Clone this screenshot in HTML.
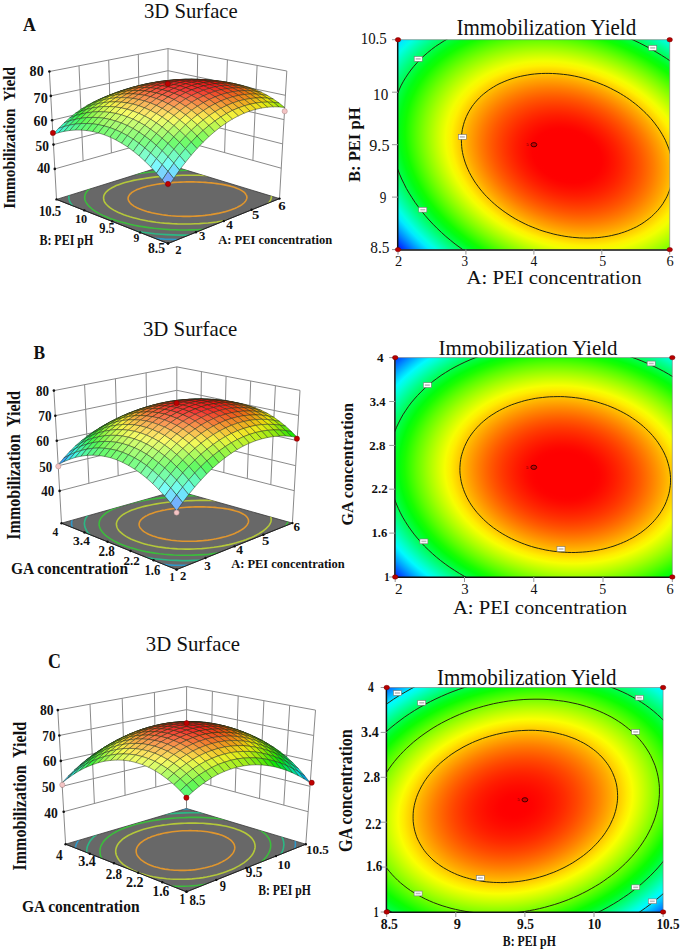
<!DOCTYPE html>
<html><head><meta charset="utf-8"><style>
html,body{margin:0;padding:0;background:#fff;}
svg{display:block;font-family:"Liberation Serif",serif;}
</style></head><body>
<svg width="685" height="952" viewBox="0 0 685 952" font-family="Liberation Serif, serif">
<rect width="685" height="952" fill="#fff"/>
<path d="M54.8,168.9L168.0,137.0L281.2,168.2M53.5,144.6L168.0,114.9L282.6,143.9M52.1,120.2L168.0,92.8L284.0,119.6M50.8,95.9L168.0,70.7L285.4,95.3M49.4,71.5L168.0,48.6L286.8,71.0M83.1,161.0L79.0,65.8M111.4,153.0L108.7,60.0M139.7,145.0L138.3,54.3M252.9,160.4L257.1,65.4M224.6,152.6L227.4,59.8M196.3,144.8L197.7,54.2M56.5,199.4L49.4,71.5M168.0,164.6L168.0,48.6M279.5,198.6L286.8,71.0" stroke="#8a8a8a" stroke-width="1" fill="none"/>
<clipPath id="flA"><polygon points="168.0,243.5 56.5,199.4 168.0,164.6 279.5,198.6"/></clipPath>
<polygon points="168.0,243.5 56.5,199.4 168.0,164.6 279.5,198.6" fill="#686868" stroke="#3a3a3a" stroke-width="0.8"/>
<g clip-path="url(#flA)" fill="none" stroke-width="1.6">
<path d="M281.0,169.9L275.9,168.8L270.5,167.9L264.9,167.0L259.1,166.2L253.2,165.5L247.0,164.9L240.6,164.3L234.1,163.8L227.5,163.4L220.8,163.1L213.9,162.8L207.0,162.6L200.1,162.5L193.1,162.5L186.1,162.6L179.1,162.7L172.1,162.9L165.2,163.1L158.3,163.5L151.5,163.9L144.8,164.4L138.2,164.9L131.8,165.6L125.5,166.3L119.4,167.0L113.5,167.9L107.8,168.8L102.3,169.8L97.0,170.9L92.0,172.1L87.3,173.3L82.8,174.6L78.7,176.0L74.8,177.4L71.3,178.9L68.0,180.5L65.1,182.1L62.6,183.8L60.4,185.6L58.5,187.4L57.1,189.3L55.9,191.2L55.2,193.1L54.8,195.1L54.8,197.2L55.1,199.2L55.8,201.3L56.9,203.4L58.4,205.5L60.2,207.6L62.4,209.7L64.9,211.8L67.7,213.9L70.9,215.9L74.4,217.9L78.3,219.9L82.4,221.8L86.8,223.7L91.5,225.4L96.5,227.1L101.8,228.8L107.2,230.3L112.9,231.8L118.8,233.1L124.9,234.3L131.2,235.4L137.6,236.4L144.2,237.3L150.8,238.0L157.6,238.6L164.5,239.1L171.4,239.4L178.4,239.6L185.4,239.7L192.4,239.6L199.4,239.4L206.4,239.0L213.3,238.5L220.1,237.8L226.9,237.1L233.5,236.2L240.0,235.1L246.4,234.0L252.6,232.7L258.6,231.3L264.4,229.9L270.0,228.3L275.4,226.6L280.5,224.9L285.4,223.0L290.0,221.1L294.3,219.2L298.3,217.2L302.0,215.1L305.4,213.0L308.4,210.9L311.2,208.8L313.5,206.7L315.6,204.5L317.2,202.4L318.5,200.2L319.5,198.1L320.1,196.0L320.3,194.0L320.1,192.0L319.5,190.0L318.6,188.1L317.4,186.2L315.7,184.4L313.8,182.6L311.4,180.9L308.7,179.3L305.7,177.7L302.3,176.2L298.7,174.8L294.7,173.4L290.4,172.2L285.8,171.0L281.0,169.9Z" stroke="#2f98c8"/>
<path d="M271.1,173.0L266.6,172.0L261.8,171.1L256.8,170.3L251.6,169.6L246.2,168.9L240.7,168.3L235.0,167.8L229.2,167.3L223.3,167.0L217.3,166.6L211.1,166.4L205.0,166.2L198.8,166.1L192.5,166.1L186.2,166.1L180.0,166.2L173.7,166.4L167.5,166.7L161.4,167.0L155.3,167.4L149.3,167.8L143.4,168.3L137.7,168.9L132.0,169.6L126.6,170.3L121.3,171.1L116.2,171.9L111.3,172.9L106.6,173.9L102.1,174.9L97.9,176.1L93.9,177.2L90.1,178.5L86.7,179.8L83.5,181.2L80.6,182.6L78.1,184.1L75.8,185.7L73.8,187.2L72.2,188.9L70.8,190.6L69.8,192.3L69.1,194.1L68.8,195.8L68.8,197.7L69.1,199.5L69.7,201.4L70.7,203.2L72.0,205.1L73.6,207.0L75.6,208.8L77.8,210.7L80.4,212.5L83.2,214.3L86.4,216.1L89.8,217.8L93.5,219.5L97.5,221.1L101.7,222.7L106.1,224.2L110.8,225.6L115.7,226.9L120.8,228.2L126.1,229.4L131.5,230.4L137.1,231.4L142.9,232.3L148.7,233.0L154.7,233.7L160.8,234.2L166.9,234.6L173.1,234.9L179.4,235.1L185.6,235.1L191.9,235.0L198.2,234.8L204.4,234.5L210.6,234.1L216.7,233.5L222.7,232.8L228.6,232.0L234.5,231.1L240.2,230.1L245.7,229.0L251.1,227.8L256.3,226.5L261.3,225.1L266.1,223.7L270.7,222.1L275.0,220.5L279.2,218.9L283.0,217.2L286.6,215.4L289.9,213.6L292.9,211.7L295.7,209.9L298.1,208.0L300.2,206.1L302.0,204.2L303.5,202.3L304.7,200.4L305.5,198.5L306.1,196.7L306.2,194.8L306.1,193.0L305.6,191.2L304.8,189.5L303.7,187.8L302.2,186.2L300.4,184.6L298.3,183.0L295.9,181.5L293.2,180.1L290.2,178.8L286.9,177.5L283.4,176.2L279.5,175.1L275.4,174.0L271.1,173.0Z" stroke="#2cb884"/>
<path d="M259.9,176.5L256.0,175.6L251.8,174.8L247.5,174.1L243.0,173.4L238.4,172.8L233.6,172.3L228.6,171.8L223.6,171.4L218.5,171.0L213.3,170.7L208.0,170.5L202.6,170.4L197.2,170.3L191.8,170.2L186.4,170.3L181.0,170.4L175.6,170.5L170.2,170.7L164.9,171.0L159.6,171.4L154.4,171.8L149.3,172.2L144.3,172.8L139.5,173.4L134.7,174.0L130.2,174.7L125.7,175.5L121.5,176.3L117.4,177.2L113.5,178.2L109.9,179.2L106.4,180.2L103.2,181.3L100.2,182.5L97.5,183.7L95.0,185.0L92.7,186.3L90.7,187.7L89.0,189.1L87.6,190.5L86.5,192.0L85.6,193.5L85.0,195.0L84.7,196.6L84.7,198.1L85.0,199.7L85.5,201.3L86.4,202.9L87.5,204.5L88.9,206.1L90.6,207.7L92.5,209.3L94.7,210.9L97.2,212.4L99.9,213.9L102.9,215.4L106.1,216.8L109.5,218.2L113.2,219.5L117.0,220.8L121.1,222.0L125.3,223.1L129.7,224.2L134.3,225.2L139.0,226.1L143.9,226.9L148.8,227.6L153.9,228.3L159.1,228.8L164.4,229.2L169.7,229.6L175.1,229.8L180.5,230.0L185.9,230.0L191.3,229.9L196.7,229.8L202.1,229.5L207.5,229.1L212.8,228.6L218.0,228.1L223.1,227.4L228.2,226.6L233.1,225.8L237.9,224.9L242.6,223.8L247.1,222.7L251.4,221.6L255.6,220.3L259.5,219.0L263.3,217.7L266.9,216.3L270.2,214.8L273.3,213.3L276.2,211.8L278.8,210.2L281.2,208.6L283.3,207.0L285.1,205.4L286.7,203.7L288.0,202.1L289.0,200.5L289.7,198.9L290.2,197.3L290.3,195.7L290.2,194.1L289.8,192.6L289.1,191.0L288.1,189.6L286.8,188.1L285.3,186.7L283.5,185.4L281.4,184.1L279.1,182.8L276.5,181.6L273.6,180.5L270.5,179.4L267.2,178.4L263.7,177.4L259.9,176.5Z" stroke="#3cbc3c"/>
<path d="M246.6,180.6L243.4,179.9L240.0,179.2L236.5,178.6L232.8,178.0L229.0,177.5L225.1,177.0L221.1,176.6L217.0,176.2L212.8,175.9L208.5,175.7L204.2,175.5L199.9,175.3L195.5,175.3L191.0,175.2L186.6,175.3L182.2,175.3L177.8,175.5L173.4,175.6L169.0,175.9L164.7,176.2L160.5,176.5L156.3,176.9L152.3,177.4L148.3,177.9L144.4,178.5L140.7,179.1L137.1,179.7L133.6,180.4L130.3,181.2L127.1,182.0L124.1,182.8L121.3,183.7L118.7,184.7L116.2,185.6L114.0,186.7L111.9,187.7L110.1,188.8L108.5,189.9L107.1,191.1L105.9,192.3L105.0,193.5L104.3,194.7L103.8,196.0L103.6,197.3L103.6,198.5L103.8,199.8L104.2,201.1L104.9,202.5L105.8,203.8L107.0,205.0L108.4,206.3L109.9,207.6L111.8,208.9L113.8,210.1L116.0,211.3L118.4,212.5L121.0,213.6L123.8,214.7L126.8,215.8L130.0,216.8L133.3,217.7L136.7,218.6L140.3,219.5L144.1,220.2L147.9,221.0L151.9,221.6L155.9,222.2L160.1,222.7L164.3,223.1L168.6,223.4L172.9,223.7L177.3,223.9L181.7,224.0L186.2,224.0L190.6,224.0L195.0,223.8L199.4,223.6L203.8,223.3L208.1,223.0L212.4,222.5L216.6,222.0L220.7,221.4L224.7,220.7L228.7,220.0L232.5,219.1L236.1,218.3L239.7,217.4L243.1,216.4L246.3,215.3L249.4,214.3L252.3,213.1L255.0,212.0L257.6,210.8L259.9,209.5L262.1,208.3L264.0,207.0L265.7,205.7L267.2,204.4L268.5,203.1L269.6,201.8L270.4,200.5L271.0,199.1L271.3,197.8L271.5,196.5L271.4,195.3L271.0,194.0L270.4,192.7L269.6,191.5L268.6,190.3L267.3,189.2L265.9,188.1L264.2,187.0L262.3,185.9L260.1,184.9L257.8,184.0L255.3,183.1L252.6,182.2L249.7,181.4L246.6,180.6Z" stroke="#b4c83a"/>
<path d="M229.3,185.9L227.0,185.4L224.6,184.9L222.1,184.4L219.5,184.0L216.9,183.6L214.1,183.2L211.3,182.9L208.4,182.7L205.4,182.4L202.4,182.2L199.3,182.1L196.2,182.0L193.1,181.9L190.0,181.9L186.9,181.9L183.7,182.0L180.6,182.1L177.5,182.2L174.4,182.4L171.4,182.6L168.4,182.9L165.5,183.2L162.6,183.5L159.8,183.9L157.0,184.3L154.4,184.7L151.8,185.2L149.4,185.8L147.0,186.3L144.8,186.9L142.7,187.5L140.7,188.2L138.8,188.9L137.1,189.6L135.5,190.4L134.1,191.1L132.8,191.9L131.6,192.7L130.7,193.6L129.8,194.4L129.2,195.3L128.7,196.2L128.3,197.1L128.1,198.0L128.1,198.9L128.3,199.8L128.6,200.7L129.1,201.6L129.8,202.5L130.6,203.4L131.5,204.3L132.7,205.2L133.9,206.1L135.4,206.9L136.9,207.8L138.7,208.6L140.5,209.3L142.5,210.1L144.6,210.8L146.8,211.5L149.2,212.1L151.6,212.8L154.1,213.3L156.8,213.8L159.5,214.3L162.3,214.8L165.2,215.1L168.1,215.5L171.1,215.8L174.1,216.0L177.2,216.2L180.3,216.3L183.4,216.4L186.6,216.4L189.7,216.4L192.8,216.3L195.9,216.1L199.0,215.9L202.1,215.7L205.1,215.4L208.1,215.0L211.0,214.6L213.8,214.1L216.6,213.6L219.3,213.1L221.9,212.5L224.4,211.9L226.8,211.2L229.1,210.5L231.3,209.8L233.3,209.0L235.3,208.2L237.1,207.4L238.7,206.5L240.2,205.7L241.6,204.8L242.8,203.9L243.9,203.0L244.8,202.1L245.5,201.1L246.1,200.2L246.5,199.3L246.8,198.4L246.9,197.4L246.8,196.5L246.6,195.6L246.1,194.8L245.6,193.9L244.9,193.0L244.0,192.2L242.9,191.4L241.7,190.6L240.4,189.9L238.9,189.1L237.2,188.4L235.4,187.7L233.5,187.1L231.5,186.5L229.3,185.9Z" stroke="#e0962e"/>
</g>
<path d="M56.5,199.4L168.0,243.5L279.5,198.6" stroke="#222" stroke-width="1" fill="none"/>
<circle cx="168.0" cy="243.5" r="1.2" fill="#111"/><circle cx="195.9" cy="232.3" r="1.2" fill="#111"/><circle cx="223.8" cy="221.1" r="1.2" fill="#111"/><circle cx="251.6" cy="209.8" r="1.2" fill="#111"/><circle cx="279.5" cy="198.6" r="1.2" fill="#111"/><circle cx="168.0" cy="243.5" r="1.2" fill="#111"/><circle cx="140.1" cy="232.5" r="1.2" fill="#111"/><circle cx="112.2" cy="221.4" r="1.2" fill="#111"/><circle cx="84.4" cy="210.4" r="1.2" fill="#111"/><circle cx="56.5" cy="199.4" r="1.2" fill="#111"/><circle cx="54.8" cy="168.9" r="1.3" fill="#111"/><circle cx="53.5" cy="144.6" r="1.3" fill="#111"/><circle cx="52.1" cy="120.2" r="1.3" fill="#111"/><circle cx="50.8" cy="95.9" r="1.3" fill="#111"/><circle cx="49.4" cy="71.5" r="1.3" fill="#111"/>
<g stroke="#1e2a18" stroke-width="0.6" stroke-opacity="0.75" stroke-linejoin="round">
<path d="M168.0,96.3L173.8,98.7L168.0,102.3L162.2,99.9Z" fill="#00d990"/>
<path d="M162.2,94.3L168.0,96.3L162.2,99.9L156.4,97.8Z" fill="#00d959"/>
<path d="M173.8,93.2L179.6,95.5L173.8,98.7L168.0,96.3Z" fill="#00d948"/>
<path d="M156.4,92.7L162.2,94.3L156.4,97.8L150.6,96.1Z" fill="#00da29"/>
<path d="M179.7,90.4L185.4,92.6L179.6,95.5L173.8,93.2Z" fill="#00d906"/>
<path d="M168.0,91.2L173.8,93.2L168.0,96.3L162.2,94.3Z" fill="#00da12"/>
<path d="M150.5,91.6L156.4,92.7L150.6,96.1L144.8,94.9Z" fill="#01dc00"/>
<path d="M162.2,89.7L168.0,91.2L162.2,94.3L156.4,92.7Z" fill="#1ddb00"/>
<path d="M173.8,88.5L179.7,90.4L173.8,93.2L168.0,91.2Z" fill="#2fda00"/>
<path d="M185.5,88.0L191.3,90.1L185.4,92.6L179.7,90.4Z" fill="#35d900"/>
<path d="M144.7,90.8L150.5,91.6L144.8,94.9L138.9,94.0Z" fill="#26de01"/>
<path d="M156.3,88.6L162.2,89.7L156.4,92.7L150.5,91.6Z" fill="#47dd00"/>
<path d="M168.0,87.1L173.8,88.5L168.0,91.2L162.2,89.7Z" fill="#5edc00"/>
<path d="M179.7,86.2L185.5,88.0L179.7,90.4L173.8,88.5Z" fill="#6adb00"/>
<path d="M191.4,85.9L197.2,88.0L191.3,90.1L185.5,88.0Z" fill="#6bda00"/>
<path d="M138.9,90.4L144.7,90.8L138.9,94.0L133.1,93.6Z" fill="#45e002"/>
<path d="M162.2,86.1L168.0,87.1L162.2,89.7L156.3,88.6Z" fill="#87de01"/>
<path d="M173.9,84.8L179.7,86.2L173.8,88.5L168.0,87.1Z" fill="#98dd00"/>
<path d="M197.3,84.3L203.1,86.3L197.2,88.0L191.4,85.9Z" fill="#9bdb00"/>
<path d="M150.5,87.9L156.3,88.6L150.5,91.6L144.7,90.8Z" fill="#6cdf01"/>
<path d="M185.6,84.3L191.4,85.9L185.5,88.0L179.7,86.2Z" fill="#9fdc00"/>
<path d="M133.0,90.5L138.9,90.4L133.1,93.6L127.3,93.6Z" fill="#5ee103"/>
<path d="M144.6,87.6L150.5,87.9L144.7,90.8L138.9,90.4Z" fill="#8ae002"/>
<path d="M156.3,85.5L162.2,86.1L156.3,88.6L150.5,87.9Z" fill="#abe002"/>
<path d="M168.0,83.9L173.9,84.8L168.0,87.1L162.2,86.1Z" fill="#c1df01"/>
<path d="M179.7,83.0L185.6,84.3L179.7,86.2L173.9,84.8Z" fill="#cdde01"/>
<path d="M191.5,82.7L197.3,84.3L191.4,85.9L185.6,84.3Z" fill="#cedd00"/>
<path d="M203.2,83.1L209.0,85.0L203.1,86.3L197.3,84.3Z" fill="#c4dc00"/>
<path d="M127.1,91.0L133.0,90.5L127.3,93.6L121.4,94.0Z" fill="#70e305"/>
<path d="M150.5,85.3L156.3,85.5L150.5,87.9L144.6,87.6Z" fill="#c8e103"/>
<path d="M185.6,81.6L191.5,82.7L185.6,84.3L179.7,83.0Z" fill="#dfc201"/>
<path d="M209.1,82.3L214.9,84.1L209.0,85.0L203.2,83.1Z" fill="#dcd100"/>
<path d="M138.8,87.8L144.6,87.6L138.9,90.4L133.0,90.5Z" fill="#a1e204"/>
<path d="M162.2,83.4L168.0,83.9L162.2,86.1L156.3,85.5Z" fill="#e0dd02"/>
<path d="M173.9,82.2L179.7,83.0L173.9,84.8L168.0,83.9Z" fill="#e0ca02"/>
<path d="M197.4,81.6L203.2,83.1L197.3,84.3L191.5,82.7Z" fill="#ddc401"/>
<path d="M121.3,91.9L127.1,91.0L121.4,94.0L115.6,94.8Z" fill="#7ce507"/>
<path d="M132.9,88.4L138.8,87.8L133.0,90.5L127.1,91.0Z" fill="#b3e406"/>
<path d="M144.6,85.5L150.5,85.3L144.6,87.6L138.8,87.8Z" fill="#dee305"/>
<path d="M156.3,83.3L162.2,83.4L156.3,85.5L150.5,85.3Z" fill="#e2c504"/>
<path d="M168.0,81.7L173.9,82.2L168.0,83.9L162.2,83.4Z" fill="#e1ad03"/>
<path d="M179.8,80.8L185.6,81.6L179.7,83.0L173.9,82.2Z" fill="#e09f02"/>
<path d="M191.5,80.5L197.4,81.6L191.5,82.7L185.6,81.6Z" fill="#df9c02"/>
<path d="M203.3,80.9L209.1,82.3L203.2,83.1L197.4,81.6Z" fill="#dea401"/>
<path d="M215.0,81.9L220.8,83.7L214.9,84.1L209.1,82.3Z" fill="#ddb601"/>
<path d="M115.5,93.3L121.3,91.9L115.6,94.8L109.7,96.1Z" fill="#82e70a"/>
<path d="M127.1,89.4L132.9,88.4L127.1,91.0L121.3,91.9Z" fill="#bde609"/>
<path d="M138.7,86.2L144.6,85.5L138.8,87.8L132.9,88.4Z" fill="#e5dc08"/>
<path d="M150.4,83.6L156.3,83.3L150.5,85.3L144.6,85.5Z" fill="#e4b406"/>
<path d="M162.2,81.7L168.0,81.7L162.2,83.4L156.3,83.3Z" fill="#e39605"/>
<path d="M173.9,80.5L179.8,80.8L173.9,82.2L168.0,81.7Z" fill="#e28304"/>
<path d="M185.7,79.9L191.5,80.5L185.6,81.6L179.8,80.8Z" fill="#e17a03"/>
<path d="M197.4,79.9L203.3,80.9L197.4,81.6L191.5,80.5Z" fill="#e07c02"/>
<path d="M209.2,80.6L215.0,81.9L209.1,82.3L203.3,80.9Z" fill="#df8901"/>
<path d="M220.9,82.0L226.7,83.6L220.8,83.7L215.0,81.9Z" fill="#dea101"/>
<path d="M109.6,95.1L115.5,93.3L109.7,96.1L103.9,97.8Z" fill="#81e90e"/>
<path d="M132.9,87.3L138.7,86.2L132.9,88.4L127.1,89.4Z" fill="#e7d70b"/>
<path d="M144.5,84.4L150.4,83.6L144.6,85.5L138.7,86.2Z" fill="#e6a90a"/>
<path d="M168.0,80.6L173.9,80.5L168.0,81.7L162.2,81.7Z" fill="#e56d07"/>
<path d="M191.6,79.4L197.4,79.9L191.5,80.5L185.7,79.9Z" fill="#e25c04"/>
<path d="M203.4,79.7L209.2,80.6L203.3,80.9L197.4,79.9Z" fill="#e16303"/>
<path d="M226.8,82.4L232.6,84.0L226.7,83.6L220.9,82.0Z" fill="#df9201"/>
<path d="M121.2,90.9L127.1,89.4L121.3,91.9L115.5,93.3Z" fill="#c2e80d"/>
<path d="M156.3,82.2L162.2,81.7L156.3,83.3L150.4,83.6Z" fill="#e58608"/>
<path d="M179.8,79.6L185.7,79.9L179.8,80.8L173.9,80.5Z" fill="#e45f05"/>
<path d="M215.1,80.8L220.9,82.0L215.0,81.9L209.2,80.6Z" fill="#e07502"/>
<path d="M103.8,97.4L109.6,95.1L103.9,97.8L98.1,100.0Z" fill="#7bea12"/>
<path d="M115.4,92.8L121.2,90.9L115.5,93.3L109.6,95.1Z" fill="#bfea11"/>
<path d="M127.0,88.9L132.9,87.3L127.1,89.4L121.2,90.9Z" fill="#e9d80f"/>
<path d="M138.7,85.6L144.5,84.4L138.7,86.2L132.9,87.3Z" fill="#e8a50e"/>
<path d="M150.4,83.0L156.3,82.2L150.4,83.6L144.5,84.4Z" fill="#e87d0c"/>
<path d="M162.2,81.1L168.0,80.6L162.2,81.7L156.3,82.2Z" fill="#e75f0a"/>
<path d="M173.9,79.8L179.8,79.6L173.9,80.5L168.0,80.6Z" fill="#e64b08"/>
<path d="M185.7,79.2L191.6,79.4L185.7,79.9L179.8,79.6Z" fill="#e54207"/>
<path d="M197.5,79.3L203.4,79.7L197.4,79.9L191.6,79.4Z" fill="#e34405"/>
<path d="M209.3,80.0L215.1,80.8L209.2,80.6L203.4,79.7Z" fill="#e25004"/>
<path d="M221.0,81.3L226.8,82.4L220.9,82.0L215.1,80.8Z" fill="#e16803"/>
<path d="M232.7,83.3L238.5,84.8L232.6,84.0L226.8,82.4Z" fill="#e08a02"/>
<path d="M156.3,82.1L162.2,81.1L156.3,82.2L150.4,83.0Z" fill="#e9580e"/>
<path d="M179.8,79.5L185.7,79.2L179.8,79.6L173.9,79.8Z" fill="#e7300a"/>
<path d="M98.0,100.1L103.8,97.4L98.1,100.0L92.4,102.6Z" fill="#6eec17"/>
<path d="M109.6,95.2L115.4,92.8L109.6,95.1L103.8,97.4Z" fill="#b7eb16"/>
<path d="M121.1,90.9L127.0,88.9L121.2,90.9L115.4,92.8Z" fill="#ebdf14"/>
<path d="M132.8,87.3L138.7,85.6L132.9,87.3L127.0,88.9Z" fill="#eaa912"/>
<path d="M144.5,84.4L150.4,83.0L144.5,84.4L138.7,85.6Z" fill="#ea7b10"/>
<path d="M168.0,80.5L173.9,79.8L168.0,80.6L162.2,81.1Z" fill="#e83f0c"/>
<path d="M191.6,79.2L197.5,79.3L191.6,79.4L185.7,79.2Z" fill="#e62c08"/>
<path d="M203.4,79.6L209.3,80.0L203.4,79.7L197.5,79.3Z" fill="#e43306"/>
<path d="M215.2,80.6L221.0,81.3L215.1,80.8L209.3,80.0Z" fill="#e34405"/>
<path d="M226.9,82.3L232.7,83.3L226.8,82.4L221.0,81.3Z" fill="#e26104"/>
<path d="M238.6,84.7L244.3,86.0L238.5,84.8L232.7,83.3Z" fill="#e18802"/>
<path d="M92.3,103.3L98.0,100.1L92.4,102.6L86.6,105.7Z" fill="#5cee1d"/>
<path d="M103.8,98.0L109.6,95.2L103.8,97.4L98.0,100.1Z" fill="#a9ed1b"/>
<path d="M115.3,93.4L121.1,90.9L115.4,92.8L109.6,95.2Z" fill="#eced1a"/>
<path d="M126.9,89.4L132.8,87.3L127.0,88.9L121.1,90.9Z" fill="#ecb218"/>
<path d="M138.6,86.1L144.5,84.4L138.7,85.6L132.8,87.3Z" fill="#ec8116"/>
<path d="M150.4,83.5L156.3,82.1L150.4,83.0L144.5,84.4Z" fill="#eb5914"/>
<path d="M162.1,81.6L168.0,80.5L162.2,81.1L156.3,82.1Z" fill="#ea3a11"/>
<path d="M173.9,80.3L179.8,79.5L173.9,79.8L168.0,80.5Z" fill="#e9260f"/>
<path d="M185.7,79.7L191.6,79.2L185.7,79.2L179.8,79.5Z" fill="#e81c0c"/>
<path d="M197.5,79.7L203.4,79.6L197.5,79.3L191.6,79.2Z" fill="#e71d0a"/>
<path d="M209.3,80.4L215.2,80.6L209.3,80.0L203.4,79.6Z" fill="#e52808"/>
<path d="M221.1,81.8L226.9,82.3L221.0,81.3L215.2,80.6Z" fill="#e43f06"/>
<path d="M232.8,83.8L238.6,84.7L232.7,83.3L226.9,82.3Z" fill="#e36004"/>
<path d="M244.4,86.5L250.2,87.7L244.3,86.0L238.6,84.7Z" fill="#e28d03"/>
<path d="M86.6,107.0L92.3,103.3L86.6,105.7L80.9,109.3Z" fill="#45ef22"/>
<path d="M98.0,101.3L103.8,98.0L98.0,100.1L92.3,103.3Z" fill="#96ef21"/>
<path d="M109.5,96.3L115.3,93.4L109.6,95.2L103.8,98.0Z" fill="#dcee20"/>
<path d="M121.1,92.0L126.9,89.4L121.1,90.9L115.3,93.4Z" fill="#eec21e"/>
<path d="M144.5,85.4L150.4,83.5L144.5,84.4L138.6,86.1Z" fill="#ed601a"/>
<path d="M156.3,83.1L162.1,81.6L156.3,82.1L150.4,83.5Z" fill="#ec3d17"/>
<path d="M168.0,81.5L173.9,80.3L168.0,80.5L162.1,81.6Z" fill="#eb2414"/>
<path d="M179.8,80.5L185.7,79.7L179.8,79.5L173.9,80.3Z" fill="#ea1411"/>
<path d="M191.7,80.2L197.5,79.7L191.6,79.2L185.7,79.7Z" fill="#e90f0f"/>
<path d="M215.2,81.6L221.1,81.8L215.2,80.6L209.3,80.4Z" fill="#e62509"/>
<path d="M227.0,83.3L232.8,83.8L226.9,82.3L221.1,81.8Z" fill="#e54007"/>
<path d="M238.7,85.7L244.4,86.5L238.6,84.7L232.8,83.8Z" fill="#e46705"/>
<path d="M250.3,88.7L256.0,89.8L250.2,87.7L244.4,86.5Z" fill="#e29804"/>
<path d="M132.8,88.4L138.6,86.1L132.8,87.3L126.9,89.4Z" fill="#ed8c1c"/>
<path d="M203.4,80.6L209.3,80.4L203.4,79.6L197.5,79.7Z" fill="#e8140c"/>
<path d="M80.9,111.2L86.6,107.0L80.9,109.3L75.2,113.4Z" fill="#2af129"/>
<path d="M103.7,99.8L109.5,96.3L103.8,98.0L98.0,101.3Z" fill="#c7f026"/>
<path d="M115.3,95.1L121.1,92.0L115.3,93.4L109.5,96.3Z" fill="#f0d725"/>
<path d="M138.6,87.8L144.5,85.4L138.6,86.1L132.8,88.4Z" fill="#ef6e20"/>
<path d="M162.1,83.1L168.0,81.5L162.1,81.6L156.3,83.1Z" fill="#ed281b"/>
<path d="M173.9,81.8L179.8,80.5L173.9,80.3L168.0,81.5Z" fill="#ec1818"/>
<path d="M197.6,81.2L203.4,80.6L197.5,79.7L191.7,80.2Z" fill="#ea1111"/>
<path d="M221.1,83.3L227.0,83.3L221.1,81.8L215.2,81.6Z" fill="#e7270b"/>
<path d="M232.8,85.3L238.7,85.7L232.8,83.8L227.0,83.3Z" fill="#e64809"/>
<path d="M256.1,91.4L261.8,92.4L256.0,89.8L250.3,88.7Z" fill="#e3aa05"/>
<path d="M92.2,105.1L98.0,101.3L92.3,103.3L86.6,107.0Z" fill="#7df028"/>
<path d="M126.9,91.1L132.8,88.4L126.9,89.4L121.1,92.0Z" fill="#ef9e23"/>
<path d="M150.4,85.1L156.3,83.1L150.4,83.5L144.5,85.4Z" fill="#ee471e"/>
<path d="M185.8,81.2L191.7,80.2L185.7,79.7L179.8,80.5Z" fill="#eb1414"/>
<path d="M209.4,81.9L215.2,81.6L209.3,80.4L203.4,80.6Z" fill="#e8120e"/>
<path d="M244.5,88.0L250.3,88.7L244.4,86.5L238.7,85.7Z" fill="#e47306"/>
<path d="M75.2,115.8L80.9,111.2L75.2,113.4L69.6,117.9Z" fill="#2ff253"/>
<path d="M86.5,109.4L92.2,105.1L86.6,107.0L80.9,111.2Z" fill="#60f22e"/>
<path d="M98.0,103.6L103.7,99.8L98.0,101.3L92.2,105.1Z" fill="#adf22d"/>
<path d="M109.5,98.6L115.3,95.1L109.5,96.3L103.7,99.8Z" fill="#f1f12c"/>
<path d="M121.1,94.2L126.9,91.1L121.1,92.0L115.3,95.1Z" fill="#f1b52a"/>
<path d="M132.8,90.6L138.6,87.8L132.8,88.4L126.9,91.1Z" fill="#f08228"/>
<path d="M144.5,87.6L150.4,85.1L144.5,85.4L138.6,87.8Z" fill="#f05725"/>
<path d="M156.3,85.2L162.1,83.1L156.3,83.1L150.4,85.1Z" fill="#ef3422"/>
<path d="M168.0,83.6L173.9,81.8L168.0,81.5L162.1,83.1Z" fill="#ee1f1f"/>
<path d="M179.9,82.6L185.8,81.2L179.8,80.5L173.9,81.8Z" fill="#ed1b1b"/>
<path d="M191.7,82.3L197.6,81.2L191.7,80.2L185.8,81.2Z" fill="#ec1717"/>
<path d="M203.5,82.7L209.4,81.9L203.4,80.6L197.6,81.2Z" fill="#eb1313"/>
<path d="M215.2,83.7L221.1,83.3L215.2,81.6L209.4,81.9Z" fill="#e91710"/>
<path d="M227.0,85.4L232.8,85.3L227.0,83.3L221.1,83.3Z" fill="#e8310d"/>
<path d="M238.7,87.8L244.5,88.0L238.7,85.7L232.8,85.3Z" fill="#e7560a"/>
<path d="M250.3,90.8L256.1,91.4L250.3,88.7L244.5,88.0Z" fill="#e58608"/>
<path d="M261.9,94.6L267.6,95.5L261.8,92.4L256.1,91.4Z" fill="#e4c206"/>
<path d="M69.6,120.9L75.2,115.8L69.6,117.9L64.0,122.9Z" fill="#35f383"/>
<path d="M80.8,114.1L86.5,109.4L80.9,111.2L75.2,115.8Z" fill="#40f335"/>
<path d="M92.2,108.0L98.0,103.6L92.2,105.1L86.5,109.4Z" fill="#8ff334"/>
<path d="M103.7,102.6L109.5,98.6L103.7,99.8L98.0,103.6Z" fill="#d6f333"/>
<path d="M115.3,97.9L121.1,94.2L115.3,95.1L109.5,98.6Z" fill="#f3d132"/>
<path d="M126.9,93.9L132.8,90.6L126.9,91.1L121.1,94.2Z" fill="#f29b30"/>
<path d="M138.6,90.5L144.5,87.6L138.6,87.8L132.8,90.6Z" fill="#f26c2d"/>
<path d="M150.4,87.8L156.3,85.2L150.4,85.1L144.5,87.6Z" fill="#f1462a"/>
<path d="M162.1,85.8L168.0,83.6L162.1,83.1L156.3,85.2Z" fill="#f02827"/>
<path d="M173.9,84.5L179.9,82.6L173.9,81.8L168.0,83.6Z" fill="#ef2323"/>
<path d="M185.8,83.8L191.7,82.3L185.8,81.2L179.9,82.6Z" fill="#ee1e1e"/>
<path d="M197.6,83.9L203.5,82.7L197.6,81.2L191.7,82.3Z" fill="#ed1a1a"/>
<path d="M209.4,84.6L215.2,83.7L209.4,81.9L203.5,82.7Z" fill="#ec1616"/>
<path d="M221.1,85.9L227.0,85.4L221.1,83.3L215.2,83.7Z" fill="#ea2112"/>
<path d="M232.8,88.0L238.7,87.8L232.8,85.3L227.0,85.4Z" fill="#e9400e"/>
<path d="M244.5,90.7L250.3,90.8L244.5,88.0L238.7,87.8Z" fill="#e76a0b"/>
<path d="M256.1,94.1L261.9,94.6L256.1,91.4L250.3,90.8Z" fill="#e6a009"/>
<path d="M267.6,98.2L273.3,99.0L267.6,95.5L261.9,94.6Z" fill="#e4e106"/>
<path d="M64.0,126.6L69.6,120.9L64.0,122.9L58.4,128.5Z" fill="#3bf4b6"/>
<path d="M75.2,119.4L80.8,114.1L75.2,115.8L69.6,120.9Z" fill="#3bf45b"/>
<path d="M86.5,112.9L92.2,108.0L86.5,109.4L80.8,114.1Z" fill="#6ef43b"/>
<path d="M98.0,107.1L103.7,102.6L98.0,103.6L92.2,108.0Z" fill="#b7f43b"/>
<path d="M109.5,102.0L115.3,97.9L109.5,98.6L103.7,102.6Z" fill="#f4f13a"/>
<path d="M121.1,97.6L126.9,93.9L121.1,94.2L115.3,97.9Z" fill="#f4b838"/>
<path d="M132.8,93.9L138.6,90.5L132.8,90.6L126.9,93.9Z" fill="#f38736"/>
<path d="M144.5,90.9L150.4,87.8L144.5,87.6L138.6,90.5Z" fill="#f35e33"/>
<path d="M156.3,88.5L162.1,85.8L156.3,85.2L150.4,87.8Z" fill="#f23c2f"/>
<path d="M168.0,86.8L173.9,84.5L168.0,83.6L162.1,85.8Z" fill="#f12b2b"/>
<path d="M179.9,85.8L185.8,83.8L179.9,82.6L173.9,84.5Z" fill="#f02626"/>
<path d="M191.7,85.5L197.6,83.9L191.7,82.3L185.8,83.8Z" fill="#ef2222"/>
<path d="M203.5,85.9L209.4,84.6L203.5,82.7L197.6,83.9Z" fill="#ee1d1d"/>
<path d="M215.2,86.9L221.1,85.9L215.2,83.7L209.4,84.6Z" fill="#ec1a18"/>
<path d="M227.0,88.6L232.8,88.0L227.0,85.4L221.1,85.9Z" fill="#eb3214"/>
<path d="M238.7,91.0L244.5,90.7L238.7,87.8L232.8,88.0Z" fill="#e95610"/>
<path d="M250.3,94.1L256.1,94.1L250.3,90.8L244.5,90.7Z" fill="#e8850d"/>
<path d="M261.9,97.9L267.6,98.2L261.9,94.6L256.1,94.1Z" fill="#e6c00a"/>
<path d="M273.3,102.3L279.1,103.0L273.3,99.0L267.6,98.2Z" fill="#c4e507"/>
<path d="M138.6,94.4L144.5,90.9L138.6,90.5L132.8,93.9Z" fill="#f47a3b"/>
<path d="M197.6,87.7L203.5,85.9L197.6,83.9L191.7,85.5Z" fill="#f02525"/>
<path d="M58.5,132.7L64.0,126.6L58.4,128.5L52.9,134.5Z" fill="#41f5ec"/>
<path d="M69.6,125.1L75.2,119.4L69.6,120.9L64.0,126.6Z" fill="#42f58f"/>
<path d="M80.9,118.3L86.5,112.9L80.8,114.1L75.2,119.4Z" fill="#49f542"/>
<path d="M92.3,112.1L98.0,107.1L92.2,108.0L86.5,112.9Z" fill="#95f542"/>
<path d="M115.3,101.9L121.1,97.6L115.3,97.9L109.5,102.0Z" fill="#f5d940"/>
<path d="M126.9,97.8L132.8,93.9L126.9,93.9L121.1,97.6Z" fill="#f5a53e"/>
<path d="M150.4,91.7L156.3,88.5L150.4,87.8L144.5,90.9Z" fill="#f45538"/>
<path d="M185.8,87.7L191.7,85.5L185.8,83.8L179.9,85.8Z" fill="#f12a2a"/>
<path d="M209.3,88.4L215.2,86.9L209.4,84.6L203.5,85.9Z" fill="#ee2020"/>
<path d="M221.1,89.7L227.0,88.6L221.1,85.9L215.2,86.9Z" fill="#ed2c1b"/>
<path d="M244.5,94.5L250.3,94.1L244.5,90.7L238.7,91.0Z" fill="#ea7112"/>
<path d="M256.1,98.0L261.9,97.9L256.1,94.1L250.3,94.1Z" fill="#e9a60e"/>
<path d="M267.6,102.1L273.3,102.3L267.6,98.2L261.9,97.9Z" fill="#e7e60b"/>
<path d="M279.0,106.9L284.7,107.5L279.1,103.0L273.3,102.3Z" fill="#9ae608"/>
<path d="M103.7,106.6L109.5,102.0L103.7,102.6L98.0,107.1Z" fill="#d7f541"/>
<path d="M162.1,89.7L168.0,86.8L162.1,85.8L156.3,88.5Z" fill="#f33934"/>
<path d="M173.9,88.3L179.9,85.8L173.9,84.5L168.0,86.8Z" fill="#f22f2f"/>
<path d="M232.8,91.8L238.7,91.0L232.8,88.0L227.0,88.6Z" fill="#ec4916"/>
<path d="M75.3,124.1L80.9,118.3L75.2,119.4L69.6,125.1Z" fill="#49f770"/>
<path d="M109.5,106.6L115.3,101.9L109.5,102.0L103.7,106.6Z" fill="#f1f648"/>
<path d="M132.8,98.4L138.6,94.4L132.8,93.9L126.9,97.8Z" fill="#f69944"/>
<path d="M144.5,95.3L150.4,91.7L144.5,90.9L138.6,94.4Z" fill="#f57341"/>
<path d="M191.6,89.9L197.6,87.7L191.7,85.5L185.8,87.7Z" fill="#f22e2e"/>
<path d="M203.4,90.3L209.3,88.4L203.5,85.9L197.6,87.7Z" fill="#f02828"/>
<path d="M226.9,93.0L232.8,91.8L227.0,88.6L221.1,89.7Z" fill="#ee441d"/>
<path d="M261.8,102.3L267.6,102.1L261.9,97.9L256.1,98.0Z" fill="#e9cd0f"/>
<path d="M64.1,131.4L69.6,125.1L64.0,126.6L58.5,132.7Z" fill="#48f6c5"/>
<path d="M86.6,117.6L92.3,112.1L86.5,112.9L80.9,118.3Z" fill="#6ff749"/>
<path d="M98.0,111.7L103.7,106.6L98.0,107.1L92.3,112.1Z" fill="#b4f749"/>
<path d="M121.1,102.2L126.9,97.8L121.1,97.6L115.3,101.9Z" fill="#f6c746"/>
<path d="M156.3,93.0L162.1,89.7L156.3,88.5L150.4,91.7Z" fill="#f5533d"/>
<path d="M168.0,91.3L173.9,88.3L168.0,86.8L162.1,89.7Z" fill="#f43a38"/>
<path d="M179.8,90.3L185.8,87.7L179.9,85.8L173.9,88.3Z" fill="#f33333"/>
<path d="M215.2,91.3L221.1,89.7L215.2,86.9L209.3,88.4Z" fill="#ef2e22"/>
<path d="M238.6,95.4L244.5,94.5L238.7,91.0L232.8,91.8Z" fill="#ec6618"/>
<path d="M250.3,98.5L256.1,98.0L250.3,94.1L244.5,94.5Z" fill="#eb9313"/>
<path d="M273.3,106.8L279.0,106.9L273.3,102.3L267.6,102.1Z" fill="#bde80c"/>
<path d="M69.7,130.5L75.3,124.1L69.6,125.1L64.1,131.4Z" fill="#4ff7a6"/>
<path d="M81.0,123.6L86.6,117.6L80.9,118.3L75.3,124.1Z" fill="#4ff858"/>
<path d="M103.8,111.8L109.5,106.6L103.7,106.6L98.0,111.7Z" fill="#cdf84f"/>
<path d="M115.3,107.0L121.1,102.2L115.3,101.9L109.5,106.6Z" fill="#f7eb4e"/>
<path d="M127.0,102.9L132.8,98.4L126.9,97.8L121.1,102.2Z" fill="#f7bc4d"/>
<path d="M138.7,99.5L144.5,95.3L138.6,94.4L132.8,98.4Z" fill="#f7934a"/>
<path d="M150.4,96.7L156.3,93.0L150.4,91.7L144.5,95.3Z" fill="#f67146"/>
<path d="M162.2,94.7L168.0,91.3L162.1,89.7L156.3,93.0Z" fill="#f55542"/>
<path d="M173.9,93.3L179.8,90.3L173.9,88.3L168.0,91.3Z" fill="#f5413d"/>
<path d="M185.7,92.6L191.6,89.9L185.8,87.7L179.8,90.3Z" fill="#f43737"/>
<path d="M197.5,92.7L203.4,90.3L197.6,87.7L191.6,89.9Z" fill="#f23131"/>
<path d="M209.3,93.3L215.2,91.3L209.3,88.4L203.4,90.3Z" fill="#f1362a"/>
<path d="M221.1,94.7L226.9,93.0L221.1,89.7L215.2,91.3Z" fill="#f04624"/>
<path d="M232.8,96.8L238.6,95.4L232.8,91.8L226.9,93.0Z" fill="#ee611f"/>
<path d="M256.0,103.0L261.8,102.3L256.1,98.0L250.3,98.5Z" fill="#ebbb14"/>
<path d="M267.5,107.2L273.3,106.8L267.6,102.1L261.8,102.3Z" fill="#d9e910"/>
<path d="M92.3,117.4L98.0,111.7L92.3,112.1L86.6,117.6Z" fill="#8ef850"/>
<path d="M244.4,99.6L250.3,98.5L244.5,94.5L238.6,95.4Z" fill="#ed8819"/>
<path d="M75.4,130.1L81.0,123.6L75.3,124.1L69.7,130.5Z" fill="#56f88e"/>
<path d="M86.7,123.5L92.3,117.4L86.6,117.6L81.0,123.6Z" fill="#66f956"/>
<path d="M98.1,117.6L103.8,111.8L98.0,111.7L92.3,117.4Z" fill="#a7f956"/>
<path d="M109.6,112.4L115.3,107.0L109.5,106.6L103.8,111.8Z" fill="#dff956"/>
<path d="M121.2,107.9L127.0,102.9L121.1,102.2L115.3,107.0Z" fill="#f8e055"/>
<path d="M132.8,104.1L138.7,99.5L132.8,98.4L127.0,102.9Z" fill="#f8b652"/>
<path d="M144.5,101.0L150.4,96.7L144.5,95.3L138.7,99.5Z" fill="#f8924f"/>
<path d="M156.3,98.6L162.2,94.7L156.3,93.0L150.4,96.7Z" fill="#f7744b"/>
<path d="M168.0,96.9L173.9,93.3L168.0,91.3L162.2,94.7Z" fill="#f65d46"/>
<path d="M179.8,95.8L185.7,92.6L179.8,90.3L173.9,93.3Z" fill="#f54d40"/>
<path d="M191.6,95.5L197.5,92.7L191.6,89.9L185.7,92.6Z" fill="#f4443a"/>
<path d="M203.4,95.9L209.3,93.3L203.4,90.3L197.5,92.7Z" fill="#f34533"/>
<path d="M215.2,96.9L221.1,94.7L215.2,91.3L209.3,93.3Z" fill="#f14f2d"/>
<path d="M226.9,98.6L232.8,96.8L226.9,93.0L221.1,94.7Z" fill="#f06426"/>
<path d="M238.6,101.0L244.4,99.6L238.6,95.4L232.8,96.8Z" fill="#ef8420"/>
<path d="M250.2,104.2L256.0,103.0L250.3,98.5L244.4,99.6Z" fill="#edb01a"/>
<path d="M261.7,108.0L267.5,107.2L261.8,102.3L256.0,103.0Z" fill="#ebe816"/>
<path d="M92.4,123.8L98.1,117.6L92.3,117.4L86.7,123.5Z" fill="#7ff95d"/>
<path d="M115.4,113.4L121.2,107.9L115.3,107.0L109.6,112.4Z" fill="#ecf95c"/>
<path d="M221.0,100.9L226.9,98.6L221.1,94.7L215.2,96.9Z" fill="#f26c2e"/>
<path d="M244.3,105.8L250.2,104.2L244.4,99.6L238.6,101.0Z" fill="#efac21"/>
<path d="M81.1,130.1L86.7,123.5L81.0,123.6L75.4,130.1Z" fill="#5cf97d"/>
<path d="M103.9,118.2L109.6,112.4L103.8,111.8L98.1,117.6Z" fill="#b9f95d"/>
<path d="M127.0,109.2L132.8,104.1L127.0,102.9L121.2,107.9Z" fill="#f9db5a"/>
<path d="M138.7,105.7L144.5,101.0L138.7,99.5L132.8,104.1Z" fill="#f9b558"/>
<path d="M150.4,103.0L156.3,98.6L150.4,96.7L144.5,101.0Z" fill="#f89554"/>
<path d="M162.2,100.9L168.0,96.9L162.2,94.7L156.3,98.6Z" fill="#f87c4f"/>
<path d="M173.9,99.5L179.8,95.8L173.9,93.3L168.0,96.9Z" fill="#f7694a"/>
<path d="M185.7,98.8L191.6,95.5L185.7,92.6L179.8,95.8Z" fill="#f65d43"/>
<path d="M197.5,98.8L203.4,95.9L197.5,92.7L191.6,95.5Z" fill="#f5583c"/>
<path d="M209.2,99.5L215.2,96.9L209.3,93.3L203.4,95.9Z" fill="#f35d35"/>
<path d="M232.7,103.0L238.6,101.0L232.8,96.8L226.9,98.6Z" fill="#f08628"/>
<path d="M255.9,109.3L261.7,108.0L256.0,103.0L250.2,104.2Z" fill="#edde1c"/>
<path d="M86.8,130.6L92.4,123.8L86.7,123.5L81.1,130.1Z" fill="#63fa71"/>
<path d="M98.2,124.6L103.9,118.2L98.1,117.6L92.4,123.8Z" fill="#91fa63"/>
<path d="M109.7,119.4L115.4,113.4L109.6,112.4L103.9,118.2Z" fill="#c6fa63"/>
<path d="M121.3,114.8L127.0,109.2L121.2,107.9L115.4,113.4Z" fill="#f3fa62"/>
<path d="M156.3,105.4L162.2,100.9L156.3,98.6L150.4,103.0Z" fill="#f99d58"/>
<path d="M168.0,103.7L173.9,99.5L168.0,96.9L162.2,100.9Z" fill="#f88753"/>
<path d="M179.8,102.7L185.7,98.8L179.8,95.8L173.9,99.5Z" fill="#f7784d"/>
<path d="M215.1,103.7L221.0,100.9L215.2,96.9L209.2,99.5Z" fill="#f47b37"/>
<path d="M226.8,105.4L232.7,103.0L226.9,98.6L221.0,100.9Z" fill="#f28f30"/>
<path d="M238.4,107.9L244.3,105.8L238.6,101.0L232.7,103.0Z" fill="#f1af29"/>
<path d="M250.0,111.0L255.9,109.3L250.2,104.2L244.3,105.8Z" fill="#efda22"/>
<path d="M132.9,111.0L138.7,105.7L132.8,104.1L127.0,109.2Z" fill="#fada60"/>
<path d="M144.6,107.9L150.4,103.0L144.5,101.0L138.7,105.7Z" fill="#f9b85c"/>
<path d="M191.6,102.3L197.5,98.8L191.6,95.5L185.7,98.8Z" fill="#f67146"/>
<path d="M203.3,102.7L209.2,99.5L203.4,95.9L197.5,98.8Z" fill="#f5713e"/>
<path d="M104.0,125.9L109.7,119.4L103.9,118.2L98.2,124.6Z" fill="#9efb69"/>
<path d="M162.2,108.4L168.0,103.7L162.2,100.9L156.3,105.4Z" fill="#f9a95b"/>
<path d="M173.9,107.0L179.8,102.7L173.9,99.5L168.0,103.7Z" fill="#f89755"/>
<path d="M232.5,110.4L238.4,107.9L232.7,103.0L226.8,105.4Z" fill="#f2b731"/>
<path d="M92.6,131.5L98.2,124.6L92.4,123.8L86.8,130.6Z" fill="#69fb6b"/>
<path d="M115.5,121.0L121.3,114.8L115.4,113.4L109.7,119.4Z" fill="#cdfb68"/>
<path d="M127.1,116.8L132.9,111.0L127.0,109.2L121.3,114.8Z" fill="#f6fb67"/>
<path d="M138.7,113.3L144.6,107.9L138.7,105.7L132.9,111.0Z" fill="#fadd64"/>
<path d="M150.4,110.5L156.3,105.4L150.4,103.0L144.6,107.9Z" fill="#fac060"/>
<path d="M185.7,106.3L191.6,102.3L185.7,98.8L179.8,102.7Z" fill="#f78c4f"/>
<path d="M197.4,106.3L203.3,102.7L197.5,98.8L191.6,102.3Z" fill="#f68947"/>
<path d="M209.2,106.9L215.1,103.7L209.2,99.5L203.3,102.7Z" fill="#f58e40"/>
<path d="M220.9,108.3L226.8,105.4L221.0,100.9L215.1,103.7Z" fill="#f49d38"/>
<path d="M244.2,113.2L250.0,111.0L244.3,105.8L238.4,107.9Z" fill="#f1dc2a"/>
<path d="M98.4,132.9L104.0,125.9L98.2,124.6L92.6,131.5Z" fill="#74fc6f"/>
<path d="M109.8,127.6L115.5,121.0L109.7,119.4L104.0,125.9Z" fill="#a5fc6e"/>
<path d="M133.0,119.1L138.7,113.3L132.9,111.0L127.1,116.8Z" fill="#f4fb6b"/>
<path d="M144.6,116.0L150.4,110.5L144.6,107.9L138.7,113.3Z" fill="#fbe468"/>
<path d="M156.3,113.5L162.2,108.4L156.3,105.4L150.4,110.5Z" fill="#facb63"/>
<path d="M168.0,111.8L173.9,107.0L168.0,103.7L162.2,108.4Z" fill="#fab85e"/>
<path d="M179.8,110.7L185.7,106.3L179.8,102.7L173.9,107.0Z" fill="#f9ab57"/>
<path d="M191.5,110.3L197.4,106.3L191.6,102.3L185.7,106.3Z" fill="#f8a450"/>
<path d="M203.3,110.7L209.2,106.9L203.3,102.7L197.4,106.3Z" fill="#f7a649"/>
<path d="M226.6,113.5L232.5,110.4L226.8,105.4L220.9,108.3Z" fill="#f4c539"/>
<path d="M238.3,115.9L244.2,113.2L238.4,107.9L232.5,110.4Z" fill="#f2e431"/>
<path d="M121.4,123.0L127.1,116.8L121.3,114.8L115.5,121.0Z" fill="#d0fc6d"/>
<path d="M215.0,111.7L220.9,108.3L215.1,103.7L209.2,106.9Z" fill="#f5b041"/>
<path d="M104.2,134.8L109.8,127.6L104.0,125.9L98.4,132.9Z" fill="#7cfc73"/>
<path d="M115.6,129.8L121.4,123.0L115.5,121.0L109.8,127.6Z" fill="#a8fc73"/>
<path d="M127.2,125.5L133.0,119.1L127.1,116.8L121.4,123.0Z" fill="#cefc71"/>
<path d="M138.8,122.0L144.6,116.0L138.7,113.3L133.0,119.1Z" fill="#edfc6e"/>
<path d="M150.5,119.2L156.3,113.5L150.4,110.5L144.6,116.0Z" fill="#fbef6a"/>
<path d="M162.2,117.1L168.0,111.8L162.2,108.4L156.3,113.5Z" fill="#fbda65"/>
<path d="M173.9,115.6L179.8,110.7L173.9,107.0L168.0,111.8Z" fill="#facb5f"/>
<path d="M185.6,114.9L191.5,110.3L185.7,106.3L179.8,110.7Z" fill="#f9c259"/>
<path d="M197.3,114.9L203.3,110.7L197.4,106.3L191.5,110.3Z" fill="#f8c151"/>
<path d="M209.1,115.6L215.0,111.7L209.2,106.9L203.3,110.7Z" fill="#f7c749"/>
<path d="M220.7,117.0L226.6,113.5L220.9,108.3L215.0,111.7Z" fill="#f5d741"/>
<path d="M232.4,119.1L238.3,115.9L232.5,110.4L226.6,113.5Z" fill="#f4f139"/>
<path d="M110.0,137.1L115.6,129.8L109.8,127.6L104.2,134.8Z" fill="#7ffd78"/>
<path d="M121.5,132.5L127.2,125.5L121.4,123.0L115.6,129.8Z" fill="#a7fd76"/>
<path d="M133.0,128.5L138.8,122.0L133.0,119.1L127.2,125.5Z" fill="#c8fc74"/>
<path d="M144.7,125.3L150.5,119.2L144.6,116.0L138.8,122.0Z" fill="#e3fc71"/>
<path d="M156.3,122.9L162.2,117.1L156.3,113.5L150.5,119.2Z" fill="#f9fb6c"/>
<path d="M168.0,121.1L173.9,115.6L168.0,111.8L162.2,117.1Z" fill="#fbed67"/>
<path d="M179.7,120.0L185.6,114.9L179.8,110.7L173.9,115.6Z" fill="#fae260"/>
<path d="M191.4,119.6L197.3,114.9L191.5,110.3L185.6,114.9Z" fill="#f9de59"/>
<path d="M203.2,120.0L209.1,115.6L203.3,110.7L197.3,114.9Z" fill="#f8e151"/>
<path d="M214.8,121.0L220.7,117.0L215.0,111.7L209.1,115.6Z" fill="#f7ed49"/>
<path d="M226.5,122.8L232.4,119.1L226.6,113.5L220.7,117.0Z" fill="#e8f541"/>
<path d="M138.9,132.0L144.7,125.3L138.8,122.0L133.0,128.5Z" fill="#befd76"/>
<path d="M150.5,129.2L156.3,122.9L150.5,119.2L144.7,125.3Z" fill="#d5fc72"/>
<path d="M185.6,124.8L191.4,119.6L185.6,114.9L179.7,120.0Z" fill="#f6fa60"/>
<path d="M197.3,124.8L203.2,120.0L197.3,114.9L191.4,119.6Z" fill="#f4f959"/>
<path d="M115.8,139.9L121.5,132.5L115.6,129.8L110.0,137.1Z" fill="#7efd7b"/>
<path d="M127.3,135.6L133.0,128.5L127.2,125.5L121.5,132.5Z" fill="#a1fd79"/>
<path d="M162.2,127.0L168.0,121.1L162.2,117.1L156.3,122.9Z" fill="#e6fc6d"/>
<path d="M173.9,125.6L179.7,120.0L173.9,115.6L168.0,121.1Z" fill="#f2fb67"/>
<path d="M208.9,125.5L214.8,121.0L209.1,115.6L203.2,120.0Z" fill="#e9f851"/>
<path d="M220.6,126.9L226.5,122.8L220.7,117.0L214.8,121.0Z" fill="#d5f749"/>
<path d="M121.6,143.2L127.3,135.6L121.5,132.5L115.8,139.9Z" fill="#7dfd83"/>
<path d="M133.2,139.2L138.9,132.0L133.0,128.5L127.3,135.6Z" fill="#97fd7b"/>
<path d="M144.7,136.0L150.5,129.2L144.7,125.3L138.9,132.0Z" fill="#b0fd78"/>
<path d="M156.4,133.5L162.2,127.0L156.3,122.9L150.5,129.2Z" fill="#c3fc73"/>
<path d="M168.0,131.7L173.9,125.6L168.0,121.1L162.2,127.0Z" fill="#d0fc6e"/>
<path d="M179.7,130.6L185.6,124.8L179.7,120.0L173.9,125.6Z" fill="#d7fb67"/>
<path d="M191.4,130.2L197.3,124.8L191.4,119.6L185.6,124.8Z" fill="#d7fa60"/>
<path d="M203.0,130.5L208.9,125.5L203.2,120.0L197.3,124.8Z" fill="#cff958"/>
<path d="M214.7,131.6L220.6,126.9L214.8,121.0L208.9,125.5Z" fill="#bef850"/>
<path d="M127.5,146.9L133.2,139.2L127.3,135.6L121.6,143.2Z" fill="#7ffe90"/>
<path d="M139.0,143.3L144.7,136.0L138.9,132.0L133.2,139.2Z" fill="#89fd7c"/>
<path d="M162.2,138.3L168.0,131.7L162.2,127.0L156.4,133.5Z" fill="#acfc73"/>
<path d="M173.8,136.8L179.7,130.6L173.9,125.6L168.0,131.7Z" fill="#b5fc6d"/>
<path d="M197.1,136.0L203.0,130.5L197.3,124.8L191.4,130.2Z" fill="#b2fa5f"/>
<path d="M208.8,136.7L214.7,131.6L208.9,125.5L203.0,130.5Z" fill="#a4f957"/>
<path d="M150.6,140.4L156.4,133.5L150.5,129.2L144.7,136.0Z" fill="#9efd78"/>
<path d="M185.5,136.1L191.4,130.2L185.6,124.8L179.7,130.6Z" fill="#b7fb66"/>
<path d="M133.3,151.2L139.0,143.3L133.2,139.2L127.5,146.9Z" fill="#80fea0"/>
<path d="M156.4,145.4L162.2,138.3L156.4,133.5L150.6,140.4Z" fill="#87fd78"/>
<path d="M168.0,143.5L173.8,136.8L168.0,131.7L162.2,138.3Z" fill="#91fc73"/>
<path d="M179.6,142.4L185.5,136.1L179.7,130.6L173.8,136.8Z" fill="#95fb6c"/>
<path d="M202.9,142.4L208.8,136.7L203.0,130.5L197.1,136.0Z" fill="#88fa5e"/>
<path d="M144.8,147.9L150.6,140.4L144.7,136.0L139.0,143.3Z" fill="#7dfd83"/>
<path d="M191.3,142.1L197.1,136.0L191.4,130.2L185.5,136.1Z" fill="#92fb65"/>
<path d="M139.1,155.9L144.8,147.9L139.0,143.3L133.3,151.2Z" fill="#80feb3"/>
<path d="M150.6,153.0L156.4,145.4L150.6,140.4L144.8,147.9Z" fill="#7cfd99"/>
<path d="M162.2,150.8L168.0,143.5L162.2,138.3L156.4,145.4Z" fill="#77fd83"/>
<path d="M173.8,149.3L179.6,142.4L173.8,136.8L168.0,143.5Z" fill="#71fc71"/>
<path d="M185.4,148.6L191.3,142.1L185.5,136.1L179.6,142.4Z" fill="#71fb6b"/>
<path d="M197.0,148.6L202.9,142.4L197.1,136.0L191.3,142.1Z" fill="#68fa63"/>
<path d="M144.9,161.2L150.6,153.0L144.8,147.9L139.1,155.9Z" fill="#80feca"/>
<path d="M156.5,158.6L162.2,150.8L156.4,145.4L150.6,153.0Z" fill="#7bfdb3"/>
<path d="M168.0,156.8L173.8,149.3L168.0,143.5L162.2,150.8Z" fill="#76fda1"/>
<path d="M179.6,155.6L185.4,148.6L179.6,142.4L173.8,149.3Z" fill="#70fc93"/>
<path d="M191.2,155.2L197.0,148.6L191.3,142.1L185.4,148.6Z" fill="#69fb8b"/>
<path d="M150.7,166.9L156.5,158.6L150.6,153.0L144.9,161.2Z" fill="#7ffee4"/>
<path d="M162.2,164.7L168.0,156.8L162.2,150.8L156.5,158.6Z" fill="#7afdd1"/>
<path d="M173.8,163.2L179.6,155.6L173.8,149.3L168.0,156.8Z" fill="#74fcc2"/>
<path d="M185.3,162.4L191.2,155.2L185.4,148.6L179.6,155.6Z" fill="#6efcb9"/>
<path d="M156.5,173.2L162.2,164.7L156.5,158.6L150.7,166.9Z" fill="#7df8fd"/>
<path d="M168.0,171.3L173.8,163.2L168.0,156.8L162.2,164.7Z" fill="#78fdf3"/>
<path d="M179.5,170.1L185.3,162.4L179.6,155.6L173.8,163.2Z" fill="#72fce9"/>
<path d="M162.3,179.9L168.0,171.3L162.2,164.7L156.5,173.2Z" fill="#7bd5fd"/>
<path d="M173.7,178.4L179.5,170.1L173.8,163.2L168.0,171.3Z" fill="#75dffd"/>
<path d="M168.0,187.2L173.7,178.4L168.0,171.3L162.3,179.9Z" fill="#79adfd"/>
</g>
<circle cx="52.9" cy="132.9" r="2.6" fill="#c00000" stroke="#700" stroke-width="0.5"/>
<circle cx="284.7" cy="111.2" r="2.6" fill="#f4c4c4" stroke="#a88" stroke-width="0.5"/>
<circle cx="168" cy="183.9" r="2.6" fill="#c00000" stroke="#700" stroke-width="0.5"/>
<circle cx="167.8" cy="83.8" r="2.6" fill="#c00000" stroke="#700" stroke-width="0.5"/>
<path d="M59.6,490.9L176.8,460.5L294.3,490.7M58.2,465.8L176.8,437.1L295.7,465.7M56.8,440.7L176.8,413.7L297.1,440.6M55.3,415.7L176.8,390.3L298.6,415.5M53.9,390.6L176.8,366.9L300.0,390.4M88.9,483.3L84.6,384.7M118.2,475.7L115.4,378.8M147.5,468.1L146.1,372.8M270.8,484.7L275.4,385.7M247.3,478.6L250.7,381.0M223.8,472.6L226.1,376.3M200.3,466.6L201.4,371.6M61.5,523.2L53.9,390.6M176.8,490.7L176.8,366.9M292.4,523.1L300.0,390.4" stroke="#8a8a8a" stroke-width="1" fill="none"/>
<clipPath id="flB"><polygon points="176.6,569.6 61.5,523.2 176.8,490.7 292.4,523.1"/></clipPath>
<polygon points="176.6,569.6 61.5,523.2 176.8,490.7 292.4,523.1" fill="#686868" stroke="#3a3a3a" stroke-width="0.8"/>
<g clip-path="url(#flB)" fill="none" stroke-width="1.6">
<path d="M283.1,494.2L278.6,493.3L273.8,492.5L268.8,491.7L263.6,491.0L258.1,490.4L252.6,489.9L246.8,489.5L240.9,489.1L234.9,488.8L228.7,488.5L222.5,488.4L216.2,488.3L209.8,488.3L203.4,488.3L196.9,488.4L190.4,488.6L184.0,488.8L177.6,489.1L171.2,489.5L164.9,489.9L158.7,490.4L152.5,491.0L146.5,491.6L140.6,492.3L134.9,493.1L129.3,494.0L123.9,494.9L118.7,495.9L113.8,496.9L109.0,498.0L104.5,499.2L100.2,500.5L96.2,501.8L92.4,503.2L89.0,504.7L85.8,506.2L82.9,507.8L80.4,509.5L78.1,511.2L76.2,513.0L74.6,514.9L73.3,516.8L72.4,518.7L71.8,520.7L71.6,522.7L71.6,524.8L72.1,526.9L72.8,529.0L73.9,531.1L75.3,533.2L77.1,535.3L79.2,537.4L81.6,539.5L84.3,541.6L87.3,543.6L90.6,545.6L94.2,547.5L98.1,549.4L102.2,551.2L106.6,552.9L111.3,554.6L116.2,556.1L121.3,557.6L126.5,558.9L132.0,560.2L137.7,561.3L143.5,562.3L149.4,563.1L155.5,563.8L161.7,564.4L168.0,564.9L174.3,565.2L180.7,565.3L187.1,565.3L193.6,565.1L200.1,564.9L206.5,564.4L212.9,563.8L219.3,563.1L225.6,562.2L231.8,561.2L237.8,560.1L243.8,558.8L249.7,557.5L255.3,556.0L260.8,554.4L266.2,552.7L271.3,550.9L276.2,549.1L280.8,547.1L285.3,545.1L289.4,543.1L293.4,541.0L297.0,538.8L300.3,536.7L303.4,534.5L306.1,532.3L308.5,530.1L310.6,527.9L312.4,525.7L313.9,523.6L315.0,521.4L315.7,519.3L316.2,517.3L316.2,515.3L316.0,513.3L315.4,511.4L314.5,509.5L313.2,507.8L311.6,506.1L309.6,504.4L307.4,502.9L304.8,501.4L301.9,500.0L298.7,498.7L295.2,497.4L291.5,496.3L287.4,495.2L283.1,494.2Z" stroke="#2f98c8"/>
<path d="M273.7,497.3L269.6,496.5L265.3,495.7L260.9,495.0L256.2,494.3L251.4,493.8L246.4,493.3L241.2,492.8L235.9,492.5L230.5,492.2L225.0,491.9L219.5,491.8L213.8,491.7L208.1,491.6L202.3,491.7L196.6,491.8L190.8,491.9L185.0,492.2L179.3,492.4L173.6,492.8L167.9,493.2L162.4,493.7L156.9,494.2L151.5,494.8L146.2,495.4L141.1,496.2L136.1,497.0L131.3,497.8L126.7,498.7L122.2,499.7L118.0,500.7L113.9,501.8L110.1,503.0L106.5,504.2L103.1,505.5L100.0,506.9L97.2,508.3L94.6,509.8L92.3,511.3L90.3,512.8L88.6,514.5L87.2,516.1L86.0,517.8L85.2,519.6L84.7,521.4L84.4,523.2L84.5,525.0L84.9,526.9L85.6,528.7L86.6,530.6L87.8,532.5L89.4,534.4L91.3,536.2L93.4,538.1L95.8,539.9L98.5,541.7L101.5,543.4L104.7,545.1L108.2,546.7L111.9,548.3L115.8,549.8L120.0,551.3L124.4,552.6L128.9,553.9L133.6,555.0L138.5,556.1L143.6,557.1L148.8,557.9L154.1,558.7L159.6,559.3L165.1,559.8L170.7,560.2L176.4,560.4L182.1,560.6L187.9,560.6L193.6,560.4L199.4,560.2L205.2,559.8L210.9,559.3L216.6,558.6L222.2,557.9L227.8,557.0L233.2,556.0L238.5,554.9L243.8,553.7L248.8,552.4L253.8,551.0L258.5,549.6L263.1,548.0L267.5,546.4L271.6,544.7L275.6,542.9L279.3,541.1L282.8,539.3L286.1,537.4L289.1,535.5L291.8,533.6L294.2,531.6L296.4,529.7L298.3,527.7L299.9,525.8L301.2,523.9L302.2,522.0L302.8,520.1L303.2,518.3L303.3,516.5L303.1,514.7L302.5,513.0L301.7,511.4L300.6,509.8L299.1,508.2L297.4,506.7L295.4,505.3L293.1,504.0L290.5,502.7L287.6,501.5L284.5,500.3L281.1,499.2L277.5,498.2L273.7,497.3Z" stroke="#2cb884"/>
<path d="M263.0,500.8L259.5,500.1L255.7,499.3L251.9,498.7L247.8,498.1L243.6,497.6L239.3,497.1L234.9,496.7L230.3,496.4L225.6,496.1L220.9,495.9L216.0,495.7L211.1,495.6L206.2,495.6L201.2,495.6L196.2,495.7L191.2,495.8L186.2,496.0L181.2,496.3L176.3,496.6L171.4,497.0L166.6,497.4L161.8,497.9L157.2,498.4L152.6,499.0L148.2,499.7L143.9,500.4L139.7,501.2L135.7,502.0L131.8,502.9L128.1,503.8L124.6,504.8L121.3,505.8L118.2,506.9L115.3,508.1L112.6,509.3L110.1,510.5L107.9,511.8L105.9,513.2L104.2,514.6L102.7,516.0L101.4,517.4L100.5,518.9L99.7,520.5L99.3,522.0L99.1,523.6L99.1,525.2L99.5,526.8L100.1,528.4L100.9,530.0L102.0,531.6L103.4,533.2L105.0,534.8L106.8,536.3L109.0,537.9L111.3,539.4L113.9,540.9L116.7,542.3L119.7,543.7L122.9,545.0L126.3,546.3L129.9,547.5L133.7,548.6L137.6,549.7L141.7,550.7L145.9,551.6L150.3,552.4L154.8,553.1L159.4,553.7L164.1,554.2L168.9,554.6L173.8,555.0L178.7,555.2L183.7,555.3L188.7,555.3L193.7,555.1L198.7,554.9L203.7,554.6L208.6,554.2L213.5,553.6L218.4,553.0L223.2,552.3L227.9,551.4L232.5,550.5L237.1,549.5L241.5,548.4L245.7,547.2L249.8,546.0L253.8,544.7L257.6,543.3L261.2,541.9L264.6,540.4L267.9,538.9L270.9,537.3L273.7,535.7L276.3,534.1L278.6,532.5L280.8,530.8L282.6,529.1L284.3,527.5L285.6,525.8L286.8,524.2L287.6,522.5L288.2,520.9L288.5,519.3L288.6,517.8L288.4,516.2L288.0,514.8L287.2,513.3L286.2,511.9L285.0,510.5L283.5,509.2L281.7,508.0L279.8,506.8L277.5,505.6L275.0,504.6L272.3,503.5L269.4,502.6L266.3,501.7L263.0,500.8Z" stroke="#3cbc3c"/>
<path d="M250.3,505.0L247.4,504.3L244.4,503.7L241.2,503.2L237.9,502.6L234.5,502.2L231.0,501.8L227.3,501.4L223.6,501.1L219.8,500.9L215.9,500.7L211.9,500.5L208.0,500.4L203.9,500.4L199.9,500.4L195.8,500.5L191.7,500.6L187.6,500.8L183.5,501.0L179.5,501.2L175.5,501.6L171.6,501.9L167.7,502.3L163.9,502.8L160.2,503.3L156.5,503.9L153.0,504.5L149.6,505.2L146.3,505.9L143.2,506.6L140.2,507.4L137.3,508.3L134.6,509.2L132.0,510.1L129.7,511.1L127.5,512.1L125.5,513.1L123.6,514.2L122.0,515.3L120.6,516.5L119.4,517.7L118.4,518.9L117.6,520.1L117.0,521.3L116.6,522.6L116.4,523.9L116.5,525.2L116.8,526.5L117.2,527.8L117.9,529.1L118.8,530.4L119.9,531.7L121.3,532.9L122.8,534.2L124.5,535.4L126.4,536.6L128.5,537.8L130.8,538.9L133.3,540.0L135.9,541.1L138.7,542.1L141.6,543.1L144.7,543.9L147.9,544.8L151.3,545.5L154.7,546.2L158.3,546.9L162.0,547.4L165.7,547.9L169.6,548.3L173.5,548.6L177.5,548.9L181.5,549.0L185.5,549.1L189.6,549.1L193.7,549.0L197.8,548.8L201.8,548.6L205.9,548.2L209.9,547.8L213.9,547.3L217.8,546.7L221.7,546.1L225.4,545.4L229.1,544.6L232.7,543.7L236.2,542.8L239.6,541.8L242.8,540.8L245.9,539.7L248.8,538.5L251.6,537.4L254.3,536.2L256.7,534.9L259.0,533.6L261.1,532.3L263.1,531.0L264.8,529.7L266.3,528.4L267.6,527.0L268.8,525.7L269.7,524.4L270.4,523.0L270.9,521.7L271.1,520.4L271.2,519.2L271.0,517.9L270.7,516.7L270.1,515.5L269.3,514.3L268.2,513.2L267.0,512.1L265.6,511.1L264.0,510.1L262.1,509.1L260.1,508.2L257.9,507.3L255.5,506.5L253.0,505.7L250.3,505.0Z" stroke="#b4c83a"/>
<path d="M233.7,510.4L231.7,509.9L229.6,509.4L227.3,509.0L225.0,508.6L222.6,508.3L220.1,508.0L217.5,507.7L214.9,507.4L212.2,507.2L209.4,507.1L206.6,507.0L203.8,506.9L201.0,506.9L198.1,506.9L195.2,506.9L192.3,507.0L189.4,507.1L186.5,507.3L183.7,507.5L180.9,507.7L178.1,508.0L175.3,508.3L172.6,508.7L170.0,509.1L167.4,509.5L165.0,510.0L162.5,510.4L160.2,511.0L158.0,511.5L155.9,512.1L153.8,512.8L151.9,513.4L150.1,514.1L148.4,514.8L146.9,515.6L145.5,516.3L144.2,517.1L143.0,518.0L142.0,518.8L141.2,519.6L140.4,520.5L139.9,521.4L139.5,522.3L139.2,523.2L139.1,524.1L139.1,525.0L139.3,525.9L139.6,526.8L140.1,527.7L140.8,528.6L141.6,529.5L142.5,530.4L143.6,531.3L144.8,532.1L146.1,532.9L147.6,533.7L149.2,534.5L151.0,535.2L152.8,536.0L154.8,536.6L156.9,537.3L159.1,537.9L161.3,538.4L163.7,538.9L166.2,539.4L168.7,539.8L171.3,540.2L174.0,540.5L176.7,540.8L179.4,541.0L182.3,541.2L185.1,541.3L188.0,541.3L190.8,541.3L193.7,541.2L196.6,541.1L199.5,540.9L202.4,540.7L205.2,540.4L208.0,540.1L210.8,539.7L213.5,539.3L216.2,538.8L218.8,538.2L221.3,537.6L223.8,537.0L226.1,536.4L228.4,535.7L230.6,534.9L232.7,534.2L234.7,533.4L236.5,532.5L238.3,531.7L239.9,530.8L241.4,529.9L242.8,529.0L244.0,528.1L245.1,527.2L246.0,526.3L246.8,525.3L247.4,524.4L247.9,523.5L248.3,522.5L248.5,521.6L248.5,520.7L248.4,519.8L248.1,519.0L247.7,518.1L247.1,517.3L246.4,516.5L245.6,515.7L244.5,514.9L243.4,514.2L242.1,513.5L240.7,512.8L239.1,512.1L237.4,511.5L235.6,511.0L233.7,510.4Z" stroke="#e0962e"/>
</g>
<path d="M61.5,523.2L176.6,569.6L292.4,523.1" stroke="#222" stroke-width="1" fill="none"/>
<circle cx="176.6" cy="569.6" r="1.2" fill="#111"/><circle cx="205.5" cy="558.0" r="1.2" fill="#111"/><circle cx="234.5" cy="546.4" r="1.2" fill="#111"/><circle cx="263.4" cy="534.7" r="1.2" fill="#111"/><circle cx="292.4" cy="523.1" r="1.2" fill="#111"/><circle cx="176.6" cy="569.6" r="1.2" fill="#111"/><circle cx="153.6" cy="560.3" r="1.2" fill="#111"/><circle cx="130.6" cy="551.0" r="1.2" fill="#111"/><circle cx="107.5" cy="541.8" r="1.2" fill="#111"/><circle cx="84.5" cy="532.5" r="1.2" fill="#111"/><circle cx="61.5" cy="523.2" r="1.2" fill="#111"/><circle cx="59.6" cy="490.9" r="1.3" fill="#111"/><circle cx="58.2" cy="465.8" r="1.3" fill="#111"/><circle cx="56.8" cy="440.7" r="1.3" fill="#111"/><circle cx="55.3" cy="415.7" r="1.3" fill="#111"/><circle cx="53.9" cy="390.6" r="1.3" fill="#111"/>
<g stroke="#1e2a18" stroke-width="0.6" stroke-opacity="0.75" stroke-linejoin="round">
<path d="M176.8,416.5L182.8,418.7L176.8,422.8L170.8,420.6Z" fill="#00d983"/>
<path d="M170.8,414.7L176.8,416.5L170.8,420.6L164.8,418.8Z" fill="#00da53"/>
<path d="M182.8,412.9L188.8,415.0L182.8,418.7L176.8,416.5Z" fill="#00d938"/>
<path d="M164.8,413.4L170.8,414.7L164.8,418.8L158.8,417.4Z" fill="#00dc2a"/>
<path d="M188.9,409.8L194.9,411.8L188.8,415.0L182.8,412.9Z" fill="#0cda00"/>
<path d="M176.8,411.2L182.8,412.9L176.8,416.5L170.8,414.7Z" fill="#00db08"/>
<path d="M158.7,412.5L164.8,413.4L158.8,417.4L152.8,416.4Z" fill="#01dd06"/>
<path d="M170.8,409.9L176.8,411.2L170.8,414.7L164.8,413.4Z" fill="#22dc00"/>
<path d="M182.9,408.1L188.9,409.8L182.8,412.9L176.8,411.2Z" fill="#3cdb00"/>
<path d="M195.0,407.1L201.0,409.2L194.9,411.8L188.9,409.8Z" fill="#48da00"/>
<path d="M152.7,412.0L158.7,412.5L152.8,416.4L146.7,415.9Z" fill="#1adf01"/>
<path d="M164.7,409.0L170.8,409.9L164.8,413.4L158.7,412.5Z" fill="#47de01"/>
<path d="M176.8,406.9L182.9,408.1L176.8,411.2L170.8,409.9Z" fill="#66dd01"/>
<path d="M189.0,405.5L195.0,407.1L188.9,409.8L182.9,408.1Z" fill="#79dc00"/>
<path d="M201.1,405.0L207.1,407.0L201.0,409.2L195.0,407.1Z" fill="#7edb00"/>
<path d="M146.6,412.1L152.7,412.0L146.7,415.9L140.7,415.9Z" fill="#32e102"/>
<path d="M170.8,406.1L176.8,406.9L170.8,409.9L164.7,409.0Z" fill="#8bdf01"/>
<path d="M182.9,404.4L189.0,405.5L182.9,408.1L176.8,406.9Z" fill="#a3de01"/>
<path d="M207.2,403.4L213.2,405.3L207.1,407.0L201.1,405.0Z" fill="#addc00"/>
<path d="M158.7,408.7L164.7,409.0L158.7,412.5L152.7,412.0Z" fill="#65e002"/>
<path d="M195.0,403.5L201.1,405.0L195.0,407.1L189.0,405.5Z" fill="#afdd00"/>
<path d="M140.6,412.5L146.6,412.1L140.7,415.9L134.6,416.3Z" fill="#44e204"/>
<path d="M152.6,408.7L158.7,408.7L152.7,412.0L146.6,412.1Z" fill="#7de103"/>
<path d="M164.7,405.8L170.8,406.1L164.7,409.0L158.7,408.7Z" fill="#a9e102"/>
<path d="M176.8,403.6L182.9,404.4L176.8,406.9L170.8,406.1Z" fill="#c8e002"/>
<path d="M189.0,402.4L195.0,403.5L189.0,405.5L182.9,404.4Z" fill="#d9df01"/>
<path d="M201.2,401.9L207.2,403.4L201.1,405.0L195.0,403.5Z" fill="#ddde01"/>
<path d="M213.3,402.3L219.3,404.1L213.2,405.3L207.2,403.4Z" fill="#d4dd00"/>
<path d="M134.5,413.4L140.6,412.5L134.6,416.3L128.6,417.1Z" fill="#50e406"/>
<path d="M158.6,405.9L164.7,405.8L158.7,408.7L152.6,408.7Z" fill="#c1e204"/>
<path d="M195.1,400.8L201.2,401.9L195.0,403.5L189.0,402.4Z" fill="#dfb802"/>
<path d="M219.4,401.7L225.4,403.5L219.3,404.1L213.3,402.3Z" fill="#ddc701"/>
<path d="M146.5,409.2L152.6,408.7L146.6,412.1L140.6,412.5Z" fill="#8fe305"/>
<path d="M170.8,403.4L176.8,403.6L170.8,406.1L164.7,405.8Z" fill="#e1dd03"/>
<path d="M182.9,401.7L189.0,402.4L182.9,404.4L176.8,403.6Z" fill="#e1c402"/>
<path d="M207.3,400.8L213.3,402.3L207.2,403.4L201.2,401.9Z" fill="#deb901"/>
<path d="M128.5,414.8L134.5,413.4L128.6,417.1L122.6,418.5Z" fill="#55e508"/>
<path d="M140.5,410.2L146.5,409.2L140.6,412.5L134.5,413.4Z" fill="#9ae507"/>
<path d="M152.6,406.5L158.6,405.9L152.6,408.7L146.5,409.2Z" fill="#d2e406"/>
<path d="M164.7,403.6L170.8,403.4L164.7,405.8L158.6,405.9Z" fill="#e3c905"/>
<path d="M176.8,401.5L182.9,401.7L176.8,403.6L170.8,403.4Z" fill="#e2aa04"/>
<path d="M189.0,400.3L195.1,400.8L189.0,402.4L182.9,401.7Z" fill="#e19703"/>
<path d="M201.2,399.9L207.3,400.8L201.2,401.9L195.1,400.8Z" fill="#e09202"/>
<path d="M213.4,400.3L219.4,401.7L213.3,402.3L207.3,400.8Z" fill="#df9a01"/>
<path d="M225.5,401.6L231.5,403.3L225.4,403.5L219.4,401.7Z" fill="#deb001"/>
<path d="M122.5,416.6L128.5,414.8L122.6,418.5L116.6,420.2Z" fill="#54e70b"/>
<path d="M134.4,411.6L140.5,410.2L134.5,413.4L128.5,414.8Z" fill="#9fe70a"/>
<path d="M146.5,407.5L152.6,406.5L146.5,409.2L140.5,410.2Z" fill="#dde609"/>
<path d="M158.6,404.2L164.7,403.6L158.6,405.9L152.6,406.5Z" fill="#e5bc08"/>
<path d="M170.8,401.7L176.8,401.5L170.8,403.4L164.7,403.6Z" fill="#e49706"/>
<path d="M182.9,400.1L189.0,400.3L182.9,401.7L176.8,401.5Z" fill="#e37e05"/>
<path d="M195.1,399.3L201.2,399.9L195.1,400.8L189.0,400.3Z" fill="#e27304"/>
<path d="M207.3,399.4L213.4,400.3L207.3,400.8L201.2,399.9Z" fill="#e17503"/>
<path d="M219.5,400.3L225.5,401.6L219.4,401.7L213.4,400.3Z" fill="#e08402"/>
<path d="M231.7,402.0L237.7,403.7L231.5,403.3L225.5,401.6Z" fill="#dfa001"/>
<path d="M116.5,418.9L122.5,416.6L116.6,420.2L110.6,422.5Z" fill="#4de90e"/>
<path d="M140.4,409.0L146.5,407.5L140.5,410.2L134.4,411.6Z" fill="#e1e80c"/>
<path d="M152.5,405.3L158.6,404.2L152.6,406.5L146.5,407.5Z" fill="#e7b60b"/>
<path d="M176.8,400.4L182.9,400.1L176.8,401.5L170.8,401.7Z" fill="#e56c08"/>
<path d="M201.3,398.9L207.3,399.4L201.2,399.9L195.1,399.3Z" fill="#e35605"/>
<path d="M213.5,399.4L219.5,400.3L213.4,400.3L207.3,399.4Z" fill="#e25f04"/>
<path d="M237.8,403.0L243.8,404.6L237.7,403.7L231.7,402.0Z" fill="#df9802"/>
<path d="M128.4,413.5L134.4,411.6L128.5,414.8L122.5,416.6Z" fill="#9de80d"/>
<path d="M164.7,402.4L170.8,401.7L164.7,403.6L158.6,404.2Z" fill="#e68a09"/>
<path d="M189.1,399.3L195.1,399.3L189.0,400.3L182.9,400.1Z" fill="#e45a06"/>
<path d="M225.6,400.8L231.7,402.0L225.5,401.6L219.5,400.3Z" fill="#e17502"/>
<path d="M110.5,421.7L116.5,418.9L110.6,422.5L104.6,425.2Z" fill="#40ea12"/>
<path d="M122.4,415.9L128.4,413.5L122.5,416.6L116.5,418.9Z" fill="#95ea11"/>
<path d="M134.4,411.0L140.4,409.0L134.4,411.6L128.4,413.5Z" fill="#dfe910"/>
<path d="M146.4,406.9L152.5,405.3L146.5,407.5L140.4,409.0Z" fill="#e9b60f"/>
<path d="M158.6,403.6L164.7,402.4L158.6,404.2L152.5,405.3Z" fill="#e8850d"/>
<path d="M170.7,401.2L176.8,400.4L170.8,401.7L164.7,402.4Z" fill="#e7610b"/>
<path d="M183.0,399.7L189.1,399.3L182.9,400.1L176.8,400.4Z" fill="#e64909"/>
<path d="M195.2,398.9L201.3,398.9L195.1,399.3L189.1,399.3Z" fill="#e53e08"/>
<path d="M207.4,399.1L213.5,399.4L207.3,399.4L201.3,398.9Z" fill="#e44006"/>
<path d="M219.6,400.0L225.6,400.8L219.5,400.3L213.5,399.4Z" fill="#e35004"/>
<path d="M231.8,401.8L237.8,403.0L231.7,402.0L225.6,400.8Z" fill="#e16d03"/>
<path d="M243.9,404.5L249.8,406.1L243.8,404.6L237.8,403.0Z" fill="#e09802"/>
<path d="M164.6,402.5L170.7,401.2L164.7,402.4L158.6,403.6Z" fill="#e95d10"/>
<path d="M189.1,399.4L195.2,398.9L189.1,399.3L183.0,399.7Z" fill="#e72e0b"/>
<path d="M104.5,425.0L110.5,421.7L104.6,425.2L98.7,428.4Z" fill="#2dec16"/>
<path d="M116.4,418.8L122.4,415.9L116.5,418.9L110.5,421.7Z" fill="#88eb15"/>
<path d="M128.3,413.4L134.4,411.0L128.4,413.5L122.4,415.9Z" fill="#d6eb14"/>
<path d="M140.4,408.9L146.4,406.9L140.4,409.0L134.4,411.0Z" fill="#ebbe13"/>
<path d="M152.5,405.3L158.6,403.6L152.5,405.3L146.4,406.9Z" fill="#ea8711"/>
<path d="M176.8,400.5L183.0,399.7L176.8,400.4L170.7,401.2Z" fill="#e83f0d"/>
<path d="M201.3,399.1L207.4,399.1L201.3,398.9L195.2,398.9Z" fill="#e62a09"/>
<path d="M213.5,399.7L219.6,400.0L213.5,399.4L207.4,399.1Z" fill="#e53307"/>
<path d="M225.7,401.1L231.8,401.8L225.6,400.8L219.6,400.0Z" fill="#e44905"/>
<path d="M237.8,403.4L243.9,404.5L237.8,403.0L231.8,401.8Z" fill="#e26e04"/>
<path d="M249.9,406.6L255.9,408.0L249.8,406.1L243.9,404.5Z" fill="#e19f03"/>
<path d="M98.6,428.8L104.5,425.0L98.7,428.4L92.8,432.1Z" fill="#1bed21"/>
<path d="M110.4,422.1L116.4,418.8L110.5,421.7L104.5,425.0Z" fill="#74ed1a"/>
<path d="M122.3,416.3L128.3,413.4L122.4,415.9L116.4,418.8Z" fill="#c7ed19"/>
<path d="M134.3,411.4L140.4,408.9L134.4,411.0L128.3,413.4Z" fill="#eccb18"/>
<path d="M146.4,407.4L152.5,405.3L146.4,406.9L140.4,408.9Z" fill="#ec9017"/>
<path d="M158.5,404.2L164.6,402.5L158.6,403.6L152.5,405.3Z" fill="#eb6015"/>
<path d="M170.7,401.8L176.8,400.5L170.7,401.2L164.6,402.5Z" fill="#ea3c12"/>
<path d="M183.0,400.3L189.1,399.4L183.0,399.7L176.8,400.5Z" fill="#e92510"/>
<path d="M195.2,399.7L201.3,399.1L195.2,398.9L189.1,399.4Z" fill="#e81b0d"/>
<path d="M207.4,399.9L213.5,399.7L207.4,399.1L201.3,399.1Z" fill="#e71d0b"/>
<path d="M219.6,400.9L225.7,401.1L219.6,400.0L213.5,399.7Z" fill="#e62d08"/>
<path d="M231.8,402.8L237.8,403.4L231.8,401.8L225.7,401.1Z" fill="#e44a06"/>
<path d="M243.9,405.6L249.9,406.6L243.9,404.5L237.8,403.4Z" fill="#e37504"/>
<path d="M256.0,409.2L261.9,410.6L255.9,408.0L249.9,406.6Z" fill="#e1ae03"/>
<path d="M92.7,433.0L98.6,428.8L92.8,432.1L86.9,436.3Z" fill="#1fee47"/>
<path d="M104.4,425.9L110.4,422.1L104.5,425.0L98.6,428.8Z" fill="#5bee1f"/>
<path d="M116.3,419.8L122.3,416.3L116.4,418.8L110.4,422.1Z" fill="#b2ee1f"/>
<path d="M128.3,414.4L134.3,411.4L128.3,413.4L122.3,416.3Z" fill="#eede1e"/>
<path d="M152.4,406.4L158.5,404.2L152.5,405.3L146.4,407.4Z" fill="#ed6a1a"/>
<path d="M164.6,403.6L170.7,401.8L164.6,402.5L158.5,404.2Z" fill="#ec4118"/>
<path d="M176.8,401.7L183.0,400.3L176.8,400.5L170.7,401.8Z" fill="#eb2415"/>
<path d="M189.1,400.7L195.2,399.7L189.1,399.4L183.0,400.3Z" fill="#ea1312"/>
<path d="M201.3,400.5L207.4,399.9L201.3,399.1L195.2,399.7Z" fill="#e90f0f"/>
<path d="M225.7,402.6L231.8,402.8L225.7,401.1L219.6,400.9Z" fill="#e62e0a"/>
<path d="M237.9,405.0L243.9,405.6L237.8,403.4L231.8,402.8Z" fill="#e55307"/>
<path d="M250.0,408.2L256.0,409.2L249.9,406.6L243.9,405.6Z" fill="#e38505"/>
<path d="M262.0,412.3L267.9,413.6L261.9,410.6L256.0,409.2Z" fill="#e2c404"/>
<path d="M140.3,410.0L146.4,407.4L140.4,408.9L134.3,411.4Z" fill="#ed9e1c"/>
<path d="M213.5,401.1L219.6,400.9L213.5,399.7L207.4,399.9Z" fill="#e8180c"/>
<path d="M86.8,437.7L92.7,433.0L86.9,436.3L81.0,441.0Z" fill="#24f073"/>
<path d="M110.3,423.7L116.3,419.8L110.4,422.1L104.4,425.9Z" fill="#99f024"/>
<path d="M122.2,417.9L128.3,414.4L122.3,416.3L116.3,419.8Z" fill="#e8ef23"/>
<path d="M146.4,409.0L152.4,406.4L146.4,407.4L140.3,410.0Z" fill="#ef7a21"/>
<path d="M170.7,403.6L176.8,401.7L170.7,401.8L164.6,403.6Z" fill="#ed2a1c"/>
<path d="M183.0,402.1L189.1,400.7L183.0,400.3L176.8,401.7Z" fill="#ec1818"/>
<path d="M207.4,401.8L213.5,401.1L207.4,399.9L201.3,400.5Z" fill="#ea1111"/>
<path d="M231.8,404.9L237.9,405.0L231.8,402.8L225.7,402.6Z" fill="#e7380b"/>
<path d="M244.0,407.7L250.0,408.2L243.9,405.6L237.9,405.0Z" fill="#e66308"/>
<path d="M268.0,416.0L273.9,417.3L267.9,413.6L262.0,412.3Z" fill="#e3e204"/>
<path d="M98.5,430.3L104.4,425.9L98.6,428.8L92.7,433.0Z" fill="#3df024"/>
<path d="M134.3,413.0L140.3,410.0L134.3,411.4L128.3,414.4Z" fill="#efb322"/>
<path d="M158.5,405.9L164.6,403.6L158.5,404.2L152.4,406.4Z" fill="#ee4d1e"/>
<path d="M195.2,401.6L201.3,400.5L195.2,399.7L189.1,400.7Z" fill="#eb1515"/>
<path d="M219.7,402.9L225.7,402.6L219.6,400.9L213.5,401.1Z" fill="#e91b0e"/>
<path d="M256.0,411.4L262.0,412.3L256.0,409.2L250.0,408.2Z" fill="#e49c06"/>
<path d="M81.0,443.0L86.8,437.7L81.0,441.0L75.2,446.1Z" fill="#29f1a3"/>
<path d="M92.6,435.1L98.5,430.3L92.7,433.0L86.8,437.7Z" fill="#2af138"/>
<path d="M104.4,428.0L110.3,423.7L104.4,425.9L98.5,430.3Z" fill="#7af12a"/>
<path d="M116.2,421.9L122.2,417.9L116.3,419.8L110.3,423.7Z" fill="#cdf12a"/>
<path d="M128.2,416.6L134.3,413.0L128.3,414.4L122.2,417.9Z" fill="#f1cd29"/>
<path d="M140.3,412.2L146.4,409.0L140.3,410.0L134.3,413.0Z" fill="#f09027"/>
<path d="M152.4,408.6L158.5,405.9L152.4,406.4L146.4,409.0Z" fill="#f05e25"/>
<path d="M164.6,405.9L170.7,403.6L164.6,403.6L158.5,405.9Z" fill="#ef3723"/>
<path d="M176.8,404.1L183.0,402.1L176.8,401.7L170.7,403.6Z" fill="#ee1f1f"/>
<path d="M189.1,403.1L195.2,401.6L189.1,400.7L183.0,402.1Z" fill="#ed1c1c"/>
<path d="M201.3,403.0L207.4,401.8L201.3,400.5L195.2,401.6Z" fill="#ec1717"/>
<path d="M213.5,403.7L219.7,402.9L213.5,401.1L207.4,401.8Z" fill="#eb1313"/>
<path d="M225.7,405.3L231.8,404.9L225.7,402.6L219.7,402.9Z" fill="#e92410"/>
<path d="M237.9,407.7L244.0,407.7L237.9,405.0L231.8,404.9Z" fill="#e8480c"/>
<path d="M250.0,411.0L256.0,411.4L250.0,408.2L244.0,407.7Z" fill="#e67a09"/>
<path d="M262.0,415.2L268.0,416.0L262.0,412.3L256.0,411.4Z" fill="#e4ba07"/>
<path d="M273.9,420.3L279.8,421.5L273.9,417.3L268.0,416.0Z" fill="#bee305"/>
<path d="M75.2,448.7L81.0,443.0L75.2,446.1L69.5,451.8Z" fill="#2ef2d8"/>
<path d="M86.7,440.4L92.6,435.1L86.8,437.7L81.0,443.0Z" fill="#2ff26a"/>
<path d="M98.4,432.9L104.4,428.0L98.5,430.3L92.6,435.1Z" fill="#57f22f"/>
<path d="M110.3,426.3L116.2,421.9L110.3,423.7L104.4,428.0Z" fill="#aef230"/>
<path d="M122.2,420.6L128.2,416.6L122.2,417.9L116.2,421.9Z" fill="#f2eb2f"/>
<path d="M134.2,415.8L140.3,412.2L134.3,413.0L128.2,416.6Z" fill="#f2ab2e"/>
<path d="M146.3,411.9L152.4,408.6L146.4,409.0L140.3,412.2Z" fill="#f2752d"/>
<path d="M158.5,408.8L164.6,405.9L158.5,405.9L152.4,408.6Z" fill="#f14a2a"/>
<path d="M170.7,406.5L176.8,404.1L170.7,403.6L164.6,405.9Z" fill="#f02a27"/>
<path d="M182.9,405.1L189.1,403.1L183.0,402.1L176.8,404.1Z" fill="#ef2323"/>
<path d="M195.2,404.6L201.3,403.0L195.2,401.6L189.1,403.1Z" fill="#ee1f1f"/>
<path d="M207.4,405.0L213.5,403.7L207.4,401.8L201.3,403.0Z" fill="#ed1a1a"/>
<path d="M219.6,406.1L225.7,405.3L219.7,402.9L213.5,403.7Z" fill="#eb1915"/>
<path d="M231.8,408.2L237.9,407.7L231.8,404.9L225.7,405.3Z" fill="#ea3611"/>
<path d="M243.9,411.1L250.0,411.0L244.0,407.7L237.9,407.7Z" fill="#e8600d"/>
<path d="M256.0,414.9L262.0,415.2L256.0,411.4L250.0,411.0Z" fill="#e6990a"/>
<path d="M267.9,419.6L273.9,420.3L268.0,416.0L262.0,415.2Z" fill="#e5e007"/>
<path d="M279.8,425.1L285.7,426.2L279.8,421.5L273.9,420.3Z" fill="#92e305"/>
<path d="M69.5,455.0L75.2,448.7L69.5,451.8L63.8,458.0Z" fill="#33d6f3"/>
<path d="M80.9,446.2L86.7,440.4L81.0,443.0L75.2,448.7Z" fill="#34f39f"/>
<path d="M92.6,438.3L98.4,432.9L92.6,435.1L86.7,440.4Z" fill="#35f33a"/>
<path d="M104.3,431.3L110.3,426.3L104.4,428.0L98.4,432.9Z" fill="#8bf336"/>
<path d="M116.2,425.2L122.2,420.6L116.2,421.9L110.3,426.3Z" fill="#d9f336"/>
<path d="M128.2,419.9L134.2,415.8L128.2,416.6L122.2,420.6Z" fill="#f3ca36"/>
<path d="M140.3,415.6L146.3,411.9L140.3,412.2L134.2,415.8Z" fill="#f39134"/>
<path d="M152.4,412.1L158.5,408.8L152.4,408.6L146.3,411.9Z" fill="#f36332"/>
<path d="M164.6,409.4L170.7,406.5L164.6,405.9L158.5,408.8Z" fill="#f23e2f"/>
<path d="M176.8,407.6L182.9,405.1L176.8,404.1L170.7,406.5Z" fill="#f12b2b"/>
<path d="M189.1,406.7L195.2,404.6L189.1,403.1L182.9,405.1Z" fill="#f02626"/>
<path d="M201.3,406.7L207.4,405.0L201.3,403.0L195.2,404.6Z" fill="#ef2121"/>
<path d="M213.5,407.5L219.6,406.1L213.5,403.7L207.4,405.0Z" fill="#ed1c1c"/>
<path d="M225.7,409.1L231.8,408.2L225.7,405.3L219.6,406.1Z" fill="#ec2b17"/>
<path d="M237.9,411.7L243.9,411.1L237.9,407.7L231.8,408.2Z" fill="#ea4e12"/>
<path d="M250.0,415.1L256.0,414.9L250.0,411.0L243.9,411.1Z" fill="#e97f0e"/>
<path d="M262.0,419.3L267.9,419.6L262.0,415.2L256.0,414.9Z" fill="#e7bf0b"/>
<path d="M273.9,424.5L279.8,425.1L273.9,420.3L267.9,419.6Z" fill="#bde508"/>
<path d="M285.6,430.5L291.5,431.6L285.7,426.2L279.8,425.1Z" fill="#5ee406"/>
<path d="M146.3,415.9L152.4,412.1L146.3,411.9L140.3,415.6Z" fill="#f4803a"/>
<path d="M207.4,409.3L213.5,407.5L207.4,405.0L201.3,406.7Z" fill="#ef2424"/>
<path d="M63.8,461.7L69.5,455.0L63.8,458.0L58.1,464.7Z" fill="#379cf4"/>
<path d="M75.2,452.5L80.9,446.2L75.2,448.7L69.5,455.0Z" fill="#39f4d7"/>
<path d="M86.8,444.2L92.6,438.3L86.7,440.4L80.9,446.2Z" fill="#3bf46f"/>
<path d="M98.5,436.8L104.3,431.3L98.4,432.9L92.6,438.3Z" fill="#64f43c"/>
<path d="M122.2,424.6L128.2,419.9L122.2,420.6L116.2,425.2Z" fill="#f5ed3d"/>
<path d="M134.2,419.8L140.3,415.6L134.2,415.8L128.2,419.9Z" fill="#f4b13c"/>
<path d="M158.5,412.8L164.6,409.4L158.5,408.8L152.4,412.1Z" fill="#f45737"/>
<path d="M195.2,408.9L201.3,406.7L195.2,404.6L189.1,406.7Z" fill="#f12929"/>
<path d="M219.6,410.5L225.7,409.1L219.6,406.1L213.5,407.5Z" fill="#ee281e"/>
<path d="M231.8,412.7L237.9,411.7L231.8,408.2L225.7,409.1Z" fill="#ec4318"/>
<path d="M255.9,419.6L262.0,419.3L256.0,414.9L250.0,415.1Z" fill="#e9a50f"/>
<path d="M267.9,424.3L273.9,424.5L267.9,419.6L262.0,419.3Z" fill="#e2e70b"/>
<path d="M279.7,430.0L285.6,430.5L279.8,425.1L273.9,424.5Z" fill="#89e608"/>
<path d="M291.4,436.5L297.3,437.5L291.5,431.6L285.6,430.5Z" fill="#23e406"/>
<path d="M110.3,430.2L116.2,425.2L110.3,426.3L104.3,431.3Z" fill="#b6f53c"/>
<path d="M170.7,410.6L176.8,407.6L170.7,406.5L164.6,409.4Z" fill="#f33934"/>
<path d="M182.9,409.3L189.1,406.7L182.9,405.1L176.8,407.6Z" fill="#f22f2f"/>
<path d="M243.9,415.7L250.0,415.1L243.9,411.1L237.9,411.7Z" fill="#eb6d13"/>
<path d="M81.0,450.6L86.8,444.2L80.9,446.2L75.2,452.5Z" fill="#40f5a8"/>
<path d="M116.2,429.7L122.2,424.6L116.2,425.2L110.3,430.2Z" fill="#d8f643"/>
<path d="M140.3,420.1L146.3,415.9L140.3,415.6L134.2,419.8Z" fill="#f5a042"/>
<path d="M152.4,416.7L158.5,412.8L152.4,412.1L146.3,415.9Z" fill="#f57540"/>
<path d="M201.3,411.5L207.4,409.3L201.3,406.7L195.2,408.9Z" fill="#f12c2c"/>
<path d="M213.5,412.4L219.6,410.5L213.5,407.5L207.4,409.3Z" fill="#f02c25"/>
<path d="M237.8,416.8L243.9,415.7L237.9,411.7L231.8,412.7Z" fill="#ed6219"/>
<path d="M273.8,429.9L279.7,430.0L273.9,424.5L267.9,424.3Z" fill="#ade70c"/>
<path d="M69.5,459.4L75.2,452.5L69.5,455.0L63.8,461.7Z" fill="#3ed7f5"/>
<path d="M92.6,442.7L98.5,436.8L92.6,438.3L86.8,444.2Z" fill="#41f549"/>
<path d="M104.4,435.8L110.3,430.2L104.3,431.3L98.5,436.8Z" fill="#8ff643"/>
<path d="M128.2,424.5L134.2,419.8L128.2,419.9L122.2,424.6Z" fill="#f6d543"/>
<path d="M164.6,414.1L170.7,410.6L164.6,409.4L158.5,412.8Z" fill="#f5533c"/>
<path d="M176.8,412.4L182.9,409.3L176.8,407.6L170.7,410.6Z" fill="#f43a38"/>
<path d="M189.0,411.5L195.2,408.9L189.1,406.7L182.9,409.3Z" fill="#f33232"/>
<path d="M225.7,414.2L231.8,412.7L225.7,409.1L219.6,410.5Z" fill="#ee401f"/>
<path d="M249.9,420.3L255.9,419.6L250.0,415.1L243.9,415.7Z" fill="#eb9314"/>
<path d="M261.9,424.6L267.9,424.3L262.0,419.3L255.9,419.6Z" fill="#e9d30f"/>
<path d="M285.5,436.0L291.4,436.5L285.6,430.5L279.7,430.0Z" fill="#4de609"/>
<path d="M75.2,457.5L81.0,450.6L75.2,452.5L69.5,459.4Z" fill="#45f6e3"/>
<path d="M86.8,449.2L92.6,442.7L86.8,444.2L81.0,450.6Z" fill="#47f682"/>
<path d="M110.3,435.3L116.2,429.7L110.3,430.2L104.4,435.8Z" fill="#b2f74a"/>
<path d="M122.2,429.7L128.2,424.5L122.2,424.6L116.2,429.7Z" fill="#f3f74a"/>
<path d="M134.3,424.9L140.3,420.1L134.2,419.8L128.2,424.5Z" fill="#f7c44a"/>
<path d="M146.4,421.1L152.4,416.7L146.3,415.9L140.3,420.1Z" fill="#f69648"/>
<path d="M158.5,418.1L164.6,414.1L158.5,412.8L152.4,416.7Z" fill="#f67145"/>
<path d="M170.7,416.0L176.8,412.4L170.7,410.6L164.6,414.1Z" fill="#f55441"/>
<path d="M182.9,414.7L189.0,411.5L182.9,409.3L176.8,412.4Z" fill="#f4403b"/>
<path d="M195.1,414.3L201.3,411.5L195.2,408.9L189.0,411.5Z" fill="#f33635"/>
<path d="M207.4,414.8L213.5,412.4L207.4,409.3L201.3,411.5Z" fill="#f2372e"/>
<path d="M219.6,416.1L225.7,414.2L219.6,410.5L213.5,412.4Z" fill="#f04427"/>
<path d="M231.7,418.4L237.8,416.8L231.8,412.7L225.7,414.2Z" fill="#ef5f20"/>
<path d="M243.8,421.5L249.9,420.3L243.9,415.7L237.8,416.8Z" fill="#ed881a"/>
<path d="M267.8,430.3L273.8,429.9L267.9,424.3L261.9,424.6Z" fill="#cbe910"/>
<path d="M279.6,436.0L285.5,436.0L279.7,430.0L273.8,429.9Z" fill="#71e80c"/>
<path d="M98.5,441.8L104.4,435.8L98.5,436.8L92.6,442.7Z" fill="#65f749"/>
<path d="M255.8,425.4L261.9,424.6L255.9,419.6L249.9,420.3Z" fill="#ebc114"/>
<path d="M81.0,456.2L86.8,449.2L81.0,450.6L75.2,457.5Z" fill="#4cf7bc"/>
<path d="M92.7,448.3L98.5,441.8L92.6,442.7L86.8,449.2Z" fill="#4ef764"/>
<path d="M104.4,441.4L110.3,435.3L104.4,435.8L98.5,441.8Z" fill="#88f850"/>
<path d="M116.3,435.4L122.2,429.7L116.2,429.7L110.3,435.3Z" fill="#ccf851"/>
<path d="M128.3,430.2L134.3,424.9L128.2,424.5L122.2,429.7Z" fill="#f8ea51"/>
<path d="M140.3,425.9L146.4,421.1L140.3,420.1L134.3,424.9Z" fill="#f8b950"/>
<path d="M152.4,422.5L158.5,418.1L152.4,416.7L146.4,421.1Z" fill="#f7924e"/>
<path d="M164.6,420.0L170.7,416.0L164.6,414.1L158.5,418.1Z" fill="#f7724a"/>
<path d="M176.8,418.3L182.9,414.7L176.8,412.4L170.7,416.0Z" fill="#f65b44"/>
<path d="M189.0,417.6L195.1,414.3L189.0,411.5L182.9,414.7Z" fill="#f54d3e"/>
<path d="M201.2,417.6L207.4,414.8L201.3,411.5L195.1,414.3Z" fill="#f34837"/>
<path d="M213.4,418.6L219.6,416.1L213.5,412.4L207.4,414.8Z" fill="#f24f2f"/>
<path d="M225.6,420.4L231.7,418.4L225.7,414.2L219.6,416.1Z" fill="#f06328"/>
<path d="M237.7,423.1L243.8,421.5L237.8,416.8L231.7,418.4Z" fill="#ef8521"/>
<path d="M249.8,426.7L255.8,425.4L249.9,420.3L243.8,421.5Z" fill="#edb51a"/>
<path d="M261.7,431.2L267.8,430.3L261.9,424.6L255.8,425.4Z" fill="#e1eb15"/>
<path d="M273.6,436.5L279.6,436.0L273.8,429.9L267.8,430.3Z" fill="#8fe910"/>
<path d="M98.6,448.0L104.4,441.4L98.5,441.8L92.7,448.3Z" fill="#5cf855"/>
<path d="M122.3,436.0L128.3,430.2L122.2,429.7L116.3,435.4Z" fill="#e0f958"/>
<path d="M231.6,425.3L237.7,423.1L231.7,418.4L225.6,420.4Z" fill="#f08828"/>
<path d="M255.7,432.5L261.7,431.2L255.8,425.4L249.8,426.7Z" fill="#ede91a"/>
<path d="M86.9,455.4L92.7,448.3L86.8,449.2L81.0,456.2Z" fill="#53f89e"/>
<path d="M110.4,441.6L116.3,435.4L110.3,435.3L104.4,441.4Z" fill="#a3f957"/>
<path d="M134.3,431.3L140.3,425.9L134.3,424.9L128.3,430.2Z" fill="#f9df57"/>
<path d="M146.4,427.5L152.4,422.5L146.4,421.1L140.3,425.9Z" fill="#f8b556"/>
<path d="M158.5,424.6L164.6,420.0L158.5,418.1L152.4,422.5Z" fill="#f89352"/>
<path d="M170.7,422.5L176.8,418.3L170.7,416.0L164.6,420.0Z" fill="#f7794d"/>
<path d="M182.9,421.3L189.0,417.6L182.9,414.7L176.8,418.3Z" fill="#f66747"/>
<path d="M195.1,421.0L201.2,417.6L195.1,414.3L189.0,417.6Z" fill="#f55e40"/>
<path d="M207.3,421.5L213.4,418.6L207.4,414.8L201.2,417.6Z" fill="#f45f38"/>
<path d="M219.5,423.0L225.6,420.4L219.6,416.1L213.4,418.6Z" fill="#f26d30"/>
<path d="M243.7,428.4L249.8,426.7L243.8,421.5L237.7,423.1Z" fill="#efb121"/>
<path d="M267.6,437.5L273.6,436.5L267.8,430.3L261.7,431.2Z" fill="#a6eb15"/>
<path d="M92.8,455.2L98.6,448.0L92.7,448.3L86.9,455.4Z" fill="#5af988"/>
<path d="M104.5,448.3L110.4,441.6L104.4,441.4L98.6,448.0Z" fill="#78f95d"/>
<path d="M116.4,442.3L122.3,436.0L116.3,435.4L110.4,441.6Z" fill="#b7fa5e"/>
<path d="M128.3,437.2L134.3,431.3L128.3,430.2L122.3,436.0Z" fill="#edfa5e"/>
<path d="M164.6,427.1L170.7,422.5L164.6,420.0L158.5,424.6Z" fill="#f99a56"/>
<path d="M176.8,425.5L182.9,421.3L176.8,418.3L170.7,422.5Z" fill="#f88550"/>
<path d="M189.0,424.8L195.1,421.0L189.0,417.6L182.9,421.3Z" fill="#f77849"/>
<path d="M225.5,427.9L231.6,425.3L225.6,420.4L219.5,423.0Z" fill="#f29130"/>
<path d="M237.6,430.7L243.7,428.4L237.7,423.1L231.6,425.3Z" fill="#f0b328"/>
<path d="M249.6,434.4L255.7,432.5L249.8,426.7L243.7,428.4Z" fill="#efe421"/>
<path d="M261.6,438.9L267.6,437.5L261.7,431.2L255.7,432.5Z" fill="#b6ed1a"/>
<path d="M140.4,432.9L146.4,427.5L140.3,425.9L134.3,431.3Z" fill="#f9da5d"/>
<path d="M152.5,429.6L158.5,424.6L152.4,422.5L146.4,427.5Z" fill="#f9b65a"/>
<path d="M201.2,425.0L207.3,421.5L201.2,417.6L195.1,421.0Z" fill="#f57541"/>
<path d="M213.4,426.0L219.5,423.0L213.4,418.6L207.3,421.5Z" fill="#f47c39"/>
<path d="M110.5,449.1L116.4,442.3L110.4,441.6L104.5,448.3Z" fill="#8dfa63"/>
<path d="M170.7,430.2L176.8,425.5L170.7,422.5L164.6,427.1Z" fill="#f9a559"/>
<path d="M182.9,429.1L189.0,424.8L182.9,421.3L176.8,425.5Z" fill="#f89552"/>
<path d="M243.5,436.7L249.6,434.4L243.7,428.4L237.6,430.7Z" fill="#f0e528"/>
<path d="M98.7,455.5L104.5,448.3L98.6,448.0L92.8,455.2Z" fill="#62fa79"/>
<path d="M122.4,443.5L128.3,437.2L122.3,436.0L116.4,442.3Z" fill="#c5fa64"/>
<path d="M134.4,438.9L140.4,432.9L134.3,431.3L128.3,437.2Z" fill="#f3fa64"/>
<path d="M146.4,435.1L152.5,429.6L146.4,427.5L140.4,432.9Z" fill="#fadb62"/>
<path d="M158.5,432.3L164.6,427.1L158.5,424.6L152.5,429.6Z" fill="#fabc5e"/>
<path d="M195.1,428.9L201.2,425.0L195.1,421.0L189.0,424.8Z" fill="#f78e4a"/>
<path d="M207.2,429.5L213.4,426.0L207.3,421.5L201.2,425.0Z" fill="#f59141"/>
<path d="M219.4,431.0L225.5,427.9L219.5,423.0L213.4,426.0Z" fill="#f49f38"/>
<path d="M231.5,433.4L237.6,430.7L231.6,425.3L225.5,427.9Z" fill="#f2bb30"/>
<path d="M255.5,440.8L261.6,438.9L255.7,432.5L249.6,434.4Z" fill="#bfef20"/>
<path d="M104.6,456.4L110.5,449.1L104.5,448.3L98.7,455.5Z" fill="#68fb70"/>
<path d="M116.5,450.4L122.4,443.5L116.4,442.3L110.5,449.1Z" fill="#9bfb6a"/>
<path d="M140.4,441.2L146.4,435.1L140.4,432.9L134.4,438.9Z" fill="#f5fb68"/>
<path d="M152.5,437.9L158.5,432.3L152.5,429.6L146.4,435.1Z" fill="#fbe065"/>
<path d="M164.6,435.5L170.7,430.2L164.6,427.1L158.5,432.3Z" fill="#fac761"/>
<path d="M176.8,433.9L182.9,429.1L176.8,425.5L170.7,430.2Z" fill="#f9b55a"/>
<path d="M188.9,433.3L195.1,428.9L189.0,424.8L182.9,429.1Z" fill="#f8aa53"/>
<path d="M201.1,433.5L207.2,429.5L201.2,425.0L195.1,428.9Z" fill="#f7a94a"/>
<path d="M213.3,434.6L219.4,431.0L213.4,426.0L207.2,429.5Z" fill="#f5b341"/>
<path d="M237.4,439.5L243.5,436.7L237.6,430.7L231.5,433.4Z" fill="#f2ec2f"/>
<path d="M249.4,443.2L255.5,440.8L249.6,434.4L243.5,436.7Z" fill="#c2f027"/>
<path d="M128.4,445.4L134.4,438.9L128.3,437.2L122.4,443.5Z" fill="#cdfb6a"/>
<path d="M225.4,436.6L231.5,433.4L225.5,427.9L219.4,431.0Z" fill="#f4c838"/>
<path d="M110.6,457.8L116.5,450.4L110.5,449.1L104.6,456.4Z" fill="#70fc6e"/>
<path d="M122.5,452.3L128.4,445.4L122.4,443.5L116.5,450.4Z" fill="#a4fc6f"/>
<path d="M134.4,447.7L140.4,441.2L134.4,438.9L128.4,445.4Z" fill="#cefc6e"/>
<path d="M146.5,444.0L152.5,437.9L146.4,435.1L140.4,441.2Z" fill="#f1fb6c"/>
<path d="M158.6,441.2L164.6,435.5L158.5,432.3L152.5,437.9Z" fill="#fbea68"/>
<path d="M170.7,439.3L176.8,433.9L170.7,430.2L164.6,435.5Z" fill="#fad662"/>
<path d="M182.8,438.2L188.9,433.3L182.9,429.1L176.8,433.9Z" fill="#f9c95b"/>
<path d="M195.0,438.0L201.1,433.5L195.1,428.9L188.9,433.3Z" fill="#f8c453"/>
<path d="M207.1,438.7L213.3,434.6L207.2,429.5L201.1,433.5Z" fill="#f7ca49"/>
<path d="M219.2,440.3L225.4,436.6L219.4,431.0L213.3,434.6Z" fill="#f5db40"/>
<path d="M231.3,442.8L237.4,439.5L231.5,433.4L225.4,436.6Z" fill="#eff437"/>
<path d="M243.3,446.1L249.4,443.2L243.5,436.7L237.4,439.5Z" fill="#c0f22e"/>
<path d="M116.6,459.8L122.5,452.3L116.5,450.4L110.6,457.8Z" fill="#79fc74"/>
<path d="M128.5,454.8L134.4,447.7L128.4,445.4L122.5,452.3Z" fill="#a7fc73"/>
<path d="M140.5,450.7L146.5,444.0L140.4,441.2L134.4,447.7Z" fill="#cbfc72"/>
<path d="M152.5,447.4L158.6,441.2L152.5,437.9L146.5,444.0Z" fill="#e8fc6f"/>
<path d="M164.6,445.1L170.7,439.3L164.6,435.5L158.6,441.2Z" fill="#fbf969"/>
<path d="M176.7,443.6L182.8,438.2L176.8,433.9L170.7,439.3Z" fill="#faea63"/>
<path d="M188.9,443.0L195.0,438.0L188.9,433.3L182.8,438.2Z" fill="#f9e25b"/>
<path d="M201.0,443.3L207.1,438.7L201.1,433.5L195.0,438.0Z" fill="#f8e452"/>
<path d="M213.1,444.5L219.2,440.3L213.3,434.6L207.1,438.7Z" fill="#f6f148"/>
<path d="M225.2,446.6L231.3,442.8L225.4,436.6L219.2,440.3Z" fill="#e1f53f"/>
<path d="M237.2,449.5L243.3,446.1L237.4,439.5L231.3,442.8Z" fill="#b8f335"/>
<path d="M146.5,454.2L152.5,447.4L146.5,444.0L140.5,450.7Z" fill="#c3fc74"/>
<path d="M158.6,451.4L164.6,445.1L158.6,441.2L152.5,447.4Z" fill="#dafc70"/>
<path d="M194.9,448.4L201.0,443.3L195.0,438.0L188.9,443.0Z" fill="#f1f95a"/>
<path d="M207.0,449.2L213.1,444.5L207.1,438.7L201.0,443.3Z" fill="#e5f850"/>
<path d="M122.6,462.4L128.5,454.8L122.5,452.3L116.6,459.8Z" fill="#7dfd78"/>
<path d="M134.5,457.8L140.5,450.7L134.4,447.7L128.5,454.8Z" fill="#a4fd77"/>
<path d="M170.7,449.5L176.7,443.6L170.7,439.3L164.6,445.1Z" fill="#eafb6a"/>
<path d="M182.8,448.5L188.9,443.0L182.8,438.2L176.7,443.6Z" fill="#f2fa62"/>
<path d="M219.1,450.9L225.2,446.6L219.2,440.3L213.1,444.5Z" fill="#cff646"/>
<path d="M231.1,453.4L237.2,449.5L231.3,442.8L225.2,446.6Z" fill="#abf53d"/>
<path d="M128.6,465.5L134.5,457.8L128.5,454.8L122.6,462.4Z" fill="#7bfd7b"/>
<path d="M140.6,461.4L146.5,454.2L140.5,450.7L134.5,457.8Z" fill="#9cfd79"/>
<path d="M152.6,458.2L158.6,451.4L152.5,447.4L146.5,454.2Z" fill="#b6fd75"/>
<path d="M164.6,455.9L170.7,449.5L164.6,445.1L158.6,451.4Z" fill="#c8fc70"/>
<path d="M176.7,454.5L182.8,448.5L176.7,443.6L170.7,449.5Z" fill="#d2fb69"/>
<path d="M188.8,454.0L194.9,448.4L188.9,443.0L182.8,448.5Z" fill="#d3fa61"/>
<path d="M200.9,454.4L207.0,449.2L201.0,443.3L194.9,448.4Z" fill="#cbf958"/>
<path d="M213.0,455.6L219.1,450.9L213.1,444.5L207.0,449.2Z" fill="#b9f74e"/>
<path d="M225.0,457.8L231.1,453.4L225.2,446.6L219.1,450.9Z" fill="#9af644"/>
<path d="M134.7,469.2L140.6,461.4L134.5,457.8L128.6,465.5Z" fill="#7dfd87"/>
<path d="M146.6,465.5L152.6,458.2L146.5,454.2L140.6,461.4Z" fill="#90fd7a"/>
<path d="M170.7,461.0L176.7,454.5L170.7,449.5L164.6,455.9Z" fill="#b0fc6f"/>
<path d="M182.7,460.1L188.8,454.0L182.8,448.5L176.7,454.5Z" fill="#b4fb68"/>
<path d="M206.9,460.9L213.0,455.6L207.0,449.2L200.9,454.4Z" fill="#9ff855"/>
<path d="M218.9,462.7L225.0,457.8L219.1,450.9L213.0,455.6Z" fill="#85f74c"/>
<path d="M158.6,462.8L164.6,455.9L158.6,451.4L152.6,458.2Z" fill="#a4fd76"/>
<path d="M194.8,460.1L200.9,454.4L194.9,448.4L188.8,454.0Z" fill="#affa5f"/>
<path d="M140.7,473.4L146.6,465.5L140.6,461.4L134.7,469.2Z" fill="#7efe95"/>
<path d="M164.7,468.0L170.7,461.0L164.6,455.9L158.6,462.8Z" fill="#8cfc75"/>
<path d="M176.7,466.7L182.7,460.1L176.7,454.5L170.7,461.0Z" fill="#92fc6e"/>
<path d="M188.7,466.3L194.8,460.1L188.8,454.0L182.7,460.1Z" fill="#90fb65"/>
<path d="M212.8,468.0L218.9,462.7L213.0,455.6L206.9,460.9Z" fill="#6cf853"/>
<path d="M152.6,470.3L158.6,462.8L152.6,458.2L146.6,465.5Z" fill="#7efd7a"/>
<path d="M200.8,466.7L206.9,460.9L200.9,454.4L194.8,460.1Z" fill="#83f95c"/>
<path d="M146.7,478.2L152.6,470.3L146.6,465.5L140.7,473.4Z" fill="#7efea7"/>
<path d="M158.7,475.6L164.7,468.0L158.6,462.8L152.6,470.3Z" fill="#79fd8d"/>
<path d="M170.7,473.8L176.7,466.7L170.7,461.0L164.7,468.0Z" fill="#73fc78"/>
<path d="M182.7,472.9L188.7,466.3L182.7,460.1L176.7,466.7Z" fill="#6efb6b"/>
<path d="M194.7,473.0L200.8,466.7L194.8,460.1L188.7,466.3Z" fill="#65fa63"/>
<path d="M206.7,473.9L212.8,468.0L206.9,460.9L200.8,466.7Z" fill="#59f961"/>
<path d="M152.7,483.6L158.7,475.6L152.6,470.3L146.7,478.2Z" fill="#7efdbd"/>
<path d="M164.7,481.4L170.7,473.8L164.7,468.0L158.7,475.6Z" fill="#78fda7"/>
<path d="M176.7,480.2L182.7,472.9L176.7,466.7L170.7,473.8Z" fill="#71fc97"/>
<path d="M188.7,479.8L194.7,473.0L188.7,466.3L182.7,472.9Z" fill="#68fb8d"/>
<path d="M200.7,480.3L206.7,473.9L200.8,466.7L194.7,473.0Z" fill="#5ffa8c"/>
<path d="M158.7,489.6L164.7,481.4L158.7,475.6L152.7,483.6Z" fill="#7cfdd7"/>
<path d="M170.7,487.9L176.7,480.2L170.7,473.8L164.7,481.4Z" fill="#75fcc6"/>
<path d="M182.6,487.1L188.7,479.8L182.7,472.9L176.7,480.2Z" fill="#6efcbb"/>
<path d="M194.6,487.2L200.7,480.3L194.7,473.0L188.7,479.8Z" fill="#65fbb8"/>
<path d="M164.7,496.1L170.7,487.9L164.7,481.4L158.7,489.6Z" fill="#79fdf6"/>
<path d="M176.6,494.9L182.6,487.1L176.7,480.2L170.7,487.9Z" fill="#72fcea"/>
<path d="M188.6,494.6L194.6,487.2L188.7,479.8L182.6,487.1Z" fill="#6afbe6"/>
<path d="M170.7,503.2L176.6,494.9L170.7,487.9L164.7,496.1Z" fill="#76dffd"/>
<path d="M182.6,502.5L188.6,494.6L182.6,487.1L176.6,494.9Z" fill="#6fe3fc"/>
<path d="M176.6,510.9L182.6,502.5L176.6,494.9L170.7,503.2Z" fill="#73b3fc"/>
</g>
<circle cx="58.3" cy="466.3" r="2.6" fill="#f4c4c4" stroke="#a88" stroke-width="0.5"/>
<circle cx="296.9" cy="438.7" r="2.6" fill="#c00000" stroke="#700" stroke-width="0.5"/>
<circle cx="176.6" cy="512.6" r="2.6" fill="#f4c4c4" stroke="#a88" stroke-width="0.5"/>
<circle cx="176.6" cy="403.1" r="2.6" fill="#c00000" stroke="#700" stroke-width="0.5"/>
<path d="M63.7,811.7L186.5,778.9L308.2,811.7M62.2,786.3L186.5,755.8L310.0,786.3M60.8,760.9L186.6,732.7L311.8,760.9M59.3,735.5L186.6,709.6L313.7,735.5M57.8,710.1L186.6,686.5L315.5,710.1M94.4,803.5L90.0,704.2M125.1,795.3L122.2,698.3M155.8,787.1L154.4,692.4M283.8,805.1L289.7,705.4M259.5,798.6L263.9,700.7M235.2,792.0L238.2,695.9M210.8,785.5L212.4,691.2M65.6,844.2L57.8,710.1M186.5,808.5L186.6,686.5M305.8,844.2L315.5,710.1" stroke="#8a8a8a" stroke-width="1" fill="none"/>
<clipPath id="flC"><polygon points="186.5,891.8 65.6,844.2 186.5,808.5 305.8,844.2"/></clipPath>
<polygon points="186.5,891.8 65.6,844.2 186.5,808.5 305.8,844.2" fill="#686868" stroke="#3a3a3a" stroke-width="0.8"/>
<g clip-path="url(#flC)" fill="none" stroke-width="1.6">
<path d="M267.1,817.6L263.1,816.4L258.9,815.2L254.5,814.2L249.9,813.2L245.1,812.3L240.1,811.5L235.0,810.9L229.8,810.3L224.4,809.8L218.9,809.4L213.3,809.1L207.7,808.8L202.0,808.7L196.2,808.7L190.4,808.7L184.6,808.9L178.7,809.1L172.9,809.5L167.1,809.9L161.4,810.4L155.8,811.0L150.2,811.7L144.7,812.5L139.3,813.4L134.1,814.3L129.0,815.4L124.0,816.5L119.2,817.7L114.7,819.0L110.3,820.4L106.1,821.9L102.1,823.5L98.4,825.1L94.9,826.9L91.7,828.7L88.7,830.5L86.0,832.5L83.6,834.5L81.5,836.6L79.6,838.7L78.1,840.9L76.8,843.1L75.9,845.4L75.3,847.7L75.0,850.0L75.0,852.4L75.3,854.8L75.9,857.2L76.9,859.6L78.1,862.0L79.6,864.4L81.5,866.8L83.6,869.1L86.0,871.4L88.7,873.7L91.7,875.9L94.9,878.0L98.4,880.1L102.1,882.0L106.1,883.9L110.3,885.8L114.7,887.5L119.3,889.0L124.0,890.5L129.0,891.9L134.1,893.1L139.3,894.2L144.7,895.1L150.2,895.9L155.7,896.6L161.4,897.1L167.1,897.4L172.9,897.6L178.7,897.7L184.5,897.6L190.3,897.3L196.1,896.9L201.9,896.3L207.6,895.6L213.2,894.7L218.8,893.7L224.3,892.5L229.7,891.2L234.9,889.8L240.0,888.2L245.0,886.6L249.7,884.8L254.3,882.9L258.8,881.0L263.0,878.9L267.0,876.8L270.7,874.6L274.3,872.3L277.5,870.0L280.6,867.6L283.3,865.2L285.8,862.8L288.1,860.4L290.0,857.9L291.6,855.5L293.0,853.1L294.1,850.6L294.8,848.2L295.3,845.9L295.4,843.6L295.3,841.3L294.8,839.0L294.1,836.8L293.0,834.7L291.7,832.7L290.1,830.7L288.1,828.7L285.9,826.9L283.4,825.1L280.7,823.5L277.7,821.9L274.4,820.4L270.8,818.9L267.1,817.6Z" stroke="#2f98c8"/>
<path d="M258.5,821.0L254.9,819.8L251.1,818.8L247.2,817.8L243.1,816.9L238.8,816.1L234.3,815.4L229.8,814.8L225.1,814.2L220.3,813.7L215.4,813.4L210.4,813.1L205.3,812.9L200.2,812.8L195.0,812.7L189.8,812.8L184.6,812.9L179.4,813.1L174.2,813.4L169.0,813.8L163.9,814.3L158.9,814.8L153.9,815.5L149.0,816.2L144.2,817.0L139.5,817.9L134.9,818.9L130.5,819.9L126.2,821.0L122.1,822.2L118.2,823.5L114.5,824.9L110.9,826.3L107.6,827.8L104.5,829.4L101.6,831.0L98.9,832.7L96.5,834.5L94.4,836.3L92.5,838.2L90.8,840.1L89.5,842.0L88.4,844.0L87.5,846.1L87.0,848.2L86.7,850.3L86.7,852.4L87.0,854.5L87.5,856.6L88.4,858.8L89.5,860.9L90.8,863.0L92.5,865.1L94.4,867.2L96.6,869.2L99.0,871.2L101.6,873.2L104.5,875.1L107.6,876.9L110.9,878.6L114.5,880.3L118.2,881.9L122.1,883.4L126.2,884.8L130.5,886.1L134.9,887.2L139.5,888.3L144.2,889.3L149.0,890.1L153.9,890.8L158.8,891.4L163.9,891.8L169.0,892.1L174.2,892.3L179.4,892.3L184.6,892.2L189.8,892.0L194.9,891.6L200.1,891.1L205.2,890.5L210.3,889.7L215.3,888.8L220.2,887.8L225.0,886.6L229.7,885.4L234.2,884.0L238.7,882.6L242.9,881.0L247.1,879.4L251.0,877.6L254.8,875.8L258.4,873.9L261.7,872.0L264.9,870.0L267.8,868.0L270.6,865.9L273.0,863.8L275.3,861.6L277.3,859.5L279.0,857.3L280.5,855.1L281.7,853.0L282.6,850.8L283.3,848.7L283.7,846.5L283.9,844.5L283.7,842.4L283.3,840.4L282.7,838.4L281.7,836.5L280.5,834.7L279.0,832.9L277.3,831.1L275.3,829.4L273.1,827.8L270.6,826.3L267.9,824.9L265.0,823.5L261.8,822.2L258.5,821.0Z" stroke="#2cb884"/>
<path d="M248.7,824.8L245.6,823.8L242.3,822.8L238.9,822.0L235.3,821.2L231.6,820.5L227.8,819.8L223.8,819.2L219.7,818.7L215.6,818.3L211.3,818.0L207.0,817.7L202.6,817.5L198.2,817.4L193.7,817.4L189.2,817.4L184.7,817.6L180.2,817.7L175.7,818.0L171.2,818.4L166.8,818.8L162.4,819.3L158.1,819.9L153.8,820.5L149.7,821.2L145.6,822.0L141.7,822.9L137.9,823.8L134.2,824.8L130.6,825.9L127.2,827.0L124.0,828.2L120.9,829.5L118.0,830.8L115.3,832.2L112.8,833.6L110.6,835.1L108.5,836.7L106.6,838.3L105.0,839.9L103.5,841.6L102.4,843.3L101.4,845.0L100.7,846.8L100.2,848.6L100.0,850.4L100.0,852.3L100.2,854.1L100.7,856.0L101.4,857.8L102.4,859.6L103.6,861.4L105.0,863.2L106.6,865.0L108.5,866.7L110.6,868.4L112.9,870.1L115.4,871.7L118.1,873.3L120.9,874.7L124.0,876.2L127.2,877.5L130.6,878.8L134.2,880.0L137.9,881.1L141.7,882.1L145.6,883.0L149.7,883.8L153.8,884.5L158.1,885.0L162.4,885.5L166.8,885.9L171.2,886.2L175.7,886.3L180.1,886.3L184.6,886.2L189.2,886.0L193.6,885.7L198.1,885.3L202.5,884.7L206.9,884.1L211.2,883.3L215.5,882.5L219.7,881.5L223.7,880.4L227.7,879.3L231.5,878.1L235.2,876.7L238.8,875.3L242.2,873.9L245.5,872.3L248.6,870.7L251.5,869.1L254.3,867.4L256.8,865.6L259.2,863.8L261.3,862.0L263.3,860.2L265.0,858.4L266.5,856.5L267.8,854.6L268.8,852.8L269.7,850.9L270.2,849.0L270.6,847.2L270.7,845.4L270.6,843.6L270.3,841.9L269.7,840.2L268.9,838.5L267.8,836.9L266.5,835.3L265.0,833.8L263.3,832.3L261.4,830.9L259.2,829.5L256.9,828.3L254.4,827.0L251.6,825.9L248.7,824.8Z" stroke="#3cbc3c"/>
<path d="M237.1,829.4L234.6,828.5L231.9,827.7L229.1,827.0L226.2,826.3L223.1,825.7L220.0,825.1L216.8,824.6L213.4,824.2L210.0,823.9L206.6,823.6L203.0,823.3L199.4,823.2L195.8,823.1L192.2,823.1L188.5,823.1L184.8,823.2L181.1,823.4L177.5,823.6L173.8,823.9L170.2,824.2L166.6,824.7L163.1,825.1L159.6,825.7L156.2,826.3L152.9,827.0L149.7,827.7L146.6,828.5L143.6,829.3L140.7,830.2L137.9,831.2L135.3,832.2L132.8,833.3L130.4,834.4L128.2,835.5L126.2,836.7L124.3,838.0L122.6,839.2L121.1,840.6L119.8,841.9L118.6,843.3L117.6,844.7L116.9,846.1L116.3,847.6L115.9,849.1L115.7,850.6L115.7,852.1L115.9,853.5L116.3,855.0L116.9,856.5L117.7,858.0L118.6,859.5L119.8,860.9L121.1,862.4L122.6,863.8L124.3,865.1L126.2,866.4L128.2,867.7L130.4,869.0L132.8,870.2L135.3,871.3L137.9,872.4L140.7,873.4L143.6,874.3L146.6,875.2L149.7,876.0L152.9,876.7L156.2,877.3L159.6,877.9L163.1,878.3L166.6,878.7L170.2,879.0L173.8,879.2L177.4,879.3L181.1,879.3L184.8,879.3L188.4,879.1L192.1,878.9L195.8,878.5L199.4,878.1L203.0,877.6L206.5,877.0L210.0,876.3L213.4,875.5L216.7,874.7L219.9,873.7L223.1,872.8L226.1,871.7L229.0,870.6L231.8,869.4L234.5,868.2L237.0,866.9L239.4,865.6L241.7,864.2L243.8,862.8L245.7,861.4L247.4,859.9L249.0,858.5L250.4,857.0L251.7,855.5L252.7,854.0L253.6,852.4L254.2,850.9L254.7,849.4L255.0,847.9L255.1,846.5L255.0,845.0L254.7,843.6L254.3,842.2L253.6,840.8L252.7,839.4L251.7,838.1L250.5,836.9L249.1,835.6L247.5,834.5L245.7,833.3L243.8,832.3L241.7,831.2L239.5,830.3L237.1,829.4Z" stroke="#b4c83a"/>
<path d="M222.0,835.3L220.2,834.7L218.3,834.1L216.3,833.6L214.2,833.1L212.1,832.6L209.9,832.2L207.6,831.8L205.2,831.5L202.8,831.2L200.4,831.0L197.9,830.9L195.3,830.7L192.8,830.7L190.2,830.6L187.6,830.7L185.0,830.7L182.4,830.8L179.8,831.0L177.2,831.2L174.7,831.5L172.1,831.8L169.6,832.2L167.2,832.6L164.8,833.0L162.5,833.5L160.2,834.1L158.0,834.6L155.9,835.3L153.8,835.9L151.9,836.6L150.0,837.4L148.2,838.1L146.6,839.0L145.0,839.8L143.6,840.7L142.3,841.6L141.1,842.5L140.0,843.4L139.1,844.4L138.2,845.4L137.6,846.4L137.0,847.4L136.6,848.5L136.3,849.5L136.2,850.6L136.2,851.6L136.3,852.7L136.6,853.7L137.0,854.8L137.6,855.8L138.2,856.8L139.1,857.8L140.0,858.8L141.1,859.8L142.3,860.7L143.6,861.6L145.0,862.5L146.6,863.4L148.2,864.2L150.0,865.0L151.9,865.7L153.8,866.4L155.8,867.0L158.0,867.6L160.2,868.2L162.4,868.6L164.8,869.1L167.2,869.4L169.6,869.8L172.1,870.0L174.6,870.2L177.2,870.3L179.8,870.4L182.4,870.4L185.0,870.4L187.6,870.3L190.2,870.1L192.7,869.9L195.3,869.6L197.8,869.2L200.3,868.8L202.8,868.3L205.2,867.8L207.5,867.2L209.8,866.6L212.1,865.9L214.2,865.2L216.3,864.5L218.3,863.7L220.2,862.8L222.0,861.9L223.6,861.0L225.2,860.1L226.7,859.1L228.1,858.1L229.3,857.1L230.4,856.1L231.4,855.0L232.3,854.0L233.1,852.9L233.7,851.9L234.1,850.8L234.5,849.8L234.7,848.7L234.8,847.7L234.7,846.6L234.5,845.6L234.2,844.6L233.7,843.6L233.1,842.7L232.3,841.7L231.5,840.8L230.5,839.9L229.3,839.1L228.1,838.2L226.7,837.5L225.3,836.7L223.7,836.0L222.0,835.3Z" stroke="#e0962e"/>
</g>
<path d="M65.6,844.2L186.5,891.8L305.8,844.2" stroke="#222" stroke-width="1" fill="none"/>
<circle cx="186.5" cy="891.8" r="1.2" fill="#111"/><circle cx="216.3" cy="879.9" r="1.2" fill="#111"/><circle cx="246.2" cy="868.0" r="1.2" fill="#111"/><circle cx="276.0" cy="856.1" r="1.2" fill="#111"/><circle cx="305.8" cy="844.2" r="1.2" fill="#111"/><circle cx="186.5" cy="891.8" r="1.2" fill="#111"/><circle cx="162.3" cy="882.3" r="1.2" fill="#111"/><circle cx="138.1" cy="872.8" r="1.2" fill="#111"/><circle cx="114.0" cy="863.2" r="1.2" fill="#111"/><circle cx="89.8" cy="853.7" r="1.2" fill="#111"/><circle cx="65.6" cy="844.2" r="1.2" fill="#111"/><circle cx="63.7" cy="811.7" r="1.3" fill="#111"/><circle cx="62.2" cy="786.3" r="1.3" fill="#111"/><circle cx="60.8" cy="760.9" r="1.3" fill="#111"/><circle cx="59.3" cy="735.5" r="1.3" fill="#111"/><circle cx="57.8" cy="710.1" r="1.3" fill="#111"/>
<g stroke="#1e2a18" stroke-width="0.6" stroke-opacity="0.75" stroke-linejoin="round">
<path d="M186.5,738.9L192.8,741.3L186.6,744.4L180.3,742.1Z" fill="#00d9af"/>
<path d="M180.2,736.9L186.5,738.9L180.3,742.1L174.0,740.2Z" fill="#00da7c"/>
<path d="M192.8,736.2L199.1,738.7L192.8,741.3L186.5,738.9Z" fill="#00d971"/>
<path d="M173.9,735.4L180.2,736.9L174.0,740.2L167.7,738.7Z" fill="#00dc4f"/>
<path d="M199.1,734.0L205.4,736.6L199.1,738.7L192.8,736.2Z" fill="#00d93a"/>
<path d="M186.5,734.2L192.8,736.2L186.5,738.9L180.2,736.9Z" fill="#00da3c"/>
<path d="M167.6,734.2L173.9,735.4L167.7,738.7L161.4,737.7Z" fill="#01dd28"/>
<path d="M180.2,732.5L186.5,734.2L180.2,736.9L173.9,735.4Z" fill="#00dc0e"/>
<path d="M192.8,731.9L199.1,734.0L192.8,736.2L186.5,734.2Z" fill="#00db04"/>
<path d="M205.4,732.3L211.7,735.0L205.4,736.6L199.1,734.0Z" fill="#00d90a"/>
<path d="M161.3,733.5L167.6,734.2L161.4,737.7L155.1,737.0Z" fill="#01df08"/>
<path d="M173.9,731.3L180.2,732.5L173.9,735.4L167.6,734.2Z" fill="#1cdd01"/>
<path d="M186.5,730.1L192.8,731.9L186.5,734.2L180.2,732.5Z" fill="#2ddc00"/>
<path d="M199.2,730.1L205.4,732.3L199.1,734.0L192.8,731.9Z" fill="#2ddb00"/>
<path d="M211.8,731.1L218.0,733.8L211.7,735.0L205.4,732.3Z" fill="#1eda00"/>
<path d="M155.0,733.2L161.3,733.5L155.1,737.0L148.7,736.8Z" fill="#16e002"/>
<path d="M180.2,728.8L186.5,730.1L180.2,732.5L173.9,731.3Z" fill="#57de01"/>
<path d="M192.8,728.2L199.2,730.1L192.8,731.9L186.5,730.1Z" fill="#5fdd00"/>
<path d="M218.1,730.4L224.3,733.2L218.0,733.8L211.8,731.1Z" fill="#3fda00"/>
<path d="M167.6,730.5L173.9,731.3L167.6,734.2L161.3,733.5Z" fill="#3fdf01"/>
<path d="M205.5,728.8L211.8,731.1L205.4,732.3L199.2,730.1Z" fill="#57db00"/>
<path d="M148.6,733.4L155.0,733.2L148.7,736.8L142.4,737.1Z" fill="#2ce203"/>
<path d="M161.2,730.1L167.6,730.5L161.3,733.5L155.0,733.2Z" fill="#5ce102"/>
<path d="M173.9,727.9L180.2,728.8L173.9,731.3L167.6,730.5Z" fill="#7cdf02"/>
<path d="M186.5,726.8L192.8,728.2L186.5,730.1L180.2,728.8Z" fill="#8bde01"/>
<path d="M199.2,726.9L205.5,728.8L199.2,730.1L192.8,728.2Z" fill="#8add00"/>
<path d="M211.8,728.0L218.1,730.4L211.8,731.1L205.5,728.8Z" fill="#79dc00"/>
<path d="M224.5,730.3L230.7,733.2L224.3,733.2L218.1,730.4Z" fill="#58da00"/>
<path d="M142.3,734.0L148.6,733.4L142.4,737.1L136.1,737.8Z" fill="#3ce305"/>
<path d="M167.5,727.4L173.9,727.9L167.6,730.5L161.2,730.1Z" fill="#9ae103"/>
<path d="M205.6,726.0L211.8,728.0L205.5,728.8L199.2,726.9Z" fill="#addd01"/>
<path d="M230.8,730.6L237.0,733.6L230.7,733.2L224.5,730.3Z" fill="#69db00"/>
<path d="M154.9,730.2L161.2,730.1L155.0,733.2L148.6,733.4Z" fill="#73e204"/>
<path d="M180.2,725.8L186.5,726.8L180.2,728.8L173.9,727.9Z" fill="#b1e002"/>
<path d="M192.9,725.4L199.2,726.9L192.8,728.2L186.5,726.8Z" fill="#b7df01"/>
<path d="M218.2,727.8L224.5,730.3L218.1,730.4L211.8,728.0Z" fill="#93dc00"/>
<path d="M135.9,735.0L142.3,734.0L136.1,737.8L129.8,738.9Z" fill="#45e507"/>
<path d="M148.5,730.7L154.9,730.2L148.6,733.4L142.3,734.0Z" fill="#84e405"/>
<path d="M161.1,727.4L167.5,727.4L161.2,730.1L154.9,730.2Z" fill="#b2e304"/>
<path d="M173.8,725.3L180.2,725.8L173.9,727.9L167.5,727.4Z" fill="#d1e203"/>
<path d="M186.5,724.3L192.9,725.4L186.5,726.8L180.2,725.8Z" fill="#dfe002"/>
<path d="M199.2,724.4L205.6,726.0L199.2,726.9L192.9,725.4Z" fill="#dcdf01"/>
<path d="M211.9,725.7L218.2,727.8L211.8,728.0L205.6,726.0Z" fill="#c9de01"/>
<path d="M224.6,728.0L230.8,730.6L224.5,730.3L218.2,727.8Z" fill="#a6dc00"/>
<path d="M237.1,731.5L243.3,734.6L237.0,733.6L230.8,730.6Z" fill="#73db00"/>
<path d="M129.6,736.5L135.9,735.0L129.8,738.9L123.5,740.5Z" fill="#48e609"/>
<path d="M142.2,731.6L148.5,730.7L142.3,734.0L135.9,735.0Z" fill="#8ee508"/>
<path d="M154.8,727.9L161.1,727.4L154.9,730.2L148.5,730.7Z" fill="#c4e406"/>
<path d="M167.5,725.2L173.8,725.3L167.5,727.4L161.1,727.4Z" fill="#e3dd05"/>
<path d="M180.2,723.7L186.5,724.3L180.2,725.8L173.8,725.3Z" fill="#e2c504"/>
<path d="M192.9,723.3L199.2,724.4L192.9,725.4L186.5,724.3Z" fill="#e1bd02"/>
<path d="M205.6,724.0L211.9,725.7L205.6,726.0L199.2,724.4Z" fill="#dfc602"/>
<path d="M218.3,725.9L224.6,728.0L218.2,727.8L211.9,725.7Z" fill="#ddde01"/>
<path d="M230.9,728.9L237.1,731.5L230.8,730.6L224.6,728.0Z" fill="#b1dc00"/>
<path d="M243.4,733.0L249.6,736.1L243.3,734.6L237.1,731.5Z" fill="#75db00"/>
<path d="M123.3,738.5L129.6,736.5L123.5,740.5L117.2,742.5Z" fill="#44e70b"/>
<path d="M148.4,728.7L154.8,727.9L148.5,730.7L142.2,731.6Z" fill="#cfe609"/>
<path d="M161.1,725.5L167.5,725.2L161.1,727.4L154.8,727.9Z" fill="#e5cd07"/>
<path d="M186.5,722.6L192.9,723.3L186.5,724.3L180.2,723.7Z" fill="#e39f04"/>
<path d="M212.0,724.1L218.3,725.9L211.9,725.7L205.6,724.0Z" fill="#e0b202"/>
<path d="M224.7,726.6L230.9,728.9L224.6,728.0L218.3,725.9Z" fill="#ded401"/>
<path d="M249.7,735.0L255.9,738.2L249.6,736.1L243.4,733.0Z" fill="#70db00"/>
<path d="M135.8,733.1L142.2,731.6L135.9,735.0L129.6,736.5Z" fill="#92e70a"/>
<path d="M173.8,723.5L180.2,723.7L173.8,725.3L167.5,725.2Z" fill="#e4ae06"/>
<path d="M199.3,722.8L205.6,724.0L199.2,724.4L192.9,723.3Z" fill="#e1a003"/>
<path d="M237.2,730.2L243.4,733.0L237.1,731.5L230.9,728.9Z" fill="#b4dd00"/>
<path d="M117.0,740.9L123.3,738.5L117.2,742.5L110.9,745.0Z" fill="#3ae90e"/>
<path d="M129.5,734.9L135.8,733.1L129.6,736.5L123.3,738.5Z" fill="#8fe80d"/>
<path d="M142.1,730.1L148.4,728.7L142.2,731.6L135.8,733.1Z" fill="#d4e70c"/>
<path d="M154.7,726.3L161.1,725.5L154.8,727.9L148.4,728.7Z" fill="#e7c50a"/>
<path d="M167.4,723.7L173.8,723.5L167.5,725.2L161.1,725.5Z" fill="#e69e08"/>
<path d="M180.2,722.3L186.5,722.6L180.2,723.7L173.8,723.5Z" fill="#e48706"/>
<path d="M192.9,722.0L199.3,722.8L192.9,723.3L186.5,722.6Z" fill="#e38105"/>
<path d="M205.7,722.8L212.0,724.1L205.6,724.0L199.3,722.8Z" fill="#e28b03"/>
<path d="M218.4,724.8L224.7,726.6L218.3,725.9L212.0,724.1Z" fill="#e0a502"/>
<path d="M231.0,727.9L237.2,730.2L230.9,728.9L224.7,726.6Z" fill="#ded001"/>
<path d="M243.6,732.1L249.7,735.0L243.4,733.0L237.2,730.2Z" fill="#b0dd00"/>
<path d="M256.0,737.5L262.1,740.8L255.9,738.2L249.7,735.0Z" fill="#63dc00"/>
<path d="M173.8,722.5L180.2,722.3L173.8,723.5L167.4,723.7Z" fill="#e67709"/>
<path d="M199.3,721.9L205.7,722.8L199.3,722.8L192.9,722.0Z" fill="#e36b05"/>
<path d="M110.8,743.9L117.0,740.9L110.9,745.0L104.7,748.0Z" fill="#2bea11"/>
<path d="M123.2,737.3L129.5,734.9L123.3,738.5L117.0,740.9Z" fill="#86e910"/>
<path d="M135.7,731.9L142.1,730.1L135.8,733.1L129.5,734.9Z" fill="#d2e90f"/>
<path d="M148.3,727.6L154.7,726.3L148.4,728.7L142.1,730.1Z" fill="#e8c30d"/>
<path d="M161.0,724.5L167.4,723.7L161.1,725.5L154.7,726.3Z" fill="#e7950b"/>
<path d="M186.5,721.6L192.9,722.0L186.5,722.6L180.2,722.3Z" fill="#e56907"/>
<path d="M212.0,723.4L218.4,724.8L212.0,724.1L205.7,722.8Z" fill="#e27d03"/>
<path d="M224.7,726.0L231.0,727.9L224.7,726.6L218.4,724.8Z" fill="#e0a002"/>
<path d="M237.3,729.7L243.6,732.1L237.2,730.2L231.0,727.9Z" fill="#dfd401"/>
<path d="M249.9,734.6L256.0,737.5L249.7,735.0L243.6,732.1Z" fill="#a4dd01"/>
<path d="M262.3,740.6L268.3,744.0L262.1,740.8L256.0,737.5Z" fill="#4edc00"/>
<path d="M104.5,747.3L110.8,743.9L104.7,748.0L98.5,751.5Z" fill="#15eb15"/>
<path d="M116.9,740.2L123.2,737.3L117.0,740.9L110.8,743.9Z" fill="#77eb14"/>
<path d="M129.4,734.2L135.7,731.9L129.5,734.9L123.2,737.3Z" fill="#c9ea13"/>
<path d="M142.0,729.3L148.3,727.6L142.1,730.1L135.7,731.9Z" fill="#eac711"/>
<path d="M154.7,725.7L161.0,724.5L154.7,726.3L148.3,727.6Z" fill="#e9930f"/>
<path d="M167.4,723.1L173.8,722.5L167.4,723.7L161.0,724.5Z" fill="#e86d0d"/>
<path d="M180.2,721.7L186.5,721.6L180.2,722.3L173.8,722.5Z" fill="#e7570a"/>
<path d="M192.9,721.5L199.3,721.9L192.9,722.0L186.5,721.6Z" fill="#e55208"/>
<path d="M205.7,722.4L212.0,723.4L205.7,722.8L199.3,721.9Z" fill="#e45c06"/>
<path d="M218.4,724.5L224.7,726.0L218.4,724.8L212.0,723.4Z" fill="#e27704"/>
<path d="M231.1,727.8L237.3,729.7L231.0,727.9L224.7,726.0Z" fill="#e1a302"/>
<path d="M243.7,732.2L249.9,734.6L243.6,732.1L237.3,729.7Z" fill="#dfdf01"/>
<path d="M256.1,737.7L262.3,740.6L256.0,737.5L249.9,734.6Z" fill="#90dd01"/>
<path d="M268.4,744.3L274.5,747.8L268.3,744.0L262.3,740.6Z" fill="#31dc00"/>
<path d="M98.3,751.2L104.5,747.3L98.5,751.5L92.3,755.5Z" fill="#18ec36"/>
<path d="M110.6,743.5L116.9,740.2L110.8,743.9L104.5,747.3Z" fill="#62ec17"/>
<path d="M123.1,737.0L129.4,734.2L123.2,737.3L116.9,740.2Z" fill="#bbec16"/>
<path d="M135.6,731.6L142.0,729.3L135.7,731.9L129.4,734.2Z" fill="#ebd215"/>
<path d="M161.0,724.2L167.4,723.1L161.0,724.5L154.7,725.7Z" fill="#ea6b11"/>
<path d="M173.8,722.3L180.2,721.7L173.8,722.5L167.4,723.1Z" fill="#e94d0e"/>
<path d="M186.6,721.5L192.9,721.5L186.5,721.6L180.2,721.7Z" fill="#e7400b"/>
<path d="M199.3,721.9L205.7,722.4L199.3,721.9L192.9,721.5Z" fill="#e64209"/>
<path d="M212.1,723.5L218.4,724.5L212.0,723.4L205.7,722.4Z" fill="#e45506"/>
<path d="M237.4,730.1L243.7,732.2L237.3,729.7L231.1,727.8Z" fill="#e1ae02"/>
<path d="M249.9,735.1L256.1,737.7L249.9,734.6L243.7,732.2Z" fill="#ccdf01"/>
<path d="M262.3,741.3L268.4,744.3L262.3,740.6L256.1,737.7Z" fill="#74de01"/>
<path d="M274.6,748.6L280.6,752.1L274.5,747.8L268.4,744.3Z" fill="#0ddc00"/>
<path d="M148.3,727.3L154.7,725.7L148.3,727.6L142.0,729.3Z" fill="#eb9713"/>
<path d="M224.8,726.2L231.1,727.8L224.7,726.0L218.4,724.5Z" fill="#e27904"/>
<path d="M92.1,755.6L98.3,751.2L92.3,755.5L86.1,759.9Z" fill="#1bed5d"/>
<path d="M116.8,740.2L123.1,737.0L116.9,740.2L110.6,743.5Z" fill="#a7ed1a"/>
<path d="M129.3,734.3L135.6,731.6L129.4,734.2L123.1,737.0Z" fill="#ede319"/>
<path d="M154.6,725.8L161.0,724.2L154.7,725.7L148.3,727.3Z" fill="#eb6f15"/>
<path d="M180.2,722.0L186.6,721.5L180.2,721.7L173.8,722.3Z" fill="#e93510"/>
<path d="M192.9,721.9L199.3,721.9L192.9,721.5L186.6,721.5Z" fill="#e8300c"/>
<path d="M218.5,725.1L224.8,726.2L218.4,724.5L212.1,723.5Z" fill="#e45606"/>
<path d="M243.7,733.0L249.9,735.1L243.7,732.2L237.4,730.1Z" fill="#e1c003"/>
<path d="M256.2,738.7L262.3,741.3L256.1,737.7L249.9,735.1Z" fill="#b1df01"/>
<path d="M280.7,753.5L286.7,757.0L280.6,752.1L274.6,748.6Z" fill="#00dc20"/>
<path d="M104.4,747.3L110.6,743.5L104.5,747.3L98.3,751.2Z" fill="#48ed1b"/>
<path d="M141.9,729.5L148.3,727.3L142.0,729.3L135.6,731.6Z" fill="#eca118"/>
<path d="M167.4,723.3L173.8,722.3L167.4,723.1L161.0,724.2Z" fill="#ea4a13"/>
<path d="M205.7,722.9L212.1,723.5L205.7,722.4L199.3,721.9Z" fill="#e63b09"/>
<path d="M231.1,728.5L237.4,730.1L231.1,727.8L224.8,726.2Z" fill="#e38304"/>
<path d="M268.5,745.5L274.6,748.6L268.4,744.3L262.3,741.3Z" fill="#50de01"/>
<path d="M86.0,760.5L92.1,755.6L86.1,759.9L80.0,764.9Z" fill="#1fee8a"/>
<path d="M98.2,751.7L104.4,747.3L98.3,751.2L92.1,755.6Z" fill="#28ee1f"/>
<path d="M110.5,744.0L116.8,740.2L110.6,743.5L104.4,747.3Z" fill="#8dee1f"/>
<path d="M123.0,737.5L129.3,734.3L123.1,737.0L116.8,740.2Z" fill="#e3ee1e"/>
<path d="M135.6,732.1L141.9,729.5L135.6,731.6L129.3,734.3Z" fill="#eeb21c"/>
<path d="M148.3,727.9L154.6,725.8L148.3,727.3L141.9,729.5Z" fill="#ed791a"/>
<path d="M161.0,724.8L167.4,723.3L161.0,724.2L154.6,725.8Z" fill="#ec4e18"/>
<path d="M173.8,723.0L180.2,722.0L173.8,722.3L167.4,723.3Z" fill="#eb3214"/>
<path d="M186.6,722.3L192.9,721.9L186.6,721.5L180.2,722.0Z" fill="#ea2511"/>
<path d="M199.3,722.8L205.7,722.9L199.3,721.9L192.9,721.9Z" fill="#e8280d"/>
<path d="M212.1,724.5L218.5,725.1L212.1,723.5L205.7,722.9Z" fill="#e63b0a"/>
<path d="M224.8,727.3L231.1,728.5L224.8,726.2L218.5,725.1Z" fill="#e55f07"/>
<path d="M237.5,731.4L243.7,733.0L237.4,730.1L231.1,728.5Z" fill="#e39404"/>
<path d="M250.0,736.5L256.2,738.7L249.9,735.1L243.7,733.0Z" fill="#e1da03"/>
<path d="M262.4,742.9L268.5,745.5L262.3,741.3L256.2,738.7Z" fill="#8edf02"/>
<path d="M274.7,750.4L280.7,753.5L274.6,748.6L268.5,745.5Z" fill="#25de01"/>
<path d="M286.7,759.0L292.7,762.6L286.7,757.0L280.7,753.5Z" fill="#00dc54"/>
<path d="M79.9,765.9L86.0,760.5L80.0,764.9L74.0,770.4Z" fill="#22efbb"/>
<path d="M92.0,756.5L98.2,751.7L92.1,755.6L86.0,760.5Z" fill="#23ef42"/>
<path d="M104.3,748.3L110.5,744.0L104.4,747.3L98.2,751.7Z" fill="#6eef23"/>
<path d="M116.7,741.2L123.0,737.5L116.8,740.2L110.5,744.0Z" fill="#c9ef22"/>
<path d="M129.3,735.2L135.6,732.1L129.3,734.3L123.0,737.5Z" fill="#efc821"/>
<path d="M141.9,730.4L148.3,727.9L141.9,729.5L135.6,732.1Z" fill="#ee8920"/>
<path d="M154.6,726.8L161.0,724.8L154.6,725.8L148.3,727.9Z" fill="#ee591d"/>
<path d="M167.4,724.4L173.8,723.0L167.4,723.3L161.0,724.8Z" fill="#ed361a"/>
<path d="M180.2,723.2L186.6,722.3L180.2,722.0L173.8,723.0Z" fill="#ec2116"/>
<path d="M193.0,723.1L199.3,722.8L192.9,721.9L186.6,722.3Z" fill="#ea1c12"/>
<path d="M205.7,724.3L212.1,724.5L205.7,722.9L199.3,722.8Z" fill="#e8270e"/>
<path d="M218.5,726.6L224.8,727.3L218.5,725.1L212.1,724.5Z" fill="#e7420a"/>
<path d="M231.2,730.1L237.5,731.4L231.1,728.5L224.8,727.3Z" fill="#e56f07"/>
<path d="M243.7,734.8L250.0,736.5L243.7,733.0L237.5,731.4Z" fill="#e3ad05"/>
<path d="M256.2,740.6L262.4,742.9L256.2,738.7L250.0,736.5Z" fill="#c6e103"/>
<path d="M268.6,747.7L274.7,750.4L268.5,745.5L262.4,742.9Z" fill="#64df02"/>
<path d="M280.7,755.8L286.7,759.0L280.7,753.5L274.7,750.4Z" fill="#01de10"/>
<path d="M292.7,765.1L298.6,768.7L292.7,762.6L286.7,759.0Z" fill="#00dd90"/>
<path d="M73.9,771.8L79.9,765.9L74.0,770.4L68.0,776.4Z" fill="#25eef0"/>
<path d="M85.9,761.9L92.0,756.5L86.0,760.5L79.9,765.9Z" fill="#26f073"/>
<path d="M98.1,753.0L104.3,748.3L98.2,751.7L92.0,756.5Z" fill="#4af027"/>
<path d="M110.5,745.4L116.7,741.2L110.5,744.0L104.3,748.3Z" fill="#abf027"/>
<path d="M123.0,738.9L129.3,735.2L123.0,737.5L116.7,741.2Z" fill="#f0e326"/>
<path d="M135.6,733.5L141.9,730.4L135.6,732.1L129.3,735.2Z" fill="#f09f25"/>
<path d="M148.2,729.3L154.6,726.8L148.3,727.9L141.9,730.4Z" fill="#ef6923"/>
<path d="M161.0,726.4L167.4,724.4L161.0,724.8L154.6,726.8Z" fill="#ef4020"/>
<path d="M173.8,724.6L180.2,723.2L173.8,723.0L167.4,724.4Z" fill="#ed251c"/>
<path d="M186.6,724.0L193.0,723.1L186.6,722.3L180.2,723.2Z" fill="#ec1817"/>
<path d="M199.3,724.6L205.7,724.3L199.3,722.8L193.0,723.1Z" fill="#ea1a13"/>
<path d="M212.1,726.3L218.5,726.6L212.1,724.5L205.7,724.3Z" fill="#e92d0e"/>
<path d="M224.8,729.3L231.2,730.1L224.8,727.3L218.5,726.6Z" fill="#e7520a"/>
<path d="M237.5,733.5L243.7,734.8L237.5,731.4L231.2,730.1Z" fill="#e58707"/>
<path d="M250.0,738.8L256.2,740.6L250.0,736.5L243.7,734.8Z" fill="#e3ce05"/>
<path d="M262.4,745.4L268.6,747.7L262.4,742.9L256.2,740.6Z" fill="#9de103"/>
<path d="M274.7,753.0L280.7,755.8L274.7,750.4L268.6,747.7Z" fill="#32e002"/>
<path d="M286.7,761.8L292.7,765.1L286.7,759.0L280.7,755.8Z" fill="#01de4b"/>
<path d="M298.6,771.8L304.5,775.5L298.6,768.7L292.7,765.1Z" fill="#00ddd3"/>
<path d="M154.6,728.8L161.0,726.4L154.6,726.8L148.2,729.3Z" fill="#f05026"/>
<path d="M218.5,729.0L224.8,729.3L218.5,726.6L212.1,726.3Z" fill="#e93c0f"/>
<path d="M67.9,778.3L73.9,771.8L68.0,776.4L62.0,782.9Z" fill="#28b5f1"/>
<path d="M79.9,767.7L85.9,761.9L79.9,765.9L73.9,771.8Z" fill="#2af1a8"/>
<path d="M92.0,758.4L98.1,753.0L92.0,756.5L85.9,761.9Z" fill="#2bf134"/>
<path d="M104.3,750.1L110.5,745.4L104.3,748.3L98.1,753.0Z" fill="#88f12b"/>
<path d="M129.2,737.1L135.6,733.5L129.3,735.2L123.0,738.9Z" fill="#f1ba2b"/>
<path d="M141.9,732.3L148.2,729.3L141.9,730.4L135.6,733.5Z" fill="#f17f29"/>
<path d="M167.4,726.4L173.8,724.6L167.4,724.4L161.0,726.4Z" fill="#ef2f23"/>
<path d="M205.7,726.6L212.1,726.3L205.7,724.3L199.3,724.6Z" fill="#eb2013"/>
<path d="M231.2,732.7L237.5,733.5L231.2,730.1L224.8,729.3Z" fill="#e7690a"/>
<path d="M243.8,737.5L250.0,738.8L243.7,734.8L237.5,733.5Z" fill="#e5a707"/>
<path d="M268.6,750.7L274.7,753.0L268.6,747.7L262.4,745.4Z" fill="#6be103"/>
<path d="M280.7,759.0L286.7,761.8L280.7,755.8L274.7,753.0Z" fill="#02e00c"/>
<path d="M292.7,768.5L298.6,771.8L292.7,765.1L286.7,761.8Z" fill="#01de8d"/>
<path d="M304.4,779.1L310.2,782.8L304.5,775.5L298.6,771.8Z" fill="#009bdd"/>
<path d="M116.7,743.0L123.0,738.9L116.7,741.2L110.5,745.4Z" fill="#dff12b"/>
<path d="M180.1,725.3L186.6,724.0L180.2,723.2L173.8,724.6Z" fill="#ee1e1e"/>
<path d="M193.0,725.3L199.3,724.6L193.0,723.1L186.6,724.0Z" fill="#ec1919"/>
<path d="M256.2,743.5L262.4,745.4L256.2,740.6L250.0,738.8Z" fill="#cfe305"/>
<path d="M85.9,764.2L92.0,758.4L85.9,761.9L79.9,767.7Z" fill="#2ff269"/>
<path d="M122.9,741.2L129.2,737.1L123.0,738.9L116.7,743.0Z" fill="#f2da30"/>
<path d="M148.2,731.7L154.6,728.8L148.2,729.3L141.9,732.3Z" fill="#f2662d"/>
<path d="M161.0,728.8L167.4,726.4L161.0,726.4L154.6,728.8Z" fill="#f13f29"/>
<path d="M212.1,729.2L218.5,729.0L212.1,726.3L205.7,726.6Z" fill="#eb2d14"/>
<path d="M224.8,732.3L231.2,732.7L224.8,729.3L218.5,729.0Z" fill="#e9510f"/>
<path d="M250.0,742.1L256.2,743.5L250.0,738.8L243.8,737.5Z" fill="#e5cf07"/>
<path d="M286.7,765.6L292.7,768.5L286.7,761.8L280.7,759.0Z" fill="#02e04e"/>
<path d="M73.8,774.2L79.9,767.7L73.9,771.8L67.9,778.3Z" fill="#2df2e2"/>
<path d="M98.1,755.3L104.3,750.1L98.1,753.0L92.0,758.4Z" fill="#60f230"/>
<path d="M110.5,747.7L116.7,743.0L110.5,745.4L104.3,750.1Z" fill="#bdf230"/>
<path d="M135.5,735.8L141.9,732.3L135.6,733.5L129.2,737.1Z" fill="#f2992f"/>
<path d="M173.7,727.1L180.1,725.3L173.8,724.6L167.4,726.4Z" fill="#f02525"/>
<path d="M186.5,726.6L193.0,725.3L186.6,724.0L180.1,725.3Z" fill="#ee1f1f"/>
<path d="M199.3,727.2L205.7,726.6L199.3,724.6L193.0,725.3Z" fill="#ed1b19"/>
<path d="M237.5,736.6L243.8,737.5L237.5,733.5L231.2,732.7Z" fill="#e7870a"/>
<path d="M262.4,748.8L268.6,750.7L262.4,745.4L256.2,743.5Z" fill="#9fe305"/>
<path d="M274.6,756.6L280.7,759.0L274.7,753.0L268.6,750.7Z" fill="#32e103"/>
<path d="M298.6,775.8L304.4,779.1L298.6,771.8L292.7,768.5Z" fill="#01ded8"/>
<path d="M79.8,770.5L85.9,764.2L79.9,767.7L73.8,774.2Z" fill="#32f3a2"/>
<path d="M92.0,761.1L98.1,755.3L92.0,758.4L85.9,764.2Z" fill="#34f334"/>
<path d="M116.7,745.8L122.9,741.2L116.7,743.0L110.5,747.7Z" fill="#e9f335"/>
<path d="M129.2,739.9L135.5,735.8L129.2,737.1L122.9,741.2Z" fill="#f3b835"/>
<path d="M141.9,735.2L148.2,731.7L141.9,732.3L135.5,735.8Z" fill="#f38033"/>
<path d="M154.6,731.7L161.0,728.8L154.6,728.8L148.2,731.7Z" fill="#f25431"/>
<path d="M167.4,729.4L173.7,727.1L167.4,726.4L161.0,728.8Z" fill="#f1352c"/>
<path d="M180.1,728.3L186.5,726.6L180.1,725.3L173.7,727.1Z" fill="#f02727"/>
<path d="M192.9,728.4L199.3,727.2L193.0,725.3L186.5,726.6Z" fill="#ef2020"/>
<path d="M205.7,729.8L212.1,729.2L205.7,726.6L199.3,727.2Z" fill="#ed261a"/>
<path d="M218.5,732.4L224.8,732.3L218.5,729.0L212.1,729.2Z" fill="#eb4214"/>
<path d="M231.1,736.1L237.5,736.6L231.2,732.7L224.8,732.3Z" fill="#e96e0e"/>
<path d="M243.7,741.1L250.0,742.1L243.8,737.5L237.5,736.6Z" fill="#e7ad0a"/>
<path d="M256.2,747.3L262.4,748.8L256.2,743.5L250.0,742.1Z" fill="#cce507"/>
<path d="M280.7,763.2L286.7,765.6L280.7,759.0L274.6,756.6Z" fill="#03e115"/>
<path d="M292.6,772.9L298.6,775.8L292.7,768.5L286.7,765.6Z" fill="#02e097"/>
<path d="M104.3,752.9L110.5,747.7L104.3,750.1L98.1,755.3Z" fill="#96f335"/>
<path d="M268.5,754.7L274.6,756.6L268.6,750.7L262.4,748.8Z" fill="#66e305"/>
<path d="M85.9,767.4L92.0,761.1L85.9,764.2L79.8,770.5Z" fill="#38f46b"/>
<path d="M98.1,758.6L104.3,752.9L98.1,755.3L92.0,761.1Z" fill="#6bf439"/>
<path d="M110.5,750.9L116.7,745.8L110.5,747.7L104.3,752.9Z" fill="#c4f43a"/>
<path d="M123.0,744.4L129.2,739.9L122.9,741.2L116.7,745.8Z" fill="#f4db3b"/>
<path d="M135.5,739.1L141.9,735.2L135.5,735.8L129.2,739.9Z" fill="#f49f3a"/>
<path d="M148.2,735.0L154.6,731.7L148.2,731.7L141.9,735.2Z" fill="#f46f38"/>
<path d="M161.0,732.2L167.4,729.4L161.0,728.8L154.6,731.7Z" fill="#f34a34"/>
<path d="M173.7,730.5L180.1,728.3L173.7,727.1L167.4,729.4Z" fill="#f2312e"/>
<path d="M186.5,730.1L192.9,728.4L186.5,726.6L180.1,728.3Z" fill="#f02828"/>
<path d="M199.3,730.9L205.7,729.8L199.3,727.2L192.9,728.4Z" fill="#ef2721"/>
<path d="M212.1,732.9L218.5,732.4L212.1,729.2L205.7,729.8Z" fill="#ed391a"/>
<path d="M224.8,736.2L231.1,736.1L224.8,732.3L218.5,732.4Z" fill="#eb5d14"/>
<path d="M237.4,740.6L243.7,741.1L237.5,736.6L231.1,736.1Z" fill="#e9930e"/>
<path d="M249.9,746.3L256.2,747.3L250.0,742.1L243.7,741.1Z" fill="#e7db0a"/>
<path d="M262.3,753.2L268.5,754.7L262.4,748.8L256.2,747.3Z" fill="#95e507"/>
<path d="M274.6,761.2L280.7,763.2L274.6,756.6L268.5,754.7Z" fill="#26e304"/>
<path d="M286.6,770.4L292.6,772.9L286.7,765.6L280.7,763.2Z" fill="#03e15d"/>
<path d="M104.3,756.6L110.5,750.9L104.3,752.9L98.1,758.6Z" fill="#9af53f"/>
<path d="M129.2,743.6L135.5,739.1L129.2,739.9L123.0,744.4Z" fill="#f5c140"/>
<path d="M243.7,745.7L249.9,746.3L243.7,741.1L237.4,740.6Z" fill="#e8bf0e"/>
<path d="M268.4,759.6L274.6,761.2L268.5,754.7L262.3,753.2Z" fill="#56e507"/>
<path d="M92.0,764.9L98.1,758.6L92.0,761.1L85.9,767.4Z" fill="#3df53e"/>
<path d="M116.7,749.5L123.0,744.4L116.7,745.8L110.5,750.9Z" fill="#e9f540"/>
<path d="M141.9,739.0L148.2,735.0L141.9,735.2L135.5,739.1Z" fill="#f58d3e"/>
<path d="M154.6,735.5L161.0,732.2L154.6,731.7L148.2,735.0Z" fill="#f4643b"/>
<path d="M167.4,733.3L173.7,730.5L167.4,729.4L161.0,732.2Z" fill="#f34636"/>
<path d="M180.1,732.3L186.5,730.1L180.1,728.3L173.7,730.5Z" fill="#f23430"/>
<path d="M192.9,732.5L199.3,730.9L192.9,728.4L186.5,730.1Z" fill="#f12f28"/>
<path d="M205.7,734.0L212.1,732.9L205.7,729.8L199.3,730.9Z" fill="#ef3921"/>
<path d="M218.4,736.7L224.8,736.2L218.5,732.4L212.1,732.9Z" fill="#ed5319"/>
<path d="M231.1,740.6L237.4,740.6L231.1,736.1L224.8,736.2Z" fill="#eb8013"/>
<path d="M256.1,752.1L262.3,753.2L256.2,747.3L249.9,746.3Z" fill="#bce60a"/>
<path d="M280.6,768.4L286.6,770.4L280.7,763.2L274.6,761.2Z" fill="#04e32a"/>
<path d="M98.1,762.8L104.3,756.6L98.1,758.6L92.0,764.9Z" fill="#6df643"/>
<path d="M110.5,755.1L116.7,749.5L110.5,750.9L104.3,756.6Z" fill="#c0f645"/>
<path d="M123.0,748.7L129.2,743.6L123.0,744.4L116.7,749.5Z" fill="#f6e746"/>
<path d="M135.6,743.4L141.9,739.0L135.5,739.1L129.2,743.6Z" fill="#f6ae45"/>
<path d="M173.7,735.0L180.1,732.3L173.7,730.5L167.4,733.3Z" fill="#f44838"/>
<path d="M186.5,734.6L192.9,732.5L186.5,730.1L180.1,732.3Z" fill="#f23d31"/>
<path d="M199.3,735.5L205.7,734.0L199.3,730.9L192.9,732.5Z" fill="#f13f28"/>
<path d="M237.4,745.7L243.7,745.7L237.4,740.6L231.1,740.6Z" fill="#eaab13"/>
<path d="M249.9,751.5L256.1,752.1L249.9,746.3L243.7,745.7Z" fill="#dde80d"/>
<path d="M262.2,758.5L268.4,759.6L262.3,753.2L256.1,752.1Z" fill="#7fe609"/>
<path d="M274.5,766.8L280.6,768.4L274.6,761.2L268.4,759.6Z" fill="#0fe406"/>
<path d="M148.2,739.4L154.6,735.5L148.2,735.0L141.9,739.0Z" fill="#f68143"/>
<path d="M161.0,736.5L167.4,733.3L161.0,732.2L154.6,735.5Z" fill="#f55f3e"/>
<path d="M212.1,737.7L218.4,736.7L212.1,732.9L205.7,734.0Z" fill="#ef5120"/>
<path d="M224.7,741.1L231.1,740.6L224.8,736.2L218.4,736.7Z" fill="#ec7519"/>
<path d="M116.8,754.2L123.0,748.7L116.7,749.5L110.5,755.1Z" fill="#dff74b"/>
<path d="M180.1,737.3L186.5,734.6L180.1,732.3L173.7,735.0Z" fill="#f45039"/>
<path d="M192.9,737.6L199.3,735.5L192.9,732.5L186.5,734.6Z" fill="#f24b31"/>
<path d="M256.0,757.9L262.2,758.5L256.1,752.1L249.9,751.5Z" fill="#a1e80d"/>
<path d="M104.3,761.3L110.5,755.1L104.3,756.6L98.1,762.8Z" fill="#95f74a"/>
<path d="M129.3,748.4L135.6,743.4L129.2,743.6L123.0,748.7Z" fill="#f7d34b"/>
<path d="M141.9,743.7L148.2,739.4L141.9,739.0L135.6,743.4Z" fill="#f7a24a"/>
<path d="M154.6,740.4L161.0,736.5L154.6,735.5L148.2,739.4Z" fill="#f67c46"/>
<path d="M167.4,738.2L173.7,735.0L167.4,733.3L161.0,736.5Z" fill="#f56141"/>
<path d="M205.7,739.2L212.1,737.7L205.7,734.0L199.3,735.5Z" fill="#f05628"/>
<path d="M218.4,742.0L224.7,741.1L218.4,736.7L212.1,737.7Z" fill="#ee7020"/>
<path d="M231.0,746.1L237.4,745.7L231.1,740.6L224.7,741.1Z" fill="#ec9d18"/>
<path d="M243.6,751.4L249.9,751.5L243.7,745.7L237.4,745.7Z" fill="#eadd12"/>
<path d="M268.3,765.7L274.5,766.8L268.4,759.6L262.2,758.5Z" fill="#39e609"/>
<path d="M110.6,760.4L116.8,754.2L110.5,755.1L104.3,761.3Z" fill="#b5f850"/>
<path d="M123.0,753.9L129.3,748.4L123.0,748.7L116.8,754.2Z" fill="#f5f851"/>
<path d="M148.3,744.7L154.6,740.4L148.2,739.4L141.9,743.7Z" fill="#f79c4e"/>
<path d="M161.0,741.9L167.4,738.2L161.0,736.5L154.6,740.4Z" fill="#f77d49"/>
<path d="M173.7,740.5L180.1,737.3L173.7,735.0L167.4,738.2Z" fill="#f56742"/>
<path d="M186.5,740.2L192.9,737.6L186.5,734.6L180.1,737.3Z" fill="#f45d39"/>
<path d="M199.3,741.2L205.7,739.2L199.3,735.5L192.9,737.6Z" fill="#f26030"/>
<path d="M212.0,743.5L218.4,742.0L212.1,737.7L205.7,739.2Z" fill="#f07327"/>
<path d="M224.7,747.0L231.0,746.1L224.7,741.1L218.4,742.0Z" fill="#ee971e"/>
<path d="M249.8,757.8L256.0,757.9L249.9,751.5L243.6,751.4Z" fill="#bcea11"/>
<path d="M262.1,765.0L268.3,765.7L262.2,758.5L256.0,757.9Z" fill="#5de80c"/>
<path d="M135.6,748.7L141.9,743.7L135.6,743.4L129.3,748.4Z" fill="#f8c650"/>
<path d="M237.3,751.8L243.6,751.4L237.4,745.7L231.0,746.1Z" fill="#ecce17"/>
<path d="M116.8,760.0L123.0,753.9L116.8,754.2L110.6,760.4Z" fill="#cdf956"/>
<path d="M129.4,754.2L135.6,748.7L129.3,748.4L123.0,753.9Z" fill="#f9ec56"/>
<path d="M142.0,749.6L148.3,744.7L141.9,743.7L135.6,748.7Z" fill="#f8bf54"/>
<path d="M154.6,746.2L161.0,741.9L154.6,740.4L148.3,744.7Z" fill="#f89c51"/>
<path d="M167.4,744.2L173.7,740.5L167.4,738.2L161.0,741.9Z" fill="#f7834a"/>
<path d="M180.1,743.3L186.5,740.2L180.1,737.3L173.7,740.5Z" fill="#f67442"/>
<path d="M192.9,743.8L199.3,741.2L192.9,737.6L186.5,740.2Z" fill="#f47139"/>
<path d="M205.6,745.5L212.0,743.5L205.7,739.2L199.3,741.2Z" fill="#f27c2f"/>
<path d="M218.3,748.4L224.7,747.0L218.4,742.0L212.0,743.5Z" fill="#f09826"/>
<path d="M230.9,752.6L237.3,751.8L231.0,746.1L224.7,747.0Z" fill="#eec51d"/>
<path d="M243.5,758.1L249.8,757.8L243.6,751.4L237.3,751.8Z" fill="#d1ec16"/>
<path d="M255.9,764.8L262.1,765.0L256.0,757.9L249.8,757.8Z" fill="#7ae910"/>
<path d="M123.1,760.2L129.4,754.2L123.0,753.9L116.8,760.0Z" fill="#def95b"/>
<path d="M135.7,755.0L142.0,749.6L135.6,748.7L129.4,754.2Z" fill="#f9e45b"/>
<path d="M148.3,751.1L154.6,746.2L148.3,744.7L142.0,749.6Z" fill="#f9be58"/>
<path d="M161.0,748.4L167.4,744.2L161.0,741.9L154.6,746.2Z" fill="#f8a153"/>
<path d="M173.8,747.0L180.1,743.3L173.7,740.5L167.4,744.2Z" fill="#f78e4b"/>
<path d="M186.5,746.8L192.9,743.8L186.5,740.2L180.1,743.3Z" fill="#f58642"/>
<path d="M199.2,748.0L205.6,745.5L199.3,741.2L192.9,743.8Z" fill="#f48a38"/>
<path d="M211.9,750.4L218.3,748.4L212.0,743.5L205.6,745.5Z" fill="#f29e2d"/>
<path d="M224.6,754.0L230.9,752.6L224.7,747.0L218.3,748.4Z" fill="#f0c424"/>
<path d="M237.2,758.9L243.5,758.1L237.3,751.8L230.9,752.6Z" fill="#dfed1c"/>
<path d="M249.6,765.1L255.9,764.8L249.8,757.8L243.5,758.1Z" fill="#90eb15"/>
<path d="M154.7,753.2L161.0,748.4L154.6,746.2L148.3,751.1Z" fill="#f9c25a"/>
<path d="M167.4,751.2L173.8,747.0L167.4,744.2L161.0,748.4Z" fill="#f8ab53"/>
<path d="M205.6,752.8L211.9,750.4L205.6,745.5L199.2,748.0Z" fill="#f3ab36"/>
<path d="M218.2,755.9L224.6,754.0L218.3,748.4L211.9,750.4Z" fill="#f1c82b"/>
<path d="M129.5,761.0L135.7,755.0L129.4,754.2L123.1,760.2Z" fill="#e9fa60"/>
<path d="M142.0,756.5L148.3,751.1L142.0,749.6L135.7,755.0Z" fill="#fae25e"/>
<path d="M180.1,750.5L186.5,746.8L180.1,743.3L173.8,747.0Z" fill="#f79f4b"/>
<path d="M192.9,751.0L199.2,748.0L192.9,743.8L186.5,746.8Z" fill="#f59e40"/>
<path d="M230.8,760.3L237.2,758.9L230.9,752.6L224.6,754.0Z" fill="#e7ef22"/>
<path d="M243.3,765.9L249.6,765.1L243.5,758.1L237.2,758.9Z" fill="#a1ed1a"/>
<path d="M135.8,762.5L142.0,756.5L135.7,755.0L129.5,761.0Z" fill="#eefa64"/>
<path d="M148.4,758.6L154.7,753.2L148.3,751.1L142.0,756.5Z" fill="#fae461"/>
<path d="M161.1,756.0L167.4,751.2L161.0,748.4L154.7,753.2Z" fill="#f9cb5b"/>
<path d="M173.8,754.6L180.1,750.5L173.8,747.0L167.4,751.2Z" fill="#f8ba53"/>
<path d="M186.5,754.6L192.9,751.0L186.5,746.8L180.1,750.5Z" fill="#f7b549"/>
<path d="M199.2,755.8L205.6,752.8L199.2,748.0L192.9,751.0Z" fill="#f5bc3e"/>
<path d="M211.9,758.4L218.2,755.9L211.9,750.4L205.6,752.8Z" fill="#f3d234"/>
<path d="M224.5,762.2L230.8,760.3L224.6,754.0L218.2,755.9Z" fill="#e8f129"/>
<path d="M237.0,767.2L243.3,765.9L237.2,758.9L230.8,760.3Z" fill="#aaef20"/>
<path d="M142.1,764.5L148.4,758.6L142.0,756.5L135.8,762.5Z" fill="#edfb67"/>
<path d="M154.8,761.3L161.1,756.0L154.7,753.2L148.4,758.6Z" fill="#faec63"/>
<path d="M180.1,758.7L186.5,754.6L180.1,750.5L173.8,754.6Z" fill="#f8cf52"/>
<path d="M192.8,759.4L199.2,755.8L192.9,751.0L186.5,754.6Z" fill="#f6d147"/>
<path d="M218.1,764.5L224.5,762.2L218.2,755.9L211.9,758.4Z" fill="#e4f231"/>
<path d="M230.7,769.1L237.0,767.2L230.8,760.3L224.5,762.2Z" fill="#aef027"/>
<path d="M167.4,759.4L173.8,754.6L167.4,751.2L161.1,756.0Z" fill="#f9d95b"/>
<path d="M205.5,761.3L211.9,758.4L205.6,752.8L199.2,755.8Z" fill="#f4e13c"/>
<path d="M148.5,767.2L154.8,761.3L148.4,758.6L142.1,764.5Z" fill="#e7fb69"/>
<path d="M173.8,763.4L180.1,758.7L173.8,754.6L167.4,759.4Z" fill="#f9ec5a"/>
<path d="M186.5,763.5L192.8,759.4L186.5,754.6L180.1,758.7Z" fill="#f8e950"/>
<path d="M199.2,764.8L205.5,761.3L199.2,755.8L192.8,759.4Z" fill="#f6f444"/>
<path d="M224.4,771.4L230.7,769.1L224.5,762.2L218.1,764.5Z" fill="#acf22e"/>
<path d="M161.1,764.7L167.4,759.4L161.1,756.0L154.8,761.3Z" fill="#faf963"/>
<path d="M211.8,767.5L218.1,764.5L211.9,758.4L205.5,761.3Z" fill="#dbf439"/>
<path d="M154.8,770.6L161.1,764.7L154.8,761.3L148.5,767.2Z" fill="#dcfb6a"/>
<path d="M167.5,768.7L173.8,763.4L167.4,759.4L161.1,764.7Z" fill="#eafa62"/>
<path d="M180.1,768.2L186.5,763.5L180.1,758.7L173.8,763.4Z" fill="#edf958"/>
<path d="M192.8,768.9L199.2,764.8L192.8,759.4L186.5,763.5Z" fill="#e4f74d"/>
<path d="M205.5,771.0L211.8,767.5L205.5,761.3L199.2,764.8Z" fill="#cdf541"/>
<path d="M218.0,774.3L224.4,771.4L218.1,764.5L211.8,767.5Z" fill="#a5f336"/>
<path d="M161.2,774.6L167.5,768.7L161.1,764.7L154.8,770.6Z" fill="#cbfb69"/>
<path d="M173.8,773.4L180.1,768.2L173.8,763.4L167.5,768.7Z" fill="#d2fa60"/>
<path d="M186.5,773.6L192.8,768.9L186.5,763.5L180.1,768.2Z" fill="#cdf855"/>
<path d="M199.1,775.0L205.5,771.0L199.2,764.8L192.8,768.9Z" fill="#bbf74a"/>
<path d="M211.7,777.8L218.0,774.3L211.8,767.5L205.5,771.0Z" fill="#9af53e"/>
<path d="M167.5,779.2L173.8,773.4L167.5,768.7L161.2,774.6Z" fill="#b4fb67"/>
<path d="M180.2,778.8L186.5,773.6L180.1,768.2L173.8,773.4Z" fill="#b3fa5d"/>
<path d="M192.8,779.7L199.1,775.0L192.8,768.9L186.5,773.6Z" fill="#a6f852"/>
<path d="M205.4,781.9L211.7,777.8L205.5,771.0L199.1,775.0Z" fill="#8af646"/>
<path d="M173.9,784.6L180.2,778.8L173.8,773.4L167.5,779.2Z" fill="#97fa65"/>
<path d="M186.5,784.9L192.8,779.7L186.5,773.6L180.2,778.8Z" fill="#8ef95a"/>
<path d="M199.1,786.5L205.4,781.9L199.1,775.0L192.8,779.7Z" fill="#77f74e"/>
<path d="M180.2,790.7L186.5,784.9L180.2,778.8L173.9,784.6Z" fill="#73fa61"/>
<path d="M192.8,791.7L199.1,786.5L192.8,779.7L186.5,784.9Z" fill="#61f856"/>
<path d="M186.5,797.5L192.8,791.7L186.5,784.9L180.2,790.7Z" fill="#5dfa73"/>
</g>
<circle cx="62.3" cy="784.85" r="2.6" fill="#f4c4c4" stroke="#a88" stroke-width="0.5"/>
<circle cx="311.7" cy="782.7" r="2.6" fill="#c00000" stroke="#700" stroke-width="0.5"/>
<circle cx="186.4" cy="797.7" r="2.6" fill="#c00000" stroke="#700" stroke-width="0.5"/>
<circle cx="186.6" cy="723.1" r="2.6" fill="#c00000" stroke="#700" stroke-width="0.5"/>
<radialGradient id="rgA" gradientUnits="userSpaceOnUse" cx="0" cy="0" r="1" gradientTransform="matrix(230.5796 18.9309 18.9309 179.3238 567.04 155.71)"><stop offset="0.000" stop-color="#ff0000"/><stop offset="0.025" stop-color="#ff0000"/><stop offset="0.050" stop-color="#ff0000"/><stop offset="0.075" stop-color="#ff0000"/><stop offset="0.100" stop-color="#ff0000"/><stop offset="0.125" stop-color="#ff0000"/><stop offset="0.150" stop-color="#ff0100"/><stop offset="0.175" stop-color="#ff0900"/><stop offset="0.200" stop-color="#ff1300"/><stop offset="0.225" stop-color="#ff1e00"/><stop offset="0.250" stop-color="#ff2b00"/><stop offset="0.275" stop-color="#ff3900"/><stop offset="0.300" stop-color="#ff4800"/><stop offset="0.325" stop-color="#ff5800"/><stop offset="0.350" stop-color="#ff6a00"/><stop offset="0.375" stop-color="#ff7d00"/><stop offset="0.400" stop-color="#ff9200"/><stop offset="0.425" stop-color="#ffa700"/><stop offset="0.450" stop-color="#ffbf00"/><stop offset="0.475" stop-color="#ffd700"/><stop offset="0.500" stop-color="#fff100"/><stop offset="0.525" stop-color="#f2ff00"/><stop offset="0.550" stop-color="#d6ff00"/><stop offset="0.575" stop-color="#b8ff00"/><stop offset="0.600" stop-color="#99ff00"/><stop offset="0.625" stop-color="#79ff00"/><stop offset="0.650" stop-color="#57ff00"/><stop offset="0.675" stop-color="#34ff00"/><stop offset="0.700" stop-color="#10ff00"/><stop offset="0.725" stop-color="#00ff15"/><stop offset="0.750" stop-color="#00ff3c"/><stop offset="0.775" stop-color="#00ff64"/><stop offset="0.800" stop-color="#00ff8e"/><stop offset="0.825" stop-color="#00ffb9"/><stop offset="0.850" stop-color="#00ffe5"/><stop offset="0.875" stop-color="#00ebff"/><stop offset="0.900" stop-color="#00bdff"/><stop offset="0.925" stop-color="#008dff"/><stop offset="0.950" stop-color="#005bff"/><stop offset="0.975" stop-color="#0028ff"/><stop offset="1.000" stop-color="#0000ff"/></radialGradient>
<clipPath id="ccA"><rect x="398.0" y="39.7" width="271.7" height="209.9"/></clipPath>
<rect x="398.0" y="39.7" width="271.7" height="209.9" fill="url(#rgA)"/>
<g clip-path="url(#ccA)" fill="none" stroke="#25290c" stroke-width="1.0">
<path d="M742.7,168.5L742.1,163.7L741.2,158.9L740.0,154.0L738.7,149.2L737.2,144.4L735.4,139.6L733.4,134.8L731.3,130.0L728.9,125.3L726.3,120.6L723.6,116.0L720.6,111.4L717.5,106.8L714.1,102.4L710.6,97.9L706.9,93.6L703.1,89.3L699.0,85.1L694.9,81.0L690.5,77.0L686.0,73.1L681.4,69.3L676.6,65.6L671.6,62.0L666.6,58.5L661.4,55.2L656.1,52.0L650.7,48.8L645.2,45.9L639.6,43.0L633.9,40.3L628.1,37.8L622.3,35.4L616.4,33.1L610.4,31.0L604.4,29.0L598.3,27.2L592.2,25.6L586.0,24.1L579.9,22.8L573.7,21.6L567.5,20.6L561.3,19.8L555.1,19.1L548.9,18.6L542.8,18.3L536.7,18.2L530.6,18.2L524.5,18.4L518.6,18.7L512.6,19.3L506.8,19.9L501.0,20.8L495.3,21.8L489.7,23.0L484.2,24.4L478.7,25.9L473.4,27.6L468.2,29.4L463.2,31.4L458.2,33.5L453.4,35.8L448.7,38.3L444.2,40.8L439.9,43.6L435.6,46.4L431.6,49.4L427.7,52.6L424.0,55.8L420.4,59.2L417.1,62.7L413.9,66.3L410.9,70.0L408.1,73.9L405.5,77.8L403.1,81.8L400.9,85.9L399.0,90.2L397.2,94.4L395.6,98.8L394.2,103.2L393.1,107.7L392.1,112.3L391.4,116.9L390.9,121.5L390.6,126.2L390.6,131.0L390.7,135.7L391.1,140.5L391.7,145.3L392.4,150.1L393.5,155.0L394.7,159.8L396.1,164.6L397.8,169.4L399.6,174.2L401.7,179.0L404.0,183.7L406.4,188.5L409.1,193.1L412.0,197.7L415.0,202.3L418.3,206.8L421.7,211.3L425.3,215.7L429.1,220.0L433.0,224.2L437.1,228.3L441.4,232.4L445.8,236.4L450.4,240.2L455.1,244.0L460.0,247.6L464.9,251.2L470.1,254.6L475.3,257.9L480.6,261.0L486.1,264.1L491.7,267.0L497.3,269.8L503.0,272.4L508.8,274.9L514.7,277.2L520.7,279.4L526.7,281.4L532.7,283.3L538.8,285.0L545.0,286.6L551.1,288.0L557.3,289.2L563.5,290.3L569.7,291.2L575.9,292.0L582.1,292.6L588.2,293.0L594.4,293.2L600.5,293.3L606.5,293.2L612.5,292.9L618.5,292.5L624.4,291.8L630.2,291.1L635.9,290.1L641.6,289.0L647.2,287.7L652.6,286.3L658.0,284.7L663.3,283.0L668.4,281.0L673.4,279.0L678.3,276.8L683.0,274.4L687.6,271.9L692.1,269.2L696.4,266.4L700.5,263.5L704.5,260.4L708.3,257.2L711.9,253.9L715.3,250.5L718.6,246.9L721.7,243.3L724.6,239.5L727.3,235.6L729.8,231.6L732.1,227.5L734.2,223.4L736.0,219.1L737.7,214.8L739.2,210.4L740.5,206.0L741.5,201.4L742.3,196.9L742.9,192.2L743.3,187.5L743.5,182.8L743.5,178.1L743.2,173.3L742.7,168.5Z"/>
<path d="M672.2,163.4L671.8,160.5L671.3,157.6L670.6,154.7L669.8,151.8L668.9,148.9L667.8,146.1L666.6,143.2L665.4,140.3L663.9,137.5L662.4,134.7L660.7,131.9L659.0,129.2L657.1,126.5L655.1,123.8L653.0,121.1L650.8,118.5L648.5,116.0L646.1,113.5L643.5,111.0L640.9,108.6L638.3,106.3L635.5,104.0L632.6,101.8L629.7,99.6L626.6,97.5L623.5,95.5L620.4,93.6L617.1,91.7L613.8,90.0L610.5,88.3L607.1,86.6L603.6,85.1L600.1,83.7L596.6,82.3L593.0,81.1L589.4,79.9L585.8,78.8L582.1,77.8L578.4,76.9L574.7,76.1L571.0,75.4L567.3,74.8L563.6,74.4L559.9,74.0L556.2,73.7L552.5,73.5L548.9,73.4L545.2,73.4L541.6,73.5L538.0,73.7L534.5,74.0L531.0,74.4L527.5,75.0L524.1,75.6L520.7,76.3L517.4,77.1L514.2,78.0L511.0,79.0L507.9,80.1L504.9,81.3L501.9,82.6L499.0,83.9L496.2,85.4L493.5,87.0L490.9,88.6L488.4,90.3L486.0,92.1L483.6,94.0L481.4,95.9L479.3,97.9L477.3,100.0L475.4,102.2L473.6,104.4L471.9,106.7L470.4,109.1L468.9,111.5L467.6,114.0L466.4,116.5L465.4,119.0L464.4,121.6L463.6,124.3L462.9,127.0L462.3,129.7L461.9,132.5L461.6,135.3L461.4,138.1L461.4,140.9L461.5,143.7L461.7,146.6L462.0,149.5L462.5,152.4L463.1,155.3L463.9,158.2L464.7,161.0L465.7,163.9L466.8,166.8L468.1,169.7L469.4,172.5L470.9,175.3L472.5,178.1L474.2,180.9L476.0,183.6L478.0,186.3L480.0,189.0L482.2,191.6L484.4,194.2L486.8,196.7L489.3,199.2L491.8,201.6L494.5,204.0L497.2,206.3L500.0,208.5L502.9,210.7L505.9,212.8L509.0,214.9L512.1,216.9L515.3,218.8L518.6,220.6L521.9,222.3L525.3,224.0L528.7,225.6L532.2,227.0L535.7,228.4L539.3,229.8L542.9,231.0L546.5,232.1L550.2,233.1L553.8,234.1L557.5,234.9L561.2,235.6L564.9,236.3L568.6,236.8L572.3,237.3L576.0,237.6L579.7,237.9L583.4,238.0L587.0,238.1L590.7,238.0L594.3,237.8L597.8,237.6L601.4,237.2L604.8,236.7L608.3,236.2L611.7,235.5L615.0,234.7L618.3,233.9L621.5,232.9L624.6,231.9L627.7,230.7L630.7,229.5L633.6,228.2L636.5,226.8L639.2,225.3L641.9,223.7L644.4,222.0L646.9,220.2L649.3,218.4L651.6,216.5L653.7,214.5L655.8,212.4L657.8,210.3L659.6,208.1L661.3,205.9L663.0,203.5L664.4,201.1L665.8,198.7L667.1,196.2L668.2,193.7L669.2,191.1L670.1,188.5L670.8,185.8L671.5,183.1L672.0,180.3L672.3,177.6L672.6,174.8L672.7,171.9L672.7,169.1L672.5,166.2L672.2,163.4Z"/>
</g>
<path d="M397.7,39.7L397.7,249.9L669.7,249.9" stroke="#111" stroke-width="1.5" fill="none"/>
<path d="M398.0,39.7L669.7,39.7L669.7,249.6" stroke="#777" stroke-width="0.6" fill="none"/>
<path d="M398.0,249.6L398.0,254.6M465.9,249.6L465.9,254.6M533.9,249.6L533.9,254.6M601.8,249.6L601.8,254.6M669.7,249.6L669.7,254.6M392.0,249.6L398.0,249.6M392.0,197.1L398.0,197.1M392.0,144.7L398.0,144.7M392.0,92.2L398.0,92.2M392.0,39.7L398.0,39.7" stroke="#999" stroke-width="1" fill="none"/>
<rect x="414.2" y="56.5" width="8" height="4.8" fill="#fff" stroke="#777" stroke-width="0.6"/>
<path d="M415.7,58.9h5" stroke="#bbb" stroke-width="1.6"/>
<rect x="458.3" y="134.5" width="8" height="4.8" fill="#fff" stroke="#777" stroke-width="0.6"/>
<path d="M459.8,136.9h5" stroke="#bbb" stroke-width="1.6"/>
<rect x="418.8" y="207.3" width="8" height="4.8" fill="#fff" stroke="#777" stroke-width="0.6"/>
<path d="M420.3,209.7h5" stroke="#bbb" stroke-width="1.6"/>
<rect x="648.7" y="45.5" width="8" height="4.8" fill="#fff" stroke="#777" stroke-width="0.6"/>
<path d="M650.2,47.9h5" stroke="#bbb" stroke-width="1.6"/>
<ellipse cx="398.0" cy="39.7" rx="2.7" ry="2.2" fill="#b80000" stroke="#700" stroke-width="0.5"/>
<ellipse cx="669.7" cy="39.7" rx="2.7" ry="2.2" fill="#b80000" stroke="#700" stroke-width="0.5"/>
<ellipse cx="398.0" cy="249.6" rx="2.7" ry="2.2" fill="#b80000" stroke="#700" stroke-width="0.5"/>
<ellipse cx="669.7" cy="249.6" rx="2.7" ry="2.2" fill="#b80000" stroke="#700" stroke-width="0.5"/>
<ellipse cx="533.9" cy="144.7" rx="2.9" ry="2.1" fill="#d00000" stroke="#400" stroke-width="1"/>
<text x="527.4" y="146.2" font-size="4.5" fill="#400" text-anchor="middle">5</text>
<radialGradient id="rgB" gradientUnits="userSpaceOnUse" cx="0" cy="0" r="1" gradientTransform="matrix(229.3295 6.8090 6.8090 169.6653 565.22 474.54)"><stop offset="0.000" stop-color="#ff0000"/><stop offset="0.025" stop-color="#ff0000"/><stop offset="0.050" stop-color="#ff0000"/><stop offset="0.075" stop-color="#ff0000"/><stop offset="0.100" stop-color="#ff0000"/><stop offset="0.125" stop-color="#ff0000"/><stop offset="0.150" stop-color="#ff0300"/><stop offset="0.175" stop-color="#ff0b00"/><stop offset="0.200" stop-color="#ff1500"/><stop offset="0.225" stop-color="#ff2000"/><stop offset="0.250" stop-color="#ff2c00"/><stop offset="0.275" stop-color="#ff3900"/><stop offset="0.300" stop-color="#ff4800"/><stop offset="0.325" stop-color="#ff5800"/><stop offset="0.350" stop-color="#ff6a00"/><stop offset="0.375" stop-color="#ff7d00"/><stop offset="0.400" stop-color="#ff9100"/><stop offset="0.425" stop-color="#ffa600"/><stop offset="0.450" stop-color="#ffbc00"/><stop offset="0.475" stop-color="#ffd400"/><stop offset="0.500" stop-color="#ffed00"/><stop offset="0.525" stop-color="#f6ff00"/><stop offset="0.550" stop-color="#daff00"/><stop offset="0.575" stop-color="#bdff00"/><stop offset="0.600" stop-color="#9fff00"/><stop offset="0.625" stop-color="#7fff00"/><stop offset="0.650" stop-color="#5fff00"/><stop offset="0.675" stop-color="#3cff00"/><stop offset="0.700" stop-color="#19ff00"/><stop offset="0.725" stop-color="#00ff0c"/><stop offset="0.750" stop-color="#00ff32"/><stop offset="0.775" stop-color="#00ff59"/><stop offset="0.800" stop-color="#00ff82"/><stop offset="0.825" stop-color="#00ffac"/><stop offset="0.850" stop-color="#00ffd7"/><stop offset="0.875" stop-color="#00faff"/><stop offset="0.900" stop-color="#00cdff"/><stop offset="0.925" stop-color="#009eff"/><stop offset="0.950" stop-color="#006dff"/><stop offset="0.975" stop-color="#003cff"/><stop offset="1.000" stop-color="#0009ff"/></radialGradient>
<clipPath id="ccB"><rect x="395.2" y="357.6" width="277.1" height="219.4"/></clipPath>
<rect x="395.2" y="357.6" width="277.1" height="219.4" fill="url(#rgB)"/>
<g clip-path="url(#ccB)" fill="none" stroke="#25290c" stroke-width="1.0">
<path d="M741.7,479.3L741.4,474.7L740.8,470.1L740.1,465.5L739.1,460.9L737.9,456.4L736.6,451.8L735.0,447.3L733.1,442.9L731.1,438.4L728.9,434.1L726.5,429.7L723.8,425.4L721.0,421.2L718.0,417.1L714.8,413.0L711.4,409.0L707.9,405.1L704.1,401.2L700.2,397.5L696.1,393.8L691.9,390.2L687.5,386.8L682.9,383.4L678.3,380.2L673.4,377.1L668.5,374.1L663.4,371.2L658.2,368.5L652.8,365.9L647.4,363.4L641.9,361.0L636.2,358.8L630.5,356.8L624.7,354.9L618.8,353.1L612.9,351.5L606.9,350.0L600.9,348.7L594.8,347.5L588.6,346.5L582.5,345.7L576.3,345.0L570.1,344.5L563.9,344.1L557.7,343.9L551.5,343.9L545.4,344.0L539.2,344.3L533.1,344.7L527.0,345.3L521.0,346.0L515.0,347.0L509.1,348.0L503.3,349.3L497.5,350.6L491.8,352.2L486.2,353.9L480.8,355.7L475.4,357.7L470.1,359.8L464.9,362.1L459.9,364.5L455.0,367.0L450.2,369.7L445.6,372.5L441.1,375.4L436.8,378.5L432.6,381.6L428.6,384.9L424.7,388.3L421.1,391.8L417.6,395.4L414.3,399.1L411.1,402.9L408.2,406.8L405.5,410.8L402.9,414.8L400.6,418.9L398.5,423.1L396.5,427.3L394.8,431.6L393.3,436.0L392.0,440.4L390.9,444.9L390.0,449.3L389.3,453.9L388.9,458.4L388.7,463.0L388.7,467.5L388.9,472.1L389.3,476.7L389.9,481.3L390.8,485.9L391.9,490.4L393.2,495.0L394.7,499.5L396.4,504.0L398.3,508.4L400.4,512.8L402.7,517.2L405.3,521.5L408.0,525.8L410.9,529.9L414.0,534.1L417.3,538.1L420.8,542.1L424.4,546.0L428.3,549.8L432.3,553.5L436.4,557.1L440.7,560.6L445.2,564.0L449.8,567.3L454.6,570.4L459.5,573.5L464.5,576.4L469.7,579.2L474.9,581.9L480.3,584.5L485.8,586.9L491.4,589.2L497.1,591.3L502.8,593.3L508.7,595.1L514.6,596.8L520.5,598.4L526.6,599.8L532.6,601.0L538.7,602.1L544.9,603.0L551.0,603.8L557.2,604.4L563.4,604.8L569.6,605.1L575.8,605.2L582.0,605.2L588.2,605.0L594.3,604.6L600.4,604.1L606.4,603.4L612.4,602.6L618.4,601.6L624.3,600.5L630.1,599.2L635.8,597.7L641.4,596.1L647.0,594.3L652.4,592.4L657.7,590.4L663.0,588.2L668.1,585.8L673.0,583.4L677.9,580.7L682.6,578.0L687.1,575.1L691.5,572.2L695.8,569.0L699.9,565.8L703.8,562.5L707.6,559.0L711.1,555.5L714.5,551.8L717.8,548.1L720.8,544.2L723.6,540.3L726.3,536.3L728.7,532.2L730.9,528.1L733.0,523.9L734.8,519.6L736.4,515.3L737.8,510.9L739.0,506.5L740.0,502.0L740.8,497.5L741.3,493.0L741.7,488.4L741.8,483.8L741.7,479.3Z"/>
<path d="M670.5,477.4L670.3,474.6L670.0,471.9L669.5,469.2L668.9,466.4L668.2,463.7L667.4,461.0L666.5,458.3L665.4,455.7L664.2,453.0L662.8,450.4L661.4,447.8L659.8,445.3L658.1,442.7L656.4,440.3L654.4,437.8L652.4,435.4L650.3,433.1L648.1,430.8L645.7,428.6L643.3,426.4L640.8,424.3L638.1,422.2L635.4,420.2L632.6,418.3L629.8,416.4L626.8,414.6L623.8,412.9L620.7,411.3L617.5,409.7L614.2,408.2L610.9,406.8L607.6,405.5L604.2,404.3L600.7,403.2L597.2,402.1L593.7,401.1L590.1,400.3L586.5,399.5L582.8,398.8L579.2,398.2L575.5,397.7L571.8,397.3L568.1,397.0L564.4,396.7L560.7,396.6L557.1,396.6L553.4,396.7L549.7,396.8L546.1,397.1L542.4,397.5L538.8,397.9L535.3,398.4L531.8,399.1L528.3,399.8L524.8,400.6L521.5,401.6L518.1,402.6L514.8,403.7L511.6,404.8L508.5,406.1L505.4,407.5L502.4,408.9L499.5,410.4L496.6,412.0L493.9,413.7L491.2,415.4L488.6,417.2L486.1,419.1L483.7,421.1L481.4,423.1L479.2,425.2L477.2,427.3L475.2,429.6L473.3,431.8L471.6,434.1L469.9,436.5L468.4,438.9L467.0,441.4L465.8,443.9L464.6,446.4L463.6,449.0L462.7,451.6L461.9,454.2L461.2,456.8L460.7,459.5L460.3,462.2L460.1,464.9L459.9,467.6L459.9,470.4L460.0,473.1L460.3,475.8L460.7,478.6L461.2,481.3L461.8,484.0L462.6,486.7L463.5,489.4L464.5,492.1L465.7,494.8L466.9,497.4L468.3,500.0L469.8,502.6L471.4,505.1L473.2,507.6L475.0,510.0L477.0,512.5L479.1,514.8L481.3,517.1L483.5,519.4L485.9,521.6L488.4,523.8L491.0,525.9L493.6,527.9L496.4,529.8L499.2,531.7L502.2,533.6L505.2,535.3L508.2,537.0L511.4,538.6L514.6,540.1L517.9,541.5L521.2,542.9L524.6,544.2L528.0,545.4L531.5,546.5L535.0,547.5L538.6,548.4L542.2,549.2L545.8,550.0L549.4,550.6L553.1,551.2L556.8,551.6L560.5,552.0L564.2,552.2L567.8,552.4L571.5,552.5L575.2,552.5L578.9,552.3L582.6,552.1L586.2,551.8L589.8,551.4L593.4,550.9L596.9,550.3L600.4,549.6L603.9,548.9L607.3,548.0L610.7,547.0L614.0,546.0L617.2,544.8L620.4,543.6L623.5,542.3L626.6,540.9L629.5,539.4L632.4,537.9L635.2,536.3L637.9,534.5L640.6,532.8L643.1,530.9L645.5,529.0L647.9,527.0L650.1,524.9L652.3,522.8L654.3,520.6L656.2,518.4L658.0,516.1L659.7,513.8L661.3,511.4L662.7,509.0L664.1,506.5L665.3,504.0L666.4,501.4L667.3,498.8L668.2,496.2L668.9,493.6L669.5,490.9L669.9,488.2L670.3,485.5L670.5,482.8L670.5,480.1L670.5,477.4Z"/>
</g>
<path d="M394.9,357.6L394.9,577.3L672.3,577.3" stroke="#111" stroke-width="1.5" fill="none"/>
<path d="M395.2,357.6L672.3,357.6L672.3,577.0" stroke="#777" stroke-width="0.6" fill="none"/>
<path d="M395.2,577.0L395.2,582.0M464.5,577.0L464.5,582.0M533.8,577.0L533.8,582.0M603.0,577.0L603.0,582.0M672.3,577.0L672.3,582.0M389.2,577.0L395.2,577.0M389.2,533.1L395.2,533.1M389.2,489.2L395.2,489.2M389.2,445.4L395.2,445.4M389.2,401.5L395.2,401.5M389.2,357.6L395.2,357.6" stroke="#999" stroke-width="1" fill="none"/>
<rect x="423.3" y="382.7" width="8" height="4.8" fill="#fff" stroke="#777" stroke-width="0.6"/>
<path d="M424.8,385.1h5" stroke="#bbb" stroke-width="1.6"/>
<rect x="647.2" y="361.1" width="8" height="4.8" fill="#fff" stroke="#777" stroke-width="0.6"/>
<path d="M648.7,363.5h5" stroke="#bbb" stroke-width="1.6"/>
<rect x="419.9" y="539.0" width="8" height="4.8" fill="#fff" stroke="#777" stroke-width="0.6"/>
<path d="M421.4,541.4h5" stroke="#bbb" stroke-width="1.6"/>
<rect x="557.0" y="546.6" width="8" height="4.8" fill="#fff" stroke="#777" stroke-width="0.6"/>
<path d="M558.5,549.0h5" stroke="#bbb" stroke-width="1.6"/>
<ellipse cx="395.2" cy="357.6" rx="2.7" ry="2.2" fill="#b80000" stroke="#700" stroke-width="0.5"/>
<ellipse cx="672.3" cy="357.6" rx="2.7" ry="2.2" fill="#b80000" stroke="#700" stroke-width="0.5"/>
<ellipse cx="395.2" cy="577.0" rx="2.7" ry="2.2" fill="#b80000" stroke="#700" stroke-width="0.5"/>
<ellipse cx="672.3" cy="577.0" rx="2.7" ry="2.2" fill="#b80000" stroke="#700" stroke-width="0.5"/>
<ellipse cx="533.8" cy="467.3" rx="2.9" ry="2.1" fill="#d00000" stroke="#400" stroke-width="1"/>
<text x="527.2" y="468.9" font-size="4.5" fill="#400" text-anchor="middle">5</text>
<radialGradient id="rgC" gradientUnits="userSpaceOnUse" cx="0" cy="0" r="1" gradientTransform="matrix(222.9336 -13.5985 -13.5985 165.7475 515.34 806.45)"><stop offset="0.000" stop-color="#ff0000"/><stop offset="0.025" stop-color="#ff0000"/><stop offset="0.050" stop-color="#ff0000"/><stop offset="0.075" stop-color="#ff0200"/><stop offset="0.100" stop-color="#ff0700"/><stop offset="0.125" stop-color="#ff0c00"/><stop offset="0.150" stop-color="#ff1300"/><stop offset="0.175" stop-color="#ff1a00"/><stop offset="0.200" stop-color="#ff2300"/><stop offset="0.225" stop-color="#ff2d00"/><stop offset="0.250" stop-color="#ff3900"/><stop offset="0.275" stop-color="#ff4500"/><stop offset="0.300" stop-color="#ff5300"/><stop offset="0.325" stop-color="#ff6200"/><stop offset="0.350" stop-color="#ff7200"/><stop offset="0.375" stop-color="#ff8300"/><stop offset="0.400" stop-color="#ff9600"/><stop offset="0.425" stop-color="#ffa900"/><stop offset="0.450" stop-color="#ffbe00"/><stop offset="0.475" stop-color="#ffd400"/><stop offset="0.500" stop-color="#ffeb00"/><stop offset="0.525" stop-color="#faff00"/><stop offset="0.550" stop-color="#e1ff00"/><stop offset="0.575" stop-color="#c6ff00"/><stop offset="0.600" stop-color="#aaff00"/><stop offset="0.625" stop-color="#8dff00"/><stop offset="0.650" stop-color="#6eff00"/><stop offset="0.675" stop-color="#4fff00"/><stop offset="0.700" stop-color="#2eff00"/><stop offset="0.725" stop-color="#0cff00"/><stop offset="0.750" stop-color="#00ff17"/><stop offset="0.775" stop-color="#00ff3b"/><stop offset="0.800" stop-color="#00ff61"/><stop offset="0.825" stop-color="#00ff88"/><stop offset="0.850" stop-color="#00ffb0"/><stop offset="0.875" stop-color="#00ffd9"/><stop offset="0.900" stop-color="#00fbff"/><stop offset="0.925" stop-color="#00d0ff"/><stop offset="0.950" stop-color="#00a3ff"/><stop offset="0.975" stop-color="#0075ff"/><stop offset="1.000" stop-color="#0046ff"/></radialGradient>
<clipPath id="ccC"><rect x="386.7" y="687.5" width="276.4" height="224.5"/></clipPath>
<rect x="386.7" y="687.5" width="276.4" height="224.5" fill="url(#rgC)"/>
<g clip-path="url(#ccC)" fill="none" stroke="#25290c" stroke-width="1.0">
<path d="M718.3,795.2L718.7,789.9L718.8,784.6L718.6,779.4L718.2,774.1L717.6,769.0L716.7,763.8L715.6,758.8L714.2,753.8L712.6,748.8L710.7,743.9L708.6,739.1L706.2,734.4L703.6,729.8L700.8,725.2L697.8,720.8L694.5,716.5L691.0,712.2L687.3,708.1L683.4,704.2L679.3,700.3L674.9,696.6L670.4,693.0L665.7,689.5L660.8,686.2L655.7,683.1L650.5,680.0L645.0,677.2L639.5,674.5L633.7,672.0L627.8,669.6L621.8,667.4L615.7,665.4L609.4,663.5L603.0,661.9L596.5,660.4L589.9,659.1L583.2,657.9L576.5,657.0L569.6,656.2L562.7,655.6L555.7,655.2L548.7,655.0L541.7,655.0L534.6,655.1L527.4,655.5L520.3,656.0L513.2,656.8L506.0,657.7L498.9,658.7L491.8,660.0L484.7,661.5L477.7,663.1L470.7,664.9L463.7,666.9L456.9,669.0L450.1,671.4L443.3,673.8L436.7,676.5L430.2,679.3L423.7,682.3L417.4,685.4L411.2,688.7L405.2,692.1L399.2,695.6L393.4,699.3L387.8,703.2L382.3,707.1L377.0,711.2L371.8,715.4L366.9,719.7L362.1,724.1L357.5,728.6L353.1,733.2L348.9,737.9L344.9,742.7L341.1,747.5L337.5,752.5L334.1,757.5L331.0,762.5L328.1,767.7L325.4,772.8L323.0,778.0L320.8,783.3L318.8,788.5L317.1,793.8L315.6,799.1L314.4,804.4L313.4,809.8L312.7,815.1L312.2,820.4L311.9,825.7L311.9,830.9L312.2,836.1L312.7,841.3L313.5,846.5L314.5,851.6L315.8,856.6L317.3,861.6L319.0,866.5L321.0,871.4L323.2,876.2L325.7,880.8L328.4,885.4L331.3,889.9L334.5,894.3L337.9,898.6L341.5,902.7L345.3,906.8L349.3,910.7L353.5,914.5L358.0,918.1L362.6,921.7L367.4,925.0L372.4,928.3L377.6,931.4L382.9,934.3L388.4,937.1L394.1,939.7L399.9,942.1L405.8,944.4L411.9,946.5L418.1,948.5L424.4,950.2L430.9,951.8L437.4,953.2L444.1,954.4L450.8,955.5L457.6,956.3L464.5,957.0L471.4,957.5L478.4,957.8L485.5,957.9L492.6,957.9L499.7,957.6L506.8,957.2L513.9,956.5L521.1,955.7L528.2,954.7L535.3,953.5L542.4,952.2L549.5,950.6L556.5,948.9L563.5,947.0L570.4,945.0L577.2,942.7L584.0,940.3L590.7,937.7L597.2,935.0L603.7,932.1L610.1,929.1L616.4,925.9L622.5,922.5L628.5,919.1L634.4,915.4L640.1,911.7L645.6,907.8L651.0,903.8L656.3,899.6L661.3,895.4L666.2,891.0L670.9,886.6L675.4,882.0L679.7,877.4L683.8,872.6L687.7,867.8L691.4,862.9L694.9,857.9L698.1,852.9L701.1,847.8L703.9,842.7L706.5,837.5L708.8,832.3L710.9,827.0L712.8,821.7L714.4,816.4L715.7,811.1L716.8,805.8L717.7,800.5L718.3,795.2Z"/>
<path d="M691.2,796.7L691.5,792.1L691.6,787.5L691.5,783.0L691.2,778.5L690.6,774.0L689.8,769.5L688.9,765.1L687.7,760.8L686.2,756.5L684.6,752.3L682.8,748.1L680.8,744.0L678.5,740.0L676.1,736.1L673.4,732.2L670.6,728.5L667.6,724.8L664.4,721.3L661.0,717.8L657.4,714.5L653.6,711.2L649.7,708.1L645.6,705.1L641.4,702.3L637.0,699.5L632.4,696.9L627.7,694.4L622.9,692.1L617.9,689.9L612.8,687.9L607.6,686.0L602.3,684.2L596.9,682.6L591.3,681.2L585.7,679.9L580.0,678.7L574.2,677.7L568.3,676.9L562.4,676.2L556.4,675.7L550.3,675.4L544.3,675.2L538.1,675.2L532.0,675.3L525.8,675.6L519.6,676.1L513.5,676.7L507.3,677.5L501.1,678.5L494.9,679.6L488.8,680.8L482.7,682.2L476.6,683.8L470.6,685.5L464.7,687.4L458.8,689.4L453.0,691.5L447.2,693.8L441.5,696.3L436.0,698.8L430.5,701.5L425.1,704.4L419.9,707.3L414.7,710.4L409.7,713.6L404.8,716.9L400.1,720.4L395.5,723.9L391.0,727.5L386.7,731.3L382.5,735.1L378.5,739.0L374.7,743.0L371.1,747.1L367.6,751.2L364.3,755.4L361.2,759.7L358.3,764.0L355.6,768.4L353.1,772.8L350.8,777.3L348.7,781.8L346.7,786.4L345.0,790.9L343.5,795.5L342.3,800.1L341.2,804.7L340.3,809.3L339.7,813.9L339.3,818.5L339.1,823.1L339.1,827.7L339.3,832.2L339.8,836.7L340.4,841.2L341.3,845.6L342.4,849.9L343.7,854.3L345.2,858.5L346.9,862.7L348.9,866.8L351.0,870.9L353.4,874.9L355.9,878.8L358.6,882.6L361.6,886.3L364.7,889.9L368.0,893.4L371.5,896.8L375.1,900.1L379.0,903.2L383.0,906.3L387.1,909.2L391.5,912.0L396.0,914.7L400.6,917.2L405.3,919.6L410.2,921.9L415.3,924.0L420.4,926.0L425.7,927.8L431.1,929.5L436.6,931.0L442.2,932.4L447.8,933.6L453.6,934.7L459.4,935.6L465.3,936.3L471.3,936.9L477.3,937.3L483.4,937.6L489.5,937.7L495.6,937.6L501.8,937.4L507.9,937.0L514.1,936.5L520.3,935.8L526.5,934.9L532.7,933.9L538.8,932.7L544.9,931.4L551.0,929.9L557.0,928.3L563.0,926.5L569.0,924.5L574.8,922.5L580.6,920.2L586.3,917.9L591.9,915.4L597.5,912.7L602.9,909.9L608.2,907.0L613.4,904.0L618.5,900.9L623.4,897.6L628.3,894.3L632.9,890.8L637.5,887.2L641.9,883.5L646.1,879.7L650.2,875.9L654.1,871.9L657.8,867.9L661.3,863.8L664.7,859.6L667.9,855.4L670.9,851.1L673.7,846.7L676.4,842.3L678.8,837.8L681.0,833.3L683.0,828.8L684.8,824.3L686.4,819.7L687.8,815.1L689.0,810.5L689.9,805.9L690.7,801.3L691.2,796.7Z"/>
<path d="M659.1,798.5L659.4,794.7L659.4,791.0L659.4,787.3L659.1,783.6L658.6,779.9L658.0,776.3L657.2,772.7L656.2,769.1L655.1,765.6L653.7,762.2L652.2,758.8L650.6,755.4L648.7,752.1L646.7,748.9L644.6,745.8L642.3,742.7L639.8,739.7L637.2,736.8L634.4,734.0L631.5,731.2L628.4,728.6L625.2,726.1L621.9,723.6L618.4,721.3L614.8,719.0L611.1,716.9L607.2,714.9L603.3,713.0L599.2,711.2L595.0,709.5L590.8,708.0L586.4,706.5L582.0,705.2L577.5,704.0L572.9,703.0L568.2,702.0L563.4,701.2L558.6,700.6L553.8,700.0L548.9,699.6L544.0,699.3L539.0,699.2L534.0,699.2L529.0,699.3L523.9,699.5L518.9,699.9L513.8,700.4L508.7,701.0L503.7,701.8L498.7,702.7L493.6,703.7L488.7,704.9L483.7,706.2L478.8,707.6L473.9,709.1L469.1,710.7L464.3,712.5L459.6,714.4L455.0,716.4L450.5,718.5L446.0,720.7L441.6,723.0L437.3,725.4L433.1,727.9L429.0,730.6L425.0,733.3L421.1,736.1L417.3,739.0L413.7,741.9L410.2,745.0L406.8,748.1L403.5,751.3L400.4,754.6L397.4,757.9L394.6,761.3L391.9,764.7L389.4,768.2L387.0,771.8L384.8,775.3L382.7,779.0L380.8,782.6L379.1,786.3L377.5,790.0L376.1,793.8L374.9,797.5L373.9,801.3L373.0,805.0L372.3,808.8L371.8,812.6L371.4,816.3L371.2,820.1L371.3,823.8L371.4,827.5L371.8,831.2L372.3,834.8L373.1,838.4L374.0,842.0L375.0,845.5L376.3,849.0L377.7,852.5L379.3,855.8L381.0,859.1L382.9,862.4L385.0,865.6L387.2,868.7L389.6,871.7L392.2,874.7L394.9,877.5L397.7,880.3L400.7,883.0L403.9,885.6L407.1,888.1L410.5,890.5L414.1,892.8L417.7,894.9L421.5,897.0L425.4,899.0L429.4,900.8L433.5,902.6L437.8,904.2L442.1,905.7L446.5,907.0L451.0,908.3L455.5,909.4L460.2,910.4L464.9,911.3L469.6,912.0L474.5,912.6L479.3,913.1L484.2,913.5L489.2,913.7L494.2,913.8L499.2,913.7L504.2,913.5L509.3,913.2L514.4,912.8L519.4,912.2L524.5,911.5L529.5,910.6L534.5,909.7L539.5,908.6L544.5,907.4L549.4,906.0L554.3,904.6L559.2,903.0L564.0,901.3L568.7,899.5L573.4,897.5L578.0,895.5L582.5,893.3L586.9,891.1L591.2,888.7L595.5,886.2L599.7,883.7L603.7,881.0L607.6,878.2L611.5,875.4L615.2,872.5L618.8,869.5L622.2,866.4L625.6,863.2L628.7,860.0L631.8,856.7L634.7,853.3L637.5,849.9L640.1,846.4L642.5,842.9L644.8,839.3L647.0,835.7L648.9,832.1L650.8,828.4L652.4,824.7L653.9,821.0L655.2,817.3L656.3,813.5L657.3,809.8L658.1,806.0L658.7,802.2L659.1,798.5Z"/>
<path d="M617.4,800.8L617.6,798.1L617.6,795.5L617.5,792.8L617.3,790.2L617.0,787.6L616.6,785.0L616.0,782.5L615.3,780.0L614.5,777.5L613.5,775.0L612.5,772.6L611.3,770.2L610.0,767.9L608.6,765.6L607.1,763.4L605.4,761.2L603.7,759.1L601.8,757.0L599.8,755.0L597.8,753.1L595.6,751.2L593.3,749.4L590.9,747.7L588.5,746.0L585.9,744.4L583.3,742.9L580.5,741.5L577.7,740.1L574.9,738.8L571.9,737.7L568.9,736.6L565.8,735.5L562.6,734.6L559.4,733.8L556.2,733.0L552.8,732.3L549.5,731.8L546.1,731.3L542.6,730.9L539.2,730.6L535.6,730.4L532.1,730.3L528.6,730.3L525.0,730.4L521.4,730.6L517.8,730.8L514.2,731.2L510.7,731.6L507.1,732.2L503.5,732.8L499.9,733.6L496.4,734.4L492.9,735.3L489.4,736.3L485.9,737.4L482.5,738.5L479.1,739.8L475.8,741.1L472.5,742.5L469.3,744.0L466.1,745.6L463.0,747.2L460.0,749.0L457.0,750.7L454.1,752.6L451.2,754.5L448.5,756.5L445.8,758.6L443.2,760.7L440.7,762.8L438.3,765.0L436.0,767.3L433.8,769.6L431.7,772.0L429.6,774.4L427.7,776.8L425.9,779.3L424.2,781.8L422.7,784.4L421.2,786.9L419.9,789.5L418.6,792.2L417.5,794.8L416.5,797.4L415.7,800.1L414.9,802.8L414.3,805.4L413.8,808.1L413.4,810.8L413.2,813.4L413.1,816.1L413.1,818.7L413.2,821.4L413.5,824.0L413.9,826.6L414.4,829.1L415.0,831.7L415.8,834.2L416.6,836.7L417.6,839.1L418.8,841.5L420.0,843.8L421.4,846.1L422.8,848.4L424.4,850.6L426.1,852.8L427.9,854.8L429.9,856.9L431.9,858.9L434.0,860.8L436.2,862.6L438.6,864.4L441.0,866.1L443.5,867.7L446.1,869.2L448.8,870.7L451.5,872.1L454.4,873.4L457.3,874.7L460.3,875.8L463.3,876.9L466.5,877.8L469.6,878.7L472.9,879.5L476.2,880.2L479.5,880.8L482.9,881.4L486.3,881.8L489.8,882.1L493.3,882.4L496.8,882.5L500.3,882.6L503.9,882.6L507.5,882.4L511.0,882.2L514.6,881.9L518.2,881.5L521.8,881.0L525.4,880.4L529.0,879.7L532.5,878.9L536.0,878.1L539.5,877.1L543.0,876.1L546.4,875.0L549.8,873.7L553.2,872.5L556.5,871.1L559.8,869.6L563.0,868.1L566.1,866.5L569.2,864.8L572.2,863.1L575.2,861.2L578.0,859.3L580.8,857.4L583.6,855.4L586.2,853.3L588.7,851.2L591.2,849.0L593.6,846.7L595.8,844.4L598.0,842.1L600.0,839.7L602.0,837.3L603.9,834.8L605.6,832.3L607.2,829.8L608.8,827.2L610.2,824.7L611.4,822.0L612.6,819.4L613.7,816.8L614.6,814.1L615.4,811.5L616.1,808.8L616.6,806.1L617.1,803.4L617.4,800.8Z"/>
</g>
<path d="M386.4,687.5L386.4,912.3L663.1,912.3" stroke="#111" stroke-width="1.5" fill="none"/>
<path d="M386.7,687.5L663.1,687.5L663.1,912.0" stroke="#777" stroke-width="0.6" fill="none"/>
<path d="M386.7,912.0L386.7,917.0M455.8,912.0L455.8,917.0M524.9,912.0L524.9,917.0M594.0,912.0L594.0,917.0M663.1,912.0L663.1,917.0M380.7,912.0L386.7,912.0M380.7,867.1L386.7,867.1M380.7,822.2L386.7,822.2M380.7,777.3L386.7,777.3M380.7,732.4L386.7,732.4M380.7,687.5L386.7,687.5" stroke="#999" stroke-width="1" fill="none"/>
<rect x="393.4" y="690.6" width="8" height="4.8" fill="#fff" stroke="#777" stroke-width="0.6"/>
<path d="M394.9,693.0h5" stroke="#bbb" stroke-width="1.6"/>
<rect x="417.7" y="700.4" width="8" height="4.8" fill="#fff" stroke="#777" stroke-width="0.6"/>
<path d="M419.2,702.8h5" stroke="#bbb" stroke-width="1.6"/>
<rect x="635.3" y="695.3" width="8" height="4.8" fill="#fff" stroke="#777" stroke-width="0.6"/>
<path d="M636.8,697.7h5" stroke="#bbb" stroke-width="1.6"/>
<rect x="631.7" y="729.5" width="8" height="4.8" fill="#fff" stroke="#777" stroke-width="0.6"/>
<path d="M633.2,731.9h5" stroke="#bbb" stroke-width="1.6"/>
<rect x="414.1" y="891.1" width="8" height="4.8" fill="#fff" stroke="#777" stroke-width="0.6"/>
<path d="M415.6,893.5h5" stroke="#bbb" stroke-width="1.6"/>
<rect x="476.3" y="875.6" width="8" height="4.8" fill="#fff" stroke="#777" stroke-width="0.6"/>
<path d="M477.8,878.0h5" stroke="#bbb" stroke-width="1.6"/>
<rect x="631.7" y="884.9" width="8" height="4.8" fill="#fff" stroke="#777" stroke-width="0.6"/>
<path d="M633.2,887.3h5" stroke="#bbb" stroke-width="1.6"/>
<rect x="648.3" y="898.9" width="8" height="4.8" fill="#fff" stroke="#777" stroke-width="0.6"/>
<path d="M649.8,901.3h5" stroke="#bbb" stroke-width="1.6"/>
<ellipse cx="386.7" cy="687.5" rx="2.7" ry="2.2" fill="#b80000" stroke="#700" stroke-width="0.5"/>
<ellipse cx="663.1" cy="687.5" rx="2.7" ry="2.2" fill="#b80000" stroke="#700" stroke-width="0.5"/>
<ellipse cx="386.7" cy="912.0" rx="2.7" ry="2.2" fill="#b80000" stroke="#700" stroke-width="0.5"/>
<ellipse cx="663.1" cy="912.0" rx="2.7" ry="2.2" fill="#b80000" stroke="#700" stroke-width="0.5"/>
<ellipse cx="524.9" cy="799.8" rx="2.9" ry="2.1" fill="#d00000" stroke="#400" stroke-width="1"/>
<text x="518.4" y="801.4" font-size="4.5" fill="#400" text-anchor="middle">5</text>
<text x="22.90" y="30.80" font-size="19.24" font-weight="bold" textLength="12.80" lengthAdjust="spacingAndGlyphs" fill="#111">A</text>
<text x="144.00" y="17.50" font-size="21.91" font-weight="normal" textLength="93.70" lengthAdjust="spacingAndGlyphs" fill="#111">3D Surface</text>
<text transform="translate(15.00,208.70) rotate(-90)" x="0" y="0" font-size="17.40" font-weight="bold" textLength="141.70" lengthAdjust="spacingAndGlyphs" fill="#111">Immobilization&#160; Yield</text>
<text x="29.60" y="75.80" font-size="14.15" font-weight="bold" textLength="14.10" lengthAdjust="spacingAndGlyphs" fill="#111">80</text>
<text x="33.60" y="103.00" font-size="14.07" font-weight="bold" textLength="14.20" lengthAdjust="spacingAndGlyphs" fill="#111">70</text>
<text x="33.60" y="125.80" font-size="13.63" font-weight="bold" textLength="14.00" lengthAdjust="spacingAndGlyphs" fill="#111">60</text>
<text x="35.50" y="150.80" font-size="13.93" font-weight="bold" textLength="13.40" lengthAdjust="spacingAndGlyphs" fill="#111">50</text>
<text x="36.90" y="172.80" font-size="13.93" font-weight="bold" textLength="13.40" lengthAdjust="spacingAndGlyphs" fill="#111">40</text>
<text x="38.90" y="215.50" font-size="14.07" font-weight="bold" textLength="22.30" lengthAdjust="spacingAndGlyphs" fill="#111">10.5</text>
<text x="74.90" y="223.40" font-size="12.89" font-weight="bold" textLength="12.30" lengthAdjust="spacingAndGlyphs" fill="#111">10</text>
<text x="99.30" y="233.10" font-size="13.63" font-weight="bold" textLength="15.50" lengthAdjust="spacingAndGlyphs" fill="#111">9.5</text>
<text x="133.50" y="242.30" font-size="12.44" font-weight="bold" textLength="5.80" lengthAdjust="spacingAndGlyphs" fill="#111">9</text>
<text x="147.90" y="252.80" font-size="13.63" font-weight="bold" textLength="17.10" lengthAdjust="spacingAndGlyphs" fill="#111">8.5</text>
<text x="39.40" y="245.40" font-size="14.81" font-weight="bold" textLength="53.90" lengthAdjust="spacingAndGlyphs" fill="#111">B: PEI pH</text>
<text x="175.20" y="253.80" font-size="12.00" font-weight="bold" textLength="6.30" lengthAdjust="spacingAndGlyphs" fill="#111">2</text>
<text x="198.90" y="239.90" font-size="12.44" font-weight="bold" textLength="6.30" lengthAdjust="spacingAndGlyphs" fill="#111">3</text>
<text x="226.20" y="228.60" font-size="12.44" font-weight="bold" textLength="6.60" lengthAdjust="spacingAndGlyphs" fill="#111">4</text>
<text x="252.00" y="219.40" font-size="12.44" font-weight="bold" textLength="7.30" lengthAdjust="spacingAndGlyphs" fill="#111">5</text>
<text x="278.20" y="210.20" font-size="12.44" font-weight="bold" textLength="7.40" lengthAdjust="spacingAndGlyphs" fill="#111">6</text>
<text x="218.30" y="244.40" font-size="12.82" font-weight="bold" textLength="113.80" lengthAdjust="spacingAndGlyphs" fill="#111">A: PEI concentration</text>
<text x="456.40" y="34.90" font-size="22.29" font-weight="normal" textLength="179.80" lengthAdjust="spacingAndGlyphs" fill="#111">Immobilization Yield</text>
<text x="360.70" y="43.90" font-size="16.74" font-weight="normal" textLength="26.10" lengthAdjust="spacingAndGlyphs" fill="#111">10.5</text>
<text x="373.10" y="99.80" font-size="16.59" font-weight="normal" textLength="15.10" lengthAdjust="spacingAndGlyphs" fill="#111">10</text>
<text x="369.30" y="150.80" font-size="16.59" font-weight="normal" textLength="20.20" lengthAdjust="spacingAndGlyphs" fill="#111">9.5</text>
<text x="379.70" y="202.80" font-size="16.59" font-weight="normal" textLength="6.60" lengthAdjust="spacingAndGlyphs" fill="#111">9</text>
<text x="370.30" y="252.90" font-size="16.59" font-weight="normal" textLength="19.20" lengthAdjust="spacingAndGlyphs" fill="#111">8.5</text>
<text transform="translate(359.90,182.10) rotate(-90)" x="0" y="0" font-size="17.40" font-weight="bold" textLength="74.70" lengthAdjust="spacingAndGlyphs" fill="#111">B: PEI pH</text>
<text x="394.90" y="265.80" font-size="14.81" font-weight="normal" textLength="7.20" lengthAdjust="spacingAndGlyphs" fill="#111">2</text>
<text x="461.60" y="265.80" font-size="15.26" font-weight="normal" textLength="6.60" lengthAdjust="spacingAndGlyphs" fill="#111">3</text>
<text x="530.50" y="265.80" font-size="15.26" font-weight="normal" textLength="6.80" lengthAdjust="spacingAndGlyphs" fill="#111">4</text>
<text x="599.20" y="265.80" font-size="15.26" font-weight="normal" textLength="7.00" lengthAdjust="spacingAndGlyphs" fill="#111">5</text>
<text x="666.40" y="265.80" font-size="15.26" font-weight="normal" textLength="7.20" lengthAdjust="spacingAndGlyphs" fill="#111">6</text>
<text x="466.50" y="283.80" font-size="19.39" font-weight="normal" textLength="175.10" lengthAdjust="spacingAndGlyphs" fill="#111">A: PEI concentration</text>
<text x="33.60" y="359.40" font-size="19.24" font-weight="bold" textLength="11.60" lengthAdjust="spacingAndGlyphs" fill="#111">B</text>
<text x="142.90" y="336.30" font-size="20.92" font-weight="normal" textLength="94.30" lengthAdjust="spacingAndGlyphs" fill="#111">3D Surface</text>
<text transform="translate(20.00,539.70) rotate(-90)" x="0" y="0" font-size="18.32" font-weight="bold" textLength="148.70" lengthAdjust="spacingAndGlyphs" fill="#111">Immobilization&#160; Yield</text>
<text x="35.90" y="396.30" font-size="13.93" font-weight="bold" textLength="13.00" lengthAdjust="spacingAndGlyphs" fill="#111">80</text>
<text x="38.30" y="420.60" font-size="13.93" font-weight="bold" textLength="13.20" lengthAdjust="spacingAndGlyphs" fill="#111">70</text>
<text x="36.30" y="445.60" font-size="13.93" font-weight="bold" textLength="12.80" lengthAdjust="spacingAndGlyphs" fill="#111">60</text>
<text x="39.30" y="472.10" font-size="13.93" font-weight="bold" textLength="13.00" lengthAdjust="spacingAndGlyphs" fill="#111">50</text>
<text x="41.30" y="495.50" font-size="13.93" font-weight="bold" textLength="13.00" lengthAdjust="spacingAndGlyphs" fill="#111">40</text>
<text x="52.50" y="536.00" font-size="11.70" font-weight="bold" textLength="5.80" lengthAdjust="spacingAndGlyphs" fill="#111">4</text>
<text x="73.00" y="545.20" font-size="11.70" font-weight="bold" textLength="16.90" lengthAdjust="spacingAndGlyphs" fill="#111">3.4</text>
<text x="98.50" y="555.70" font-size="13.63" font-weight="bold" textLength="16.30" lengthAdjust="spacingAndGlyphs" fill="#111">2.8</text>
<text x="123.50" y="565.00" font-size="12.89" font-weight="bold" textLength="16.30" lengthAdjust="spacingAndGlyphs" fill="#111">2.2</text>
<text x="144.50" y="575.40" font-size="13.63" font-weight="bold" textLength="15.80" lengthAdjust="spacingAndGlyphs" fill="#111">1.6</text>
<text x="169.50" y="580.70" font-size="12.44" font-weight="bold" textLength="5.20" lengthAdjust="spacingAndGlyphs" fill="#111">1</text>
<text x="11.00" y="574.10" font-size="16.03" font-weight="bold" textLength="116.99" lengthAdjust="spacingAndGlyphs" fill="#111">GA concentration</text>
<text x="180.00" y="580.40" font-size="12.89" font-weight="bold" textLength="6.30" lengthAdjust="spacingAndGlyphs" fill="#111">2</text>
<text x="204.20" y="569.90" font-size="12.89" font-weight="bold" textLength="6.50" lengthAdjust="spacingAndGlyphs" fill="#111">3</text>
<text x="236.20" y="554.10" font-size="11.56" font-weight="bold" textLength="6.80" lengthAdjust="spacingAndGlyphs" fill="#111">4</text>
<text x="262.00" y="544.70" font-size="12.44" font-weight="bold" textLength="7.30" lengthAdjust="spacingAndGlyphs" fill="#111">5</text>
<text x="293.50" y="531.00" font-size="12.89" font-weight="bold" textLength="6.50" lengthAdjust="spacingAndGlyphs" fill="#111">6</text>
<text x="231.20" y="567.80" font-size="13.28" font-weight="bold" textLength="113.50" lengthAdjust="spacingAndGlyphs" fill="#111">A: PEI concentration</text>
<text x="438.60" y="354.70" font-size="21.98" font-weight="normal" textLength="178.90" lengthAdjust="spacingAndGlyphs" fill="#111">Immobilization Yield</text>
<text x="376.90" y="361.95" font-size="12.89" font-weight="bold" textLength="6.60" lengthAdjust="spacingAndGlyphs" fill="#111">4</text>
<text x="369.80" y="405.65" font-size="12.89" font-weight="bold" textLength="15.70" lengthAdjust="spacingAndGlyphs" fill="#111">3.4</text>
<text x="369.30" y="449.75" font-size="12.89" font-weight="bold" textLength="16.20" lengthAdjust="spacingAndGlyphs" fill="#111">2.8</text>
<text x="371.60" y="493.45" font-size="12.89" font-weight="bold" textLength="16.20" lengthAdjust="spacingAndGlyphs" fill="#111">2.2</text>
<text x="371.60" y="537.35" font-size="12.89" font-weight="bold" textLength="15.70" lengthAdjust="spacingAndGlyphs" fill="#111">1.6</text>
<text x="384.30" y="581.25" font-size="12.89" font-weight="bold" textLength="5.30" lengthAdjust="spacingAndGlyphs" fill="#111">1</text>
<text transform="translate(353.10,525.60) rotate(-90)" x="0" y="0" font-size="17.56" font-weight="bold" textLength="122.49" lengthAdjust="spacingAndGlyphs" fill="#111">GA concentration</text>
<text x="394.90" y="593.50" font-size="14.67" font-weight="normal" textLength="7.60" lengthAdjust="spacingAndGlyphs" fill="#111">2</text>
<text x="461.20" y="593.50" font-size="14.67" font-weight="normal" textLength="7.40" lengthAdjust="spacingAndGlyphs" fill="#111">3</text>
<text x="530.50" y="593.50" font-size="14.67" font-weight="normal" textLength="7.00" lengthAdjust="spacingAndGlyphs" fill="#111">4</text>
<text x="599.20" y="593.50" font-size="14.67" font-weight="normal" textLength="7.00" lengthAdjust="spacingAndGlyphs" fill="#111">5</text>
<text x="666.40" y="593.50" font-size="14.67" font-weight="normal" textLength="7.20" lengthAdjust="spacingAndGlyphs" fill="#111">6</text>
<text x="452.90" y="613.60" font-size="19.08" font-weight="normal" textLength="174.10" lengthAdjust="spacingAndGlyphs" fill="#111">A: PEI concentration</text>
<text x="48.10" y="668.00" font-size="20.15" font-weight="bold" textLength="12.90" lengthAdjust="spacingAndGlyphs" fill="#111">C</text>
<text x="145.80" y="651.20" font-size="20.46" font-weight="normal" textLength="94.10" lengthAdjust="spacingAndGlyphs" fill="#111">3D Surface</text>
<text transform="translate(25.50,870.60) rotate(-90)" x="0" y="0" font-size="18.17" font-weight="bold" textLength="148.70" lengthAdjust="spacingAndGlyphs" fill="#111">Immobilization&#160; Yield</text>
<text x="39.90" y="714.70" font-size="13.93" font-weight="bold" textLength="13.60" lengthAdjust="spacingAndGlyphs" fill="#111">80</text>
<text x="42.30" y="741.00" font-size="13.93" font-weight="bold" textLength="13.20" lengthAdjust="spacingAndGlyphs" fill="#111">70</text>
<text x="42.90" y="765.60" font-size="13.93" font-weight="bold" textLength="13.60" lengthAdjust="spacingAndGlyphs" fill="#111">60</text>
<text x="41.90" y="791.50" font-size="13.93" font-weight="bold" textLength="13.40" lengthAdjust="spacingAndGlyphs" fill="#111">50</text>
<text x="44.30" y="817.90" font-size="13.93" font-weight="bold" textLength="13.60" lengthAdjust="spacingAndGlyphs" fill="#111">40</text>
<text x="56.10" y="859.90" font-size="14.37" font-weight="bold" textLength="6.70" lengthAdjust="spacingAndGlyphs" fill="#111">4</text>
<text x="78.20" y="866.30" font-size="13.93" font-weight="bold" textLength="17.60" lengthAdjust="spacingAndGlyphs" fill="#111">3.4</text>
<text x="105.70" y="878.80" font-size="14.22" font-weight="bold" textLength="16.30" lengthAdjust="spacingAndGlyphs" fill="#111">2.8</text>
<text x="126.10" y="887.30" font-size="14.67" font-weight="bold" textLength="17.50" lengthAdjust="spacingAndGlyphs" fill="#111">2.2</text>
<text x="152.40" y="896.40" font-size="14.37" font-weight="bold" textLength="16.90" lengthAdjust="spacingAndGlyphs" fill="#111">1.6</text>
<text x="179.60" y="904.20" font-size="14.22" font-weight="bold" textLength="5.80" lengthAdjust="spacingAndGlyphs" fill="#111">1</text>
<text x="21.90" y="911.50" font-size="17.71" font-weight="bold" textLength="117.69" lengthAdjust="spacingAndGlyphs" fill="#111">GA concentration</text>
<text x="189.40" y="905.00" font-size="13.63" font-weight="bold" textLength="16.20" lengthAdjust="spacingAndGlyphs" fill="#111">8.5</text>
<text x="219.70" y="891.40" font-size="13.63" font-weight="bold" textLength="6.20" lengthAdjust="spacingAndGlyphs" fill="#111">9</text>
<text x="245.80" y="877.20" font-size="13.93" font-weight="bold" textLength="16.60" lengthAdjust="spacingAndGlyphs" fill="#111">9.5</text>
<text x="277.50" y="868.50" font-size="13.48" font-weight="bold" textLength="12.90" lengthAdjust="spacingAndGlyphs" fill="#111">10</text>
<text x="306.00" y="853.60" font-size="13.48" font-weight="bold" textLength="22.90" lengthAdjust="spacingAndGlyphs" fill="#111">10.5</text>
<text x="258.20" y="895.10" font-size="14.05" font-weight="bold" textLength="52.60" lengthAdjust="spacingAndGlyphs" fill="#111">B: PEI pH</text>
<text x="437.00" y="684.70" font-size="23.05" font-weight="normal" textLength="179.50" lengthAdjust="spacingAndGlyphs" fill="#111">Immobilization Yield</text>
<text x="368.00" y="692.20" font-size="13.93" font-weight="bold" textLength="5.80" lengthAdjust="spacingAndGlyphs" fill="#111">4</text>
<text x="361.10" y="737.30" font-size="13.93" font-weight="bold" textLength="17.60" lengthAdjust="spacingAndGlyphs" fill="#111">3.4</text>
<text x="363.60" y="782.00" font-size="13.93" font-weight="bold" textLength="16.50" lengthAdjust="spacingAndGlyphs" fill="#111">2.8</text>
<text x="365.30" y="828.90" font-size="13.93" font-weight="bold" textLength="16.00" lengthAdjust="spacingAndGlyphs" fill="#111">2.2</text>
<text x="366.10" y="870.90" font-size="13.93" font-weight="bold" textLength="16.20" lengthAdjust="spacingAndGlyphs" fill="#111">1.6</text>
<text x="373.80" y="916.50" font-size="13.93" font-weight="bold" textLength="4.80" lengthAdjust="spacingAndGlyphs" fill="#111">1</text>
<text transform="translate(351.80,851.90) rotate(-90)" x="0" y="0" font-size="17.86" font-weight="bold" textLength="122.69" lengthAdjust="spacingAndGlyphs" fill="#111">GA concentration</text>
<text x="380.80" y="928.70" font-size="13.93" font-weight="bold" textLength="17.10" lengthAdjust="spacingAndGlyphs" fill="#111">8.5</text>
<text x="453.70" y="928.70" font-size="13.93" font-weight="bold" textLength="7.20" lengthAdjust="spacingAndGlyphs" fill="#111">9</text>
<text x="517.10" y="928.60" font-size="13.93" font-weight="bold" textLength="16.80" lengthAdjust="spacingAndGlyphs" fill="#111">9.5</text>
<text x="587.70" y="928.90" font-size="14.07" font-weight="bold" textLength="13.40" lengthAdjust="spacingAndGlyphs" fill="#111">10</text>
<text x="656.40" y="928.70" font-size="13.93" font-weight="bold" textLength="23.10" lengthAdjust="spacingAndGlyphs" fill="#111">10.5</text>
<text x="502.80" y="946.10" font-size="14.35" font-weight="bold" textLength="53.00" lengthAdjust="spacingAndGlyphs" fill="#111">B: PEI pH</text>
</svg>
</body></html>
